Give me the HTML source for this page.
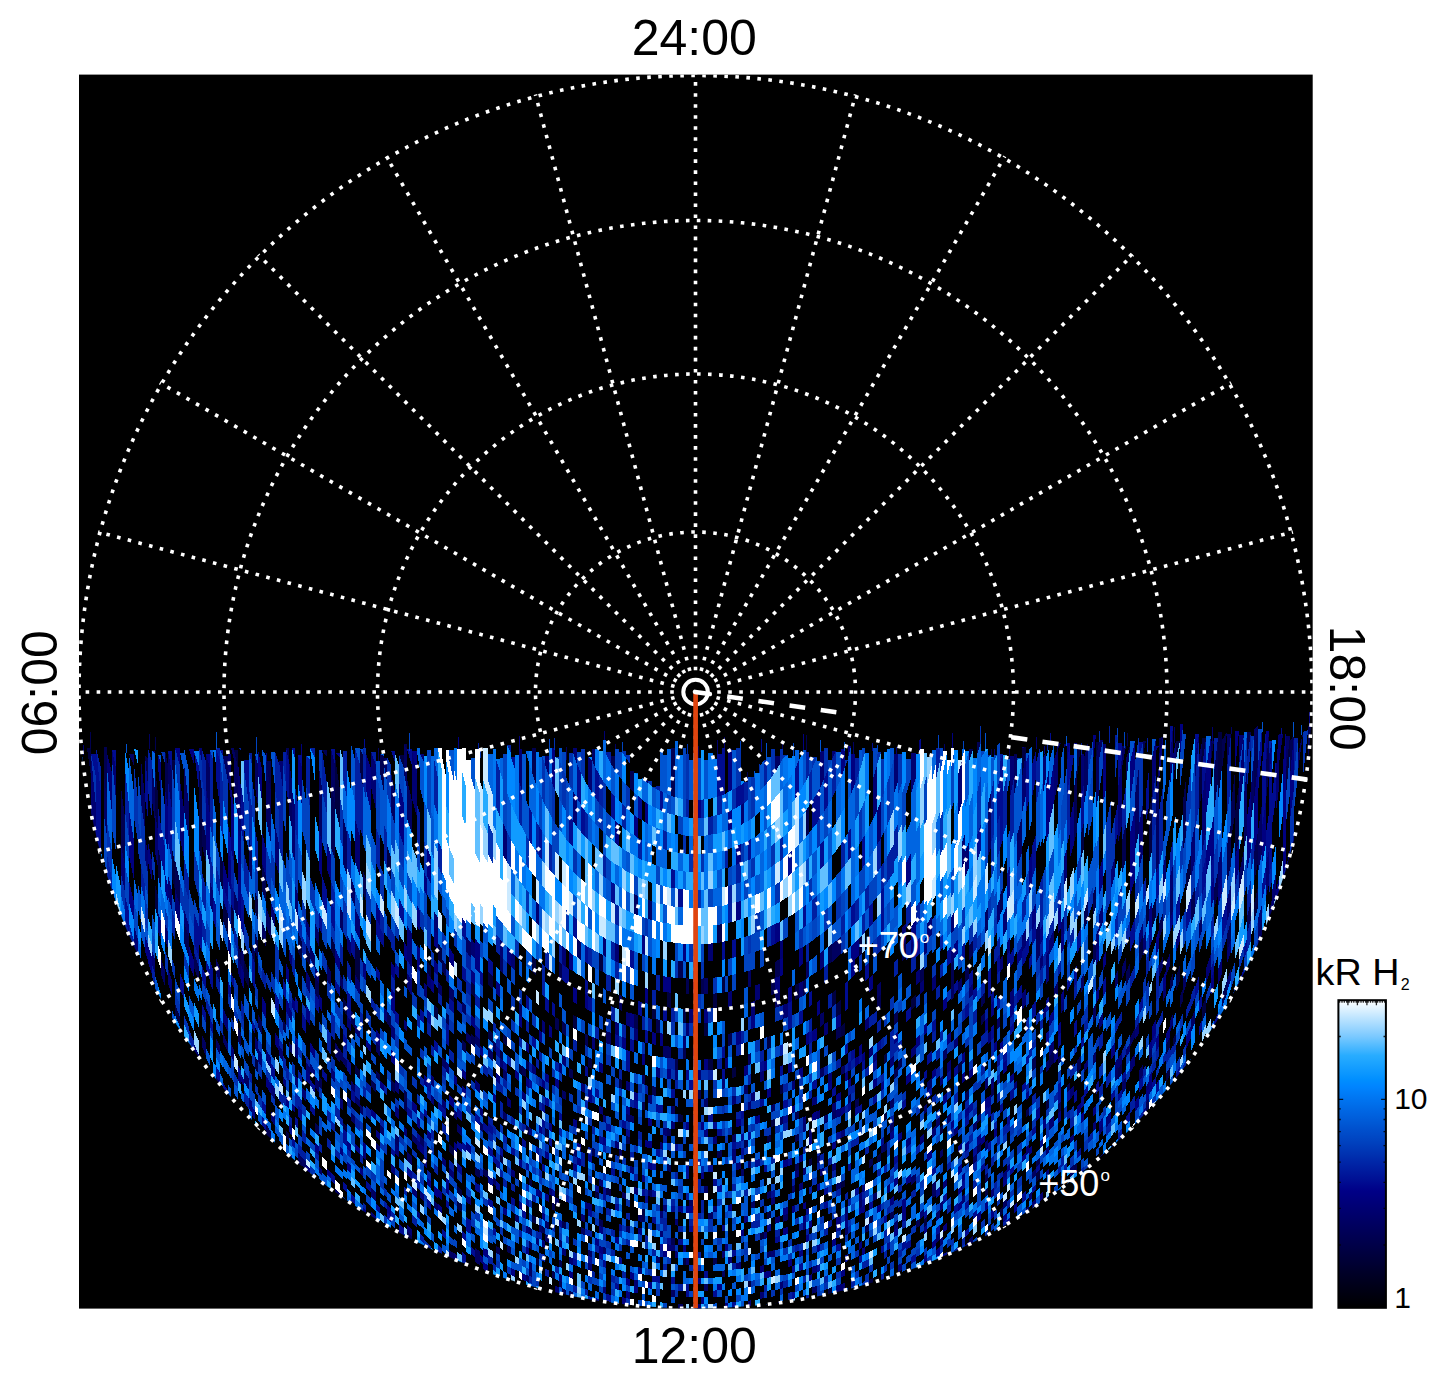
<!DOCTYPE html>
<html lang="en"><head><meta charset="utf-8"><title>Polar projection kR H2</title><style>
html,body{margin:0;padding:0;background:#fff;}
body{width:1447px;height:1384px;overflow:hidden;position:relative;font-family:"Liberation Sans",sans-serif;}
svg{position:absolute;left:0;top:0;display:block;}
text{font-family:"Liberation Sans",sans-serif;}
</style></head><body>
<svg width="1447" height="1384" viewBox="0 0 1447 1384">
<defs>
<linearGradient id="cb" x1="0" y1="0" x2="0" y2="1"><stop offset="0.0000" stop-color="#ffffff"/><stop offset="0.0200" stop-color="#e8f6ff"/><stop offset="0.0400" stop-color="#d2edff"/><stop offset="0.0600" stop-color="#bbe3ff"/><stop offset="0.0800" stop-color="#a5daff"/><stop offset="0.1000" stop-color="#8fd1ff"/><stop offset="0.1200" stop-color="#78c8ff"/><stop offset="0.1400" stop-color="#5dbfff"/><stop offset="0.1600" stop-color="#43b5ff"/><stop offset="0.1800" stop-color="#28acff"/><stop offset="0.2000" stop-color="#1ea5ff"/><stop offset="0.2200" stop-color="#149dff"/><stop offset="0.2400" stop-color="#0a96ff"/><stop offset="0.2600" stop-color="#008eff"/><stop offset="0.2800" stop-color="#0085ff"/><stop offset="0.3000" stop-color="#007df8"/><stop offset="0.3200" stop-color="#0075f1"/><stop offset="0.3400" stop-color="#006eea"/><stop offset="0.3600" stop-color="#0066e3"/><stop offset="0.3800" stop-color="#005fdc"/><stop offset="0.4000" stop-color="#0058d4"/><stop offset="0.4200" stop-color="#0050cd"/><stop offset="0.4400" stop-color="#0049c6"/><stop offset="0.4600" stop-color="#0042bf"/><stop offset="0.4800" stop-color="#003ab8"/><stop offset="0.5000" stop-color="#0032b1"/><stop offset="0.5200" stop-color="#0029aa"/><stop offset="0.5400" stop-color="#0021a3"/><stop offset="0.5600" stop-color="#00199c"/><stop offset="0.5800" stop-color="#001195"/><stop offset="0.6000" stop-color="#00088e"/><stop offset="0.6200" stop-color="#000087"/><stop offset="0.6400" stop-color="#000080"/><stop offset="0.6600" stop-color="#000078"/><stop offset="0.6800" stop-color="#000071"/><stop offset="0.7000" stop-color="#00006a"/><stop offset="0.7200" stop-color="#000063"/><stop offset="0.7400" stop-color="#00005c"/><stop offset="0.7600" stop-color="#000055"/><stop offset="0.7800" stop-color="#00004e"/><stop offset="0.8000" stop-color="#000047"/><stop offset="0.8200" stop-color="#000040"/><stop offset="0.8400" stop-color="#000039"/><stop offset="0.8600" stop-color="#000032"/><stop offset="0.8800" stop-color="#00002a"/><stop offset="0.9000" stop-color="#000023"/><stop offset="0.9200" stop-color="#00001c"/><stop offset="0.9400" stop-color="#000015"/><stop offset="0.9600" stop-color="#00000e"/><stop offset="0.9800" stop-color="#000007"/><stop offset="1.0000" stop-color="#000000"/></linearGradient>
<clipPath id="sq"><rect x="79.0" y="74.6" width="1233.7" height="1234.0"/></clipPath>
<clipPath id="disc"><circle cx="695.5" cy="692.0" r="616.5"/></clipPath>
</defs>
<rect x="0" y="0" width="1447" height="1384" fill="#fff"/>
<rect x="79.0" y="74.6" width="1233.7" height="1234.0" fill="#000"/>
<g clip-path="url(#sq)">
<g clip-path="url(#disc)" shape-rendering="crispEdges">
<path fill="#000040" d="M87 748l4 0v28l-4-28zM155 767l3 28v36l-3-18zM155 884l3 12v22l-3-11zM158 847l3 15v27l-3-13zM172 760l3 3v29l-3-27zM172 849l3 14v27l-3-12zM175 1004l5 13v10l-5-12zM184 1036l5 11v10l-5-11zM199 767l3 25v45l-3-16zM199 821l3 16v26l-3-14zM199 1060l3 6v11l-3-6zM220 850l3 13v28l-3-11zM223 899l5 16v20l-5-15zM231 903l3 10v22l-3-9zM234 750l4 0v18l-4-18zM244 960l5 13v16l-5-12zM255 891l3 10v19l-3-9zM255 1056l3 5v12l-3-5zM286 1130l3 4v7l-3-4zM298 932l4 10v19l-4-9zM306 945l4 9v13l-4-8zM331 936l4 9v14l-4-9zM335 757l5 33v39l-5-22zM343 997l4 7v12l-4-6zM343 1123l4 4v6l-4-4zM355 941l5 10v19l-5-9zM355 961l5 9v13l-5-9zM355 1064l5 7v9l-5-7zM360 749l3 6v32l-3-17zM387 845l4 12v23l-4-10zM399 755l5 0v13l-5-13zM427 961l4 6v11l-4-6zM434 1004l4 5v12l-4-5zM438 943l4 6v15l-4-5zM449 1144l5 4v8l-5-4zM457 1186l5 4v7l-5-4zM457 1201l5 3v8l-5-3zM471 982l4 4v12l-4-4zM488 972l5 5v13l-5-5zM488 1029l5 5v9l-5-4zM500 1050l3 2v9l-3-3zM500 1155l3 2v7l-3-2zM503 1034l4 3v9l-4-3zM519 1064l3 2v9l-3-2zM526 1125l3 2v8l-3-2zM529 1178l3 2v7l-3-2zM532 956l4 3v16l-4-3zM532 1215l4 2v7l-4-2zM536 1258l3 1v7l-3-1zM545 1128l4 2v8l-4-2zM573 1015l4 2v13l-4-2zM588 1057l4 2v10l-4-2zM595 1191l4 2v6l-4-1zM599 953l4 2v17l-4-2zM619 1079l3 1v9l-3-1zM642 1209l3 0v7l-3-1zM652 1005l4 0v14l-4 0zM667 992l4 1v15l-4-1zM678 1114l5 1v7l-5 0zM683 1009l3 0v14l-3 0zM683 1258l3 0v7l-3 0zM704 1023l4 0v13l-4 0zM708 1059l5 0v11l-5 0zM713 994l4-1v15l-4 0zM722 977l3-1v16l-3 1zM732 1068l4-1v10l-4 1zM748 1281l3 0v6l-3 0zM760 1233l4-1v7l-4 1zM767 1037l4-1v12l-4 1zM767 1136l4-1v7l-4 1zM767 1212l4-1v7l-4 1zM771 1120l4-1v7l-4 1zM780 1085l3-1v9l-3 1zM795 985l4-2v15l-4 2zM809 1159l3-1v7l-3 1zM828 1289l4-2v7l-4 2zM832 993l4-3v14l-4 3zM836 1004l5-4v14l-5 3zM841 1026l4-3v12l-4 2zM841 1182l4-2v7l-4 1zM859 938l3-3v18l-3 3zM869 1217l4-2v7l-4 2zM869 1280l4-2v7l-4 2zM877 1156l4-3v8l-4 2zM884 1055l3-2v9l-3 2zM884 1114l3-3v8l-3 2zM911 999l5-5v11l-5 5zM924 1219l3-2v8l-3 2zM940 1127l3-2v8l-3 2zM958 1065l4-5v9l-4 4zM985 1190l3-3v7l-3 3zM1000 1209l3-3v7l-3 3zM1022 748l4-1v4l-4 27zM1036 1173l4-4v9l-4 4zM1046 1102l3-4v9l-3 4zM1061 1177l3-4v9l-3 3zM1077 750l4-5v0l-4 33zM1081 834l3-12v26l-3 11zM1096 742l3 0v0l-3 17zM1139 946l4-11v19l-4 10zM1146 907l3-10v23l-3 9zM1149 812l3-18v57l-3 12zM1152 910l4-13v20l-4 12zM1166 1045l4-8v10l-4 8zM1166 1074l4-7v8l-4 8zM1173 1039l3-6v8l-3 6zM1176 741l4 0v0l-4 18zM1176 976l4-11v16l-4 10zM1186 875l5-21v19l-5 19zM1199 782l3-31v40l-3 21zM1202 738l4 0v0l-4 29zM1202 1007l4-10v15l-4 10zM1218 732l4 0v0l-4 39zM1218 771l4-39v35l-4 34zM1235 814l4-30v55l-4 20zM1254 904l4-17v20l-4 15zM1286 770l4-34v16l-4 43z"/>
<path fill="#000050" d="M83 767l4 38v47l-4-25zM90 732h1v17h-1zM104 747l3 0v10l-3-10zM104 747l3 10v45l-3-28zM121 787l4 31v48l-4-21zM145 756l3 2v28l-3-30zM155 737h1v13h-1zM165 750l3 15v45l-3-22zM172 760l3 0v3l-3-3zM175 860l5 22v25l-5-19zM184 922l5 16v19l-5-15zM194 953l5 14v14l-5-13zM202 816l4 22v25l-4-18zM238 945l3 8v12l-3-8zM238 1027l3 6v14l-3-6zM252 944l3 8v11l-3-8zM255 932l3 9v19l-3-8zM258 1014l4 8v13l-4-8zM262 863l4 14v25l-4-12zM266 761l5 0v31l-5-31zM266 1124l5 8v9l-5-7zM283 1019l3 6v9l-3-5zM286 748l3 0v13l-3-13zM298 1158l4 5v7l-4-5zM315 976l4 8v16l-4-7zM315 1122l4 5v10l-4-5zM319 1075l3 5v10l-3-4zM322 750l5 0v7l-5-7zM331 784l4 21v55l-4-13zM351 1010l4 6v13l-4-6zM363 871l3 8v22l-3-8zM371 1079l5 6v8l-5-7zM376 1070l4 5v7l-4-5zM380 754l4 2v37l-4-21zM387 1011l4 6v12l-4-6zM391 1080l4 4v10l-4-4zM404 744l3 0v5l-3-5zM404 1089l3 4v10l-3-3zM404 1100l3 3v10l-3-3zM407 1232l5 4v7l-5-4zM442 959l4 6v12l-4-6zM446 1012l3 4v10l-3-3zM462 1040l4 4v10l-4-4zM471 1034l4 4v9l-4-3zM475 1167l5 3v8l-5-3zM483 1168l5 3v7l-5-3zM496 1246l4 2v7l-4-2zM507 1245l4 2v7l-4-2zM522 1066l4 3v8l-4-2zM526 1060l3 2v9l-3-2zM532 748l4 0v36l-4-11zM542 1226l3 2v6l-3-1zM552 1203l3 1v7l-3-1zM552 1271l3 1v7l-3-1zM555 1017l4 2v12l-4-2zM559 962l3 2v16l-3-2zM559 1260l3 1v7l-3-1zM559 1281l3 1v6l-3-1zM562 1021l4 3v12l-4-3zM562 1221l4 1v7l-4-1zM562 1288l4 2v6l-4-1zM569 1068l4 2v9l-4-2zM569 1291l4 1v7l-4-2zM585 1034l3 1v12l-3-2zM592 1148l3 1v8l-3-1zM599 1219l4 1v7l-4-1zM606 1188l5 1v7l-5-1zM611 756l4 0v14l-4-6zM626 1136l4 1v7l-4 0zM630 771l4 0v22l-4-4zM634 1014l4 1v14l-4-1zM642 1102l3 0v8l-3 0zM642 1215l3 1v6l-3 0zM652 1086l4 1v9l-4-1zM656 1019l4 1v13l-4 0zM660 1309l3 0v7l-3-1zM667 1164l4 1v7l-4-1zM671 748l4 0v49l-4-1zM671 1238l4 0v7l-4 0zM675 1059l3 0v11l-3 0zM678 961l5 0v17l-5 0zM683 1048l3 0v11l-3 0zM686 978l3 1v15l-3 0zM693 1009l4 0v14l-4 0zM698 746h1v13h-1zM697 1090l4 0v9l-4 0zM701 979l3-1v16l-3 0zM713 1258l4 0v6l-4 1zM717 925l5-1v18l-5 1zM717 1151l5-1v7l-5 1zM728 1034l4-1v12l-4 1zM747 772h1v11h-1zM744 1140l4 0v7l-4 1zM771 980l4-2v16l-4 1zM775 962l5-3v17l-5 2zM795 1112l4-1v8l-4 1zM795 1135l4-1v7l-4 1zM795 1164l4-1v7l-4 1zM803 981l3-2v15l-3 2zM806 735h1v18h-1zM806 811l3-5v27l-3 4zM828 947l4-3v18l-4 2zM836 1029l5-3v11l-5 3zM855 1100l4-2v8l-4 2zM865 1226l4-2v7l-4 2zM869 1160l4-2v7l-4 3zM877 998l4-3v12l-4 4zM884 1144l3-2v8l-3 2zM890 1213l4-2v7l-4 2zM894 1014l4-4v11l-4 4zM894 1070l4-3v9l-4 3zM898 1061l4-3v8l-4 4zM902 946l4-5v16l-4 5zM916 1221l4-2v7l-4 2zM920 970l4-4v13l-4 4zM951 965l3-5v12l-3 4zM951 976l3-4v12l-3 4zM965 970l4-6v14l-4 5zM965 1093l4-4v9l-4 4zM969 749l4 0v0l-4 13zM969 946l4-6v15l-4 6zM977 742l4 0v0l-4 13zM977 1146l4-4v9l-4 3zM981 998l4-6v10l-4 6zM981 1017l4-5v8l-4 6zM985 1175l3-3v8l-3 3zM991 749h1v10h-1zM991 1090l3-3v7l-3 4zM1000 895l3-7v21l-3 6zM1009 747h1v13h-1zM1014 754l3 0v0l-3 6zM1026 1111l3-4v7l-3 3zM1032 1060l4-5v12l-4 5zM1036 1161l4-4v6l-4 5zM1049 1057l5-8v13l-5 7zM1058 1058l3-4v7l-3 5zM1058 1105l3-4v9l-3 4zM1067 1086l3-4v7l-3 4zM1074 788l3-20v63l-3 12zM1074 1166l3-4v8l-3 4zM1077 1061l4-6v13l-4 6zM1081 1176l3-3v7l-3 3zM1084 912l4-11v19l-4 10zM1093 895l3-9v21l-3 9zM1093 946l3-7v20l-3 6zM1118 1069l4-6v10l-4 7zM1122 841l4-18v36l-4 15zM1127 733h1v13h-1zM1126 972l4-9v14l-4 9zM1143 741l3 0v0l-3 14zM1146 1103l3-5v10l-3 5zM1159 738l4-1v0l-4 18zM1159 925l4-12v15l-4 12zM1170 981l3-8v12l-3 7zM1180 996l3-7v12l-3 7zM1183 801l3-23v58l-3 15zM1191 901l4-15v26l-4 13zM1206 1043l5-11v9l-5 11zM1211 741l3 0v0l-3 20zM1214 773l4-35v43l-4 30zM1214 889l4-17v23l-4 14zM1222 740l5-8v0l-5 38zM1222 995l5-14v13l-5 13zM1227 846l4-23v42l-4 17zM1227 935l4-14v18l-4 13zM1231 805l4-34v44l-4 24zM1247 732l4 0v0l-4 28zM1247 917l4-16v18l-4 14zM1254 760l4-35v38l-4 38zM1254 854l4-23v32l-4 19zM1266 765l3-34v43l-3 27zM1290 741l4-6v0l-4 41zM1308 726l4 0v0l-4 36z"/>
<path fill="#000061" d="M104 774l3 28v34l-3-20zM112 887l4 17v20l-4-15zM129 754l5 0v12l-5-12zM141 759l4 39v31l-4-26zM149 734h1v15h-1zM152 764l3 28v29l-3-20zM161 959l4 11v16l-4-11zM168 751l4 22v38l-4-31zM184 764l5 41v34l-5-29zM202 1035l4 8v13l-4-9zM206 754l4 15v46l-4-27zM216 958l4 10v15l-4-10zM216 1038l4 8v9l-4-8zM216 1076l4 7v8l-4-7zM223 756l5 0v4l-5-4zM223 756l5 4v22l-5-26zM223 1033l5 11v8l-5-10zM231 748l3 0v12l-3-12zM234 750l4 18v50l-4-24zM234 890l4 13v17l-4-12zM241 947l3 8v18l-3-8zM244 1070l5 9v11l-5-8zM249 838l3 13v30l-3-11zM255 754l3 11v41l-3-19zM262 921l4 11v15l-4-10zM266 761l5 31v51l-5-23zM266 907l5 14v18l-5-13zM289 761l3 20v47l-3-14zM289 1041l3 5v8l-3-5zM298 1152l4 6v5l-4-5zM302 1157l4 5v8l-4-5zM310 945l5 11v12l-5-10zM315 923l4 10v14l-4-10zM315 1076l4 6v11l-4-6zM319 768l3 20v53l-3-11zM319 1167l3 3v6l-3-4zM327 964l4 8v15l-4-7zM331 749l4 16v40l-4-21zM335 1042l5 8v13l-5-7zM335 1188l5 6v6l-5-6zM340 906l3 7v20l-3-6zM340 974l3 6v11l-3-6zM340 1049l3 5v9l-3-4zM343 817l4 16v42l-4-12zM343 1056l4 5v8l-4-6zM351 878l4 11v18l-4-10zM351 1080l4 6v7l-4-5zM351 1112l4 5v8l-4-5zM355 1095l5 6v7l-5-6zM360 1104l3 4v8l-3-4zM371 1188l5 5v8l-5-4zM378 748h1v14h-1zM376 1042l4 5v10l-4-6zM376 1142l4 5v6l-4-4zM380 1125l4 4v8l-4-5zM384 758l3 0v24l-3-17zM391 772l4 20v33l-4-14zM395 1134l4 4v10l-4-4zM404 744l3 5v39l-3-14zM407 779l5 22v33l-5-16zM407 1152l5 5v8l-5-4zM412 1134l5 4v7l-5-4zM420 1136l4 4v8l-4-4zM434 1201l4 3v7l-4-3zM438 981l4 6v10l-4-5zM442 1057l4 4v9l-4-4zM449 985l5 6v12l-5-6zM449 1250l5 3v8l-5-3zM457 1124l5 5v7l-5-4zM462 1001l4 5v10l-4-4zM466 936l5 7v15l-5-7zM466 1032l5 5v9l-5-5zM475 1035l5 5v9l-5-5zM475 1248l5 3v7l-5-3zM475 1255l5 3v7l-5-3zM475 1269l5 3v7l-5-3zM480 1122l3 3v7l-3-2zM488 1048l5 4v9l-5-4zM493 1041l3 2v9l-3-2zM493 1177l3 2v7l-3-2zM500 956l3 3v15l-3-3zM503 1069l4 4v8l-4-3zM503 1111l4 3v7l-4-2zM515 1214l4 2v7l-4-2zM519 1003l3 2v12l-3-2zM526 1275l3 1v7l-3-2zM529 1227l3 2v7l-3-2zM529 1241l3 2v7l-3-2zM529 1262l3 1v7l-3-1zM529 1269l3 1v7l-3-1zM539 1225l3 1v7l-3-1zM545 1221l4 1v7l-4-1zM545 1234l4 2v7l-4-2zM555 1197l4 2v7l-4-2zM559 1240l3 1v7l-3-1zM562 1090l4 2v8l-4-2zM566 747h1v13h-1zM573 1149l4 1v7l-4-1zM577 939l4 3v18l-4-3zM581 1227l4 2v6l-4-1zM588 1250l4 1v6l-4-1zM592 749l3 0v18l-3-7zM603 1247l3 1v6l-3 0zM606 1031l5 2v12l-5-2zM615 744h1v7h-1zM619 995l3 1v15l-3-2zM619 1149l3 1v7l-3-1zM622 1192l4 1v6l-4-1zM626 1114l4 1v7l-4-1zM626 1226l4 0v7l-4-1zM630 1115l4 1v7l-4-1zM634 894l4 2v19l-4-1zM638 1215l4 0v7l-4-1zM642 1075l3 0v10l-3-1zM648 900l4 1v19l-4-1zM648 1190l4 0v7l-4-1zM656 1256l4 1v6l-4 0zM663 1046l4 0v12l-4-1zM667 1046l4 1v11l-4 0zM667 1128l4 1v7l-4 0zM671 1106l4 0v8l-4 0zM671 1290l4 0v7l-4 0zM671 1310l4 0v6l-4 0zM678 1304l5 0v6l-5 0zM689 1200l4 0v6l-4 0zM693 1144l4 0v7l-4 0zM704 978l4 0v16l-4 0zM704 1099l4-1v9l-4 0zM704 1186l4 0v7l-4 0zM704 1284l4 0v7l-4 0zM708 1213l5-1v7l-5 0zM722 1271l3-1v7l-3 0zM732 1135l4-1v8l-4 0zM741 1169l3 0v7l-3 0zM744 1085l4 0v9l-4 0zM748 971l3-1v17l-3 0zM748 1054l3-1v11l-3 1zM748 1161l3 0v7l-3 0zM751 1202l4-1v7l-4 0zM767 1192l4-1v7l-4 1zM767 1252l4-1v6l-4 1zM771 1105l4-1v7l-4 1zM775 756l5 0v8l-5 8zM775 994l5-2v14l-5 2zM782 743h1v7h-1zM780 1117l3-1v8l-3 1zM783 1215l5-1v6l-5 2zM792 1186l3-1v7l-3 1zM806 962l3-1v16l-3 2zM812 1287l5-1v6l-5 2zM817 1156l3-1v7l-3 1zM820 1014l4-2v12l-4 3zM820 1069l4-2v9l-4 2zM824 1116l4-2v8l-4 2zM832 944l4-3v17l-4 4zM832 1112l4-2v8l-4 2zM836 941l5-5v18l-5 4zM836 1184l5-2v6l-5 3zM841 1067l4-2v8l-4 2zM845 1207l3-1v7l-3 1zM845 1228l3-1v7l-3 1zM848 1096l3-2v8l-3 2zM853 742h1v14h-1zM859 1201l3-1v7l-3 1zM873 1194l4-2v7l-4 2zM877 985l4-4v14l-4 3zM881 1146l3-2v8l-3 1zM890 1101l4-3v9l-4 2zM890 1125l4-3v8l-4 3zM894 1223l4-3v7l-4 3zM911 1177l5-3v7l-5 4zM924 1106l3-3v9l-3 2zM927 1082l5-5v10l-5 4zM932 1184l4-3v7l-4 3zM932 1191l4-3v8l-4 2zM936 1120l4-3v8l-4 3zM936 1213l4-3v8l-4 3zM936 1235l4-2v7l-4 3zM940 1151l3-3v7l-3 3zM944 744h1v8h-1zM943 1052l4-5v10l-4 4zM947 1116l4-4v8l-4 4zM951 988l3-4v13l-3 4zM958 983l4-6v12l-4 6zM969 1239l4-3v8l-4 3zM973 1124l4-4v8l-4 4zM973 1157l4-4v8l-4 3zM977 1116l4-4v7l-4 4zM985 913l3-6v22l-3 5zM985 1142l3-3v9l-3 3zM988 804l3-12v56l-3 8zM997 1020l3-4v10l-3 4zM1003 1202l4-4v7l-4 4zM1014 760l3-6v27l-3 15zM1017 835l5-18v36l-5 14zM1026 1208l3-3v5l-3 3zM1032 1172l4-4v7l-4 4zM1036 930l4-9v19l-4 8zM1036 948l4-8v15l-4 8zM1046 1063l3-4v10l-3 4zM1054 989l4-8v12l-4 7zM1058 743l3 0v0l-3 6zM1070 1169l4-5v9l-4 5zM1081 979l3-6v14l-3 6zM1084 758l4-16v40l-4 23zM1093 1009l3-6v14l-3 6zM1093 1056l3-5v10l-3 5zM1096 759l3-17v51l-3 17zM1099 740l4 0v0l-4 19zM1115 976l3-6v13l-3 6zM1115 1071l3-5v12l-3 4zM1122 746l4 0v0l-4 22zM1122 967l4-10v13l-4 9zM1122 1083l4-6v11l-4 7zM1126 759l4-14v4l-4 35zM1130 1038l5-10v9l-5 10zM1135 796l4-30v66l-4 18zM1139 1071l4-7v11l-4 7zM1149 1053l3-5v8l-3 5zM1156 790l3-25v66l-3 14zM1156 845l3-14v31l-3 12zM1159 966l4-10v11l-4 10zM1170 897l3-11v24l-3 10zM1174 727h1v16h-1zM1183 979l3-8v15l-3 8zM1191 1019l4-9v13l-4 9zM1199 756l3-14v9l-3 31zM1199 925l3-10v15l-3 10zM1227 734l4 0v0l-4 34zM1231 727h1v7h-1zM1239 874l5-24v19l-5 21zM1244 796l3-27v64l-3 16zM1251 787l3-31v44l-3 21zM1254 730l4-5v0l-4 35zM1258 831l4-27v49l-4 20zM1258 933l4-15v20l-4 13zM1269 911l3-12v20l-3 12zM1286 736l4 0v0l-4 34zM1298 754l5-21v0l-5 39zM1308 762l4-36v25l-4 45z"/>
<path fill="#000071" d="M83 745h1v10h-1zM91 756l5 51v46l-5-31zM107 753l5 20v40l-5-44zM112 750l4 18v32l-4-40zM121 845l4 21v26l-4-18zM134 926l4 14v19l-4-13zM145 837l3 16v20l-3-14zM152 751l3 0v3l-3-3zM152 950l3 10v13l-3-9zM155 813l3 18v36l-3-14zM158 912l3 10v19l-3-10zM165 923l3 10v16l-3-10zM168 875l4 16v20l-4-15zM168 969l4 11v15l-4-11zM175 888l5 19v19l-5-17zM180 780l4 30v48l-4-19zM184 909l5 17v12l-5-16zM194 1044l5 11v7l-5-10zM194 1052l5 10v12l-5-10zM199 748l3 0v14l-3-14zM210 881l3 11v22l-3-10zM223 1008l5 11v13l-5-10zM228 751l3 4v45l-3-21zM228 936l3 8v14l-3-8zM231 1044l3 6v12l-3-6zM238 763l3 25v55l-3-14zM238 957l3 8v15l-3-7zM238 1073l3 5v7l-3-5zM249 1097l3 5v11l-3-5zM255 1036l3 6v12l-3-6zM258 1048l4 7v13l-4-7zM266 1049l5 9v11l-5-9zM271 902l4 12v13l-4-11zM271 1082l4 7v11l-4-6zM271 1111l4 6v9l-4-6zM275 826l4 18v31l-4-14zM279 761l4 0v29l-4-29zM279 1045l4 7v10l-4-7zM283 1076l3 5v7l-3-5zM289 949l3 7v11l-3-7zM289 1007l3 6v10l-3-6zM292 790l3 17v55l-3-11zM295 885l3 10v21l-3-8zM295 1042l3 6v12l-3-5zM295 1074l3 5v10l-3-5zM295 1161l3 4v6l-3-4zM302 1087l4 5v10l-4-6zM306 918l4 10v13l-4-10zM306 970l4 8v16l-4-8zM306 1062l4 6v7l-4-6zM310 1063l5 8v7l-5-7zM315 966l4 8v10l-4-8zM331 1067l4 6v10l-4-6zM340 1097l3 4v10l-3-3zM347 935l4 8v14l-4-8zM347 1015l4 7v10l-4-6zM355 819l5 18v39l-5-14zM355 908l5 12v20l-5-10zM355 974l5 9v12l-5-8zM355 1024l5 8v7l-5-7zM363 1148l3 4v9l-3-4zM371 752l5 13v45l-5-23zM371 1212l5 5v7l-5-4zM384 1007l3 4v12l-3-4zM391 1024l4 5v12l-4-5zM391 1164l4 3v9l-4-4zM395 1079l4 5v11l-4-5zM395 1106l4 4v10l-4-4zM395 1144l4 4v10l-4-4zM404 1019l3 4v9l-3-4zM404 1127l3 3v8l-3-3zM407 925l5 9v17l-5-8zM407 943l5 8v17l-5-8zM407 973l5 8v15l-5-8zM407 1225l5 4v7l-5-4zM412 751l5 24v42l-5-18zM412 1187l5 4v7l-5-4zM417 1140l3 3v9l-3-3zM417 1211l3 2v6l-3-2zM420 754l4 0v8l-4-8zM420 1191l4 3v7l-4-3zM424 982l3 4v13l-3-4zM424 1157l3 3v8l-3-2zM427 972l4 6v12l-4-5zM431 1075l3 3v10l-3-3zM431 1095l3 3v8l-3-3zM434 911l4 7v18l-4-7zM442 1099l4 4v8l-4-4zM442 1157l4 3v8l-4-4zM446 1062l3 3v10l-3-3zM449 1168l5 4v7l-5-4zM454 1110l3 3v8l-3-3zM454 1253l3 2v8l-3-2zM466 1195l5 3v7l-5-3zM471 938l4 6v15l-4-5zM475 1080l5 4v9l-5-4zM480 1107l3 2v8l-3-2zM500 939l3 4v16l-3-3zM500 1058l3 3v8l-3-2zM503 823l4 9v30l-4-7zM507 1097l4 3v8l-4-2zM511 951l4 5v15l-4-4zM511 1169l4 2v7l-4-2zM519 749l3 0v41l-3-8zM522 1091l4 3v8l-4-3zM526 1226l3 1v7l-3-1zM529 1127l3 2v7l-3-1zM532 1064l4 3v8l-4-2zM536 902l3 3v21l-3-3zM536 1238l3 1v7l-3-2zM539 1190l3 2v7l-3-2zM542 1020l3 2v12l-3-2zM542 1240l3 1v7l-3-1zM545 756l4 0v20l-4-12zM549 1188l3 1v7l-3-1zM555 1286l4 1v7l-4-1zM559 1063l3 1v10l-3-2zM559 1274l3 1v7l-3-1zM562 946l4 3v18l-4-3zM562 1055l4 2v10l-4-3zM562 1248l4 1v7l-4-1zM569 1257l4 1v7l-4-1zM573 748l4 0v16l-4-11zM573 791l4 7v29l-4-6zM581 1083l4 1v9l-4-2zM581 1214l4 1v7l-4-1zM585 1202l3 1v6l-3 0zM588 757l4 3v33l-4-7zM588 1203l4 1v7l-4-2zM588 1263l4 1v7l-4-1zM592 1037l3 1v12l-3-1zM599 1106l4 1v8l-4-2zM599 1179l4 1v7l-4-1zM604 731h1v10h-1zM603 937l3 2v18l-3-2zM603 1115l3 1v7l-3-1zM603 1287l3 0v7l-3-1zM615 943l4 2v18l-4-2zM615 1022l4 1v13l-4-2zM615 1141l4 1v7l-4-1zM626 1012l4 1v14l-4-2zM626 1081l4 1v9l-4-1zM630 1166l4 1v7l-4-1zM634 1028l4 1v12l-4-1zM634 1187l4 1v7l-4-1zM634 1280l4 0v7l-4-1zM638 1267l4 1v6l-4 0zM645 780l3 0v3l-3-2zM648 1095l4 0v9l-4-1zM656 1067l4 1v10l-4-1zM660 1142l3 1v7l-3-1zM660 1211l3 0v7l-3 0zM660 1231l3 0v6l-3 0zM663 1128l4 0v8l-4-1zM663 1205l4 0v7l-4-1zM667 1244l4 1v6l-4 0zM671 1121l4 1v7l-4 0zM671 1245l4 0v6l-4 0zM675 1070l3 0v10l-3 0zM675 1219l3 0v7l-3-1zM675 1251l3 1v6l-3 0zM683 1036l3 0v12l-3 0zM686 1023l3 0v13l-3 0zM686 1258l3 0v7l-3 0zM689 1009l4 0v14l-4 0zM693 979l4 0v15l-4 0zM697 1070l4 0v10l-4 0zM697 1304l4 0v6l-4 0zM708 944l5-1v18l-5 0zM713 1137l4-1v8l-4 0zM713 1206l4 0v6l-4 0zM717 740h1v15h-1zM724 737h1v12h-1zM722 1079l3 0v9l-3 1zM722 1251l3 0v6l-3 1zM725 1058l3-1v11l-3 1zM728 992l4-1v15l-4 1zM728 1257l4 0v6l-4 1zM732 1096l4 0v8l-4 1zM732 1149l4 0v7l-4 0zM732 1156l4 0v7l-4 1zM736 1163l5-1v7l-5 1zM736 1263l5-1v7l-5 0zM741 805l3-2v20l-3 2zM748 1102l3-1v8l-3 1zM748 1301l3-1v7l-3 0zM751 1002l4-1v14l-4 1zM751 1093l4-1v9l-4 0zM755 985l5-1v15l-5 2zM760 1072l4-1v10l-4 1zM760 1266l4-1v7l-4 1zM760 1292l4 0v6l-4 1zM764 1232l3 0v6l-3 1zM771 1198l4-1v7l-4 1zM771 1251l4-1v7l-4 0zM775 1217l5-1v6l-5 2zM780 941l3-1v18l-3 1zM780 1282l3-1v7l-3 1zM783 1005l5-2v14l-5 2zM792 1081l3-1v9l-3 1zM795 1171l4-1v7l-4 1zM799 983l4-2v15l-4 2zM799 1184l4-2v7l-4 2zM803 1117l3-1v8l-3 1zM803 1125l3-1v7l-3 1zM803 1168l3-1v7l-3 1zM803 1223l3-1v7l-3 1zM809 1130l3-1v7l-3 1zM812 1098l5-2v8l-5 2zM812 1267l5-2v7l-5 2zM817 1111l3-1v8l-3 1zM820 751l4 0v28l-4 9zM820 953l4-3v17l-4 3zM820 1169l4-1v7l-4 1zM824 1024l4-2v12l-4 2zM828 1074l4-2v8l-4 3zM832 751l4 0v0l-4 8zM832 1104l4-2v8l-4 2zM832 1164l4-1v7l-4 1zM836 1110l5-2v8l-5 2zM836 1286l5-2v7l-5 2zM841 1131l4-2v7l-4 2zM841 1284l4-1v7l-4 1zM845 1214l3-1v7l-3 1zM859 1194l3-2v8l-3 1zM862 1185l3-1v7l-3 1zM865 1020l4-3v11l-4 3zM869 1049l4-3v9l-4 3zM873 779l4-14v46l-4 8zM873 1055l4-3v8l-4 3zM877 811l4-10v37l-4 7zM887 1186l3-2v8l-3 1zM890 1059l4-3v9l-4 3zM896 747h1v9h-1zM894 754l4 0v27l-4 13zM898 1265l4-2v7l-4 2zM902 928l4-5v18l-4 5zM906 1140l5-3v7l-5 4zM911 753l5 0v24l-5 17zM911 944l5-6v16l-5 6zM911 1049l5-5v9l-5 5zM916 973l4-5v13l-4 5zM920 983l4-4v11l-4 5zM920 1137l4-3v8l-4 3zM920 1212l4-3v7l-4 3zM924 941l3-5v16l-3 4zM927 924l5-8v18l-5 7zM932 979l4-5v13l-4 5zM932 1129l4-3v8l-4 4zM940 1078l3-3v8l-3 3zM940 1203l3-2v8l-3 2zM940 1239l3-2v7l-3 2zM943 1182l4-3v7l-4 3zM947 1063l4-4v10l-4 4zM951 918l3-6v18l-3 4zM951 951l3-4v13l-3 5zM954 1040l4-4v9l-4 5zM954 1129l4-4v7l-4 4zM958 775l4-15v42l-4 14zM962 842l3-8v27l-3 7zM962 1196l3-2v8l-3 2zM965 852l4-10v26l-4 9zM969 989l4-6v11l-4 5zM985 1079l3-3v11l-3 3zM988 1034l3-4v11l-3 4zM991 1080l3-4v11l-3 3zM991 1190l3-2v7l-3 3zM994 749h1v7h-1zM997 906l3-7v20l-3 6zM1000 960l3-5v13l-3 5zM1003 915l4-9v23l-4 8zM1003 1173l4-4v6l-4 4zM1007 943l3-6v13l-3 6zM1010 756l4 0v22l-4 20zM1010 993l4-6v15l-4 6zM1014 1084l3-4v7l-3 4zM1022 778l4-27v44l-4 18zM1022 936l4-8v17l-4 7zM1022 994l4-6v16l-4 6zM1026 1148l3-4v8l-3 3zM1029 1194l3-3v7l-3 3zM1029 1212l3-3v7l-3 3zM1032 1202l4-4v6l-4 4zM1036 737h1v12h-1zM1040 959l3-6v12l-3 6zM1040 1194l3-3v7l-3 3zM1043 758l3-5v24l-3 17zM1043 1011l3-5v10l-3 5zM1046 956l3-6v17l-3 6zM1046 973l3-6v13l-3 5zM1046 1149l3-4v7l-3 4zM1046 1171l3-3v5l-3 4zM1049 941l5-11v15l-5 10zM1049 1047l5-7v9l-5 8zM1049 1121l5-6v10l-5 6zM1057 742h1v8h-1zM1054 760l4-12v34l-4 21zM1061 923l3-7v15l-3 6zM1061 1005l3-6v10l-3 5zM1064 744l3 0v0l-3 4zM1064 858l3-10v29l-3 8zM1070 1090l4-5v9l-4 6zM1070 1138l4-5v6l-4 5zM1081 754l3 0v29l-3 17zM1084 1065l4-6v7l-4 7zM1093 1124l3-4v8l-3 4zM1096 935l3-7v18l-3 7zM1099 915l4-11v18l-4 10zM1099 1020l4-8v11l-4 7zM1099 1129l4-6v7l-4 6zM1103 744l3 0v0l-3 21zM1103 1155l3-4v6l-3 4zM1106 1118l5-7v10l-5 7zM1111 871l4-14v18l-4 14zM1115 1063l3-5v8l-3 5zM1118 789l4-32v68l-4 18zM1118 1059l4-7v11l-4 6zM1126 1050l4-7v8l-4 7zM1130 1062l5-9v12l-5 8zM1135 1030l4-8v11l-4 7zM1139 825l4-22v50l-4 16zM1139 935l4-12v12l-4 11zM1143 939l3-8v17l-3 8zM1146 1087l3-6v7l-3 5zM1152 759l4-20v33l-4 29zM1163 867l3-13v23l-3 11zM1163 992l3-7v10l-3 7zM1166 963l4-10v13l-4 10zM1170 758l3-32v34l-3 26zM1170 877l3-12v21l-3 11zM1170 1021l3-7v11l-3 7zM1173 756l3-15v15l-3 28zM1176 941l4-12v12l-4 12zM1191 845l4-20v35l-4 17zM1195 756l4-22v4l-4 44zM1202 802l4-33v64l-4 20zM1206 968l5-14v15l-5 14zM1212 727h1v16h-1zM1218 864l4-19v28l-4 17zM1218 969l4-11v16l-4 11zM1227 900l4-16v24l-4 14zM1227 952l4-13v12l-4 13zM1227 980l4-11v11l-4 11zM1239 735l5 0v0l-5 30zM1239 786l5-51v37l-5 41zM1258 919l4-15v14l-4 15zM1266 865l3-15v34l-3 13zM1269 756l3-15v5l-3 36zM1272 891l4-18v22l-4 16zM1276 770l3-42v60l-3 24zM1279 734l4 0v0l-4 30zM1286 869l4-21v32l-4 18z"/>
<path fill="#000081" d="M129 810l5 31v39l-5-24zM129 881l5 21v19l-5-19zM145 935l3 10v15l-3-9zM148 841l4 21v19l-4-19zM148 945l4 12v17l-4-12zM158 755l3 8v32l-3-28zM165 788l3 22v41l-3-15zM165 874l3 12v16l-3-12zM175 748l5 0v18l-5-18zM189 749l5 0v15l-5-15zM189 946l5 14v17l-5-13zM206 754l4 0v15l-4-15zM206 788l4 27v51l-4-18zM223 860l5 20v21l-5-17zM228 849l3 13v29l-3-11zM231 787l3 20v55l-3-13zM238 829l3 14v39l-3-12zM238 870l3 12v24l-3-10zM238 896l3 10v16l-3-9zM241 965l3 8v16l-3-7zM241 1074l3 6v6l-3-5zM252 1106l3 5v9l-3-5zM258 750l4 19v32l-4-28zM262 832l4 17v28l-4-14zM262 996l4 8v15l-4-8zM266 753h1v9h-1zM266 1076l5 8v10l-5-8zM275 1032l4 7v12l-4-7zM286 963l3 7v15l-3-7zM286 998l3 6v13l-3-6zM286 1096l3 4v9l-3-4zM292 997l3 5v11l-3-6zM292 1103l3 4v6l-3-4zM301 744h1v12h-1zM298 755l4 12v39l-4-24zM306 1004l4 8v14l-4-7zM306 1069l4 6v10l-4-5zM306 1165l4 4v8l-4-5zM306 1172l4 5v5l-4-4zM310 1042l5 8v9l-5-8zM315 1142l4 5v9l-4-5zM319 830l3 11v37l-3-9zM319 994l3 5v13l-3-6zM322 1181l5 6v8l-5-5zM327 842l4 14v25l-4-12zM327 1168l4 5v6l-4-5zM335 753l5 0v4l-5-4zM335 948l5 11v13l-5-10zM340 1146l3 4v7l-3-3zM347 1140l4 5v8l-4-5zM347 1161l4 5v8l-4-4zM355 1143l5 6v6l-5-6zM360 1167l3 3v7l-3-3zM360 1210l3 3v6l-3-3zM363 960l3 5v16l-3-5zM363 1142l3 3v7l-3-4zM363 1208l3 3v6l-3-3zM366 754l5 14v44l-5-22zM366 1039l5 7v7l-5-7zM371 1108l5 6v7l-5-6zM376 902l4 9v15l-4-8zM376 1029l4 6v12l-4-5zM376 1130l4 4v7l-4-4zM380 1080l4 5v7l-4-4zM387 1205l4 4v8l-4-4zM391 961l4 7v13l-4-7zM391 988l4 6v13l-4-6zM391 1001l4 6v8l-4-6zM391 1049l4 5v12l-4-5zM399 782l5 22v42l-5-15zM404 941l3 6v15l-3-5zM412 751l5 0v24l-5-24zM412 1101l5 5v9l-5-5zM417 905l3 6v20l-3-5zM417 944l3 5v13l-3-5zM417 957l3 5v10l-3-4zM417 1117l3 3v9l-3-2zM420 1144l4 4v8l-4-4zM424 872l3 7v17l-3-6zM424 1075l3 3v10l-3-4zM427 848l4 9v27l-4-8zM427 1130l4 4v8l-4-4zM427 1178l4 3v7l-4-3zM431 978l3 4v12l-3-4zM434 929l4 7v15l-4-6zM434 959l4 6v11l-4-5zM434 1186l4 3v9l-4-3zM438 1189l4 3v8l-4-3zM438 1204l4 3v6l-4-3zM446 1178l3 3v7l-3-2zM446 1186l3 2v7l-3-2zM446 1257l3 2v7l-3-2zM449 947l5 8v13l-5-7zM449 1095l5 5v8l-5-4zM454 1075l3 3v9l-3-3zM454 1142l3 3v7l-3-2zM458 737h1v13h-1zM462 1069l4 3v9l-4-4zM462 1086l4 3v9l-4-3zM466 1142l5 4v8l-5-4zM471 969l4 5v12l-4-4zM471 1015l4 4v10l-4-4zM475 938l5 7v15l-5-6zM475 954l5 6v14l-5-6zM480 1046l3 3v9l-3-3zM480 1255l3 2v7l-3-2zM483 1248l5 2v8l-5-3zM483 1262l5 3v7l-5-3zM493 1093l3 2v8l-3-2zM496 981l4 4v13l-4-4zM496 1073l4 3v8l-4-3zM503 1207l4 2v7l-4-2zM507 947l4 4v16l-4-4zM511 1268l4 2v7l-4-2zM515 1070l4 3v8l-4-3zM519 736h1v15h-1zM519 1015l3 2v11l-3-2zM519 1159l3 1v8l-3-2zM519 1201l3 2v7l-3-1zM522 1273l4 2v6l-4-1zM526 1042l3 2v10l-3-3zM526 1077l3 2v9l-3-2zM526 1247l3 1v7l-3-1zM536 1189l3 1v7l-3-1zM539 1030l3 2v11l-3-2zM539 1125l3 2v7l-3-1zM542 1079l3 2v8l-3-2zM542 1213l3 1v7l-3-2zM545 1073l4 2v8l-4-2zM545 1151l4 2v7l-4-2zM545 1193l4 2v7l-4-2zM549 1025l3 2v11l-3-1zM549 1123l3 1v8l-3-2zM552 748l3 0v42l-3-7zM552 1292l3 1v7l-3-2zM555 1078l4 2v9l-4-3zM569 952l4 3v16l-4-2zM569 1271l4 1v7l-4-2zM573 987l4 2v15l-4-2zM573 1119l4 1v8l-4-2zM573 1163l4 2v7l-4-2zM577 1143l4 1v8l-4-2zM577 1157l4 2v7l-4-1zM585 994l3 2v14l-3-2zM588 1086l4 1v8l-4-1zM588 1094l4 1v8l-4-1zM595 1238l4 1v7l-4-1zM599 1062l4 2v9l-4-1zM599 1226l4 1v7l-4-1zM599 1246l4 1v7l-4-1zM603 1137l3 1v8l-3-1zM615 821l4 3v22l-4-3zM615 1237l4 0v7l-4-1zM622 1037l4 1v12l-4-2zM622 1297l4 1v7l-4-1zM626 1106l4 1v8l-4-1zM626 1278l4 1v7l-4-1zM626 1291l4 1v7l-4-1zM630 1013l4 1v14l-4-1zM630 1272l4 1v7l-4-1zM630 1305l4 1v6l-4 0zM634 815l4 3v20l-4-3zM634 1092l4 1v8l-4-1zM634 1286l4 1v6l-4 0zM638 1228l4 0v7l-4-1zM642 935l3 1v19l-3-1zM642 1054l3 0v11l-3 0zM642 1175l3 1v6l-3 0zM645 802l3 2v20l-3-2zM645 988l3 1v15l-3-1zM645 1140l3 1v7l-3-1zM648 1118l4 1v7l-4 0zM648 1141l4 0v7l-4 0zM648 1162l4 1v7l-4-1zM648 1282l4 0v7l-4-1zM652 1032l4 1v12l-4-1zM660 1033l3 1v12l-3 0zM663 976l4 1v15l-4 0zM663 1251l4 0v6l-4 0zM667 977l4 0v16l-4-1zM667 1069l4 0v10l-4 0zM678 1206l5 0v7l-5-1zM683 944l3 0v18l-3-1zM683 1245l3 0v7l-3 0zM683 1310l3 0v7l-3 0zM686 1122l3 0v8l-3 0zM686 1206l3 0v7l-3 0zM689 1206l4 0v7l-4 0zM697 800l4 0v18l-4 0zM697 1278l4 0v6l-4 0zM701 1122l3 0v8l-3 0zM701 1173l3-1v7l-3 0zM701 1297l3 0v7l-3 0zM704 1009l4 0v14l-4 0zM704 1059l4 0v11l-4 0zM704 1130l4-1v8l-4 0zM717 1284l5 0v6l-5 0zM725 1244l3 0v7l-3 0zM725 1303l3 0v6l-3 0zM728 749l4 0v41l-4 2zM728 812l4-2v19l-4 1zM728 1205l4-1v7l-4 0zM736 846l5-2v19l-5 2zM736 902l5-1v18l-5 2zM736 1032l5-1v13l-5 1zM736 1119l5 0v7l-5 1zM741 1230l3-1v7l-3 0zM741 1308l3 0v6l-3 0zM744 1066l4-1v10l-4 1zM744 1216l4 0v6l-4 1zM751 1016l4-1v13l-4 1zM755 1116l5-1v8l-5 1zM760 1305l4 0v6l-4 1zM764 1061l3-1v10l-3 1zM764 1272l3-1v7l-3 0zM767 1089l4-1v9l-4 1zM767 1271l4 0v6l-4 1zM775 924l5-2v19l-5 3zM775 978l5-2v16l-5 2zM775 1303l5-1v6l-5 1zM780 959l3-1v17l-3 1zM783 1160l5-1v7l-5 2zM783 1208l5-1v7l-5 1zM783 1228l5-1v7l-5 1zM788 988l4-2v15l-4 2zM788 1064l4-2v10l-4 1zM788 1260l4-1v7l-4 1zM792 1106l3-1v7l-3 1zM792 1206l3-1v7l-3 1zM799 949l4-2v17l-4 3zM799 1069l4-2v10l-4 1zM799 1156l4-2v7l-4 2zM799 1251l4-1v6l-4 1zM803 734h1v18h-1zM803 1203l3-1v7l-3 0zM803 1216l3-1v7l-3 1zM806 1034l3-2v12l-3 1zM806 1235l3-1v7l-3 1zM809 1137l3-1v8l-3 1zM809 1221l3-1v7l-3 1zM809 1275l3-1v6l-3 1zM812 1031l5-3v12l-5 2zM812 1114l5-3v8l-5 2zM817 1002l3-2v14l-3 2zM817 1184l3-1v7l-3 1zM817 1245l3-1v7l-3 1zM828 1083l4-3v9l-4 2zM832 1143l4-2v7l-4 2zM832 1240l4-2v7l-4 2zM836 1017l5-3v12l-5 3zM836 1095l5-3v8l-5 2zM836 1218l5-2v7l-5 2zM841 749l4 0v18l-4 11zM841 1108l4-2v7l-4 3zM841 1271l4-2v7l-4 1zM845 1073l3-2v9l-3 1zM845 1221l3-1v7l-3 1zM848 746l3 0v0l-3 12zM848 1080l3-2v8l-3 2zM851 754l4 0v30l-4 10zM851 946l4-4v17l-4 4zM851 963l4-4v16l-4 3zM855 942l4-4v18l-4 3zM855 1058l4-2v8l-4 3zM859 1046l3-2v10l-3 2zM859 1208l3-1v6l-3 2zM859 1243l3-2v7l-3 2zM862 1054l3-3v9l-3 2zM862 1207l3-2v7l-3 1zM862 1248l3-1v7l-3 1zM869 978l4-4v14l-4 4zM873 1080l4-2v8l-4 3zM877 1206l4-2v7l-4 2zM881 1083l3-2v8l-3 2zM890 1133l4-3v8l-4 2zM890 1199l4-3v8l-4 2zM894 1035l4-4v9l-4 4zM894 1179l4-2v7l-4 3zM894 1230l4-3v8l-4 2zM898 1134l4-2v7l-4 3zM902 1200l4-2v7l-4 2zM902 1207l4-2v7l-4 3zM902 1215l4-3v8l-4 2zM906 863l5-10v26l-5 9zM906 1076l5-4v9l-5 4zM906 1178l5-4v8l-5 3zM911 927l5-7v18l-5 6zM919 740h1v15h-1zM916 1038l4-3v9l-4 4zM924 1025l3-3v10l-3 3zM924 1227l3-2v7l-3 2zM924 1256l3-2v7l-3 2zM927 1154l5-4v8l-5 4zM932 1071l4-4v9l-4 3zM932 1242l4-3v7l-4 3zM936 1250l4-3v8l-4 2zM943 1001l4-5v11l-4 4zM943 1096l4-4v9l-4 4zM943 1226l4-3v7l-4 2zM947 1035l4-4v10l-4 4zM952 733h1v16h-1zM951 1122l3-3v8l-3 2zM954 945l4-6v14l-4 6zM958 1146l4-4v7l-4 3zM958 1167l4-3v8l-4 3zM958 1189l4-3v6l-4 3zM958 1204l4-3v7l-4 3zM962 1054l3-3v10l-3 3zM962 1074l3-3v9l-3 3zM962 1175l3-3v8l-3 2zM965 1110l4-4v8l-4 4zM965 1144l4-4v9l-4 3zM965 1245l4-3v6l-4 3zM969 1072l4-5v8l-4 4zM977 1137l4-4v9l-4 4zM977 1214l4-3v8l-4 3zM981 1138l4-4v7l-4 4zM985 1021l3-4v12l-3 4zM985 1100l3-4v10l-3 4zM985 1203l3-2v8l-3 2zM988 1097l3-3v11l-3 3zM991 1005l3-5v14l-3 4zM991 1211l3-3v8l-3 3zM994 1044l3-4v9l-3 4zM994 1130l3-3v8l-3 3zM1000 1044l3-4v10l-3 4zM1003 1064l4-5v11l-4 5zM1003 1179l4-4v9l-4 3zM1003 1216l4-4v7l-4 3zM1007 1166l3-2v5l-3 3zM1007 1220l3-2v5l-3 2zM1010 1008l4-6v11l-4 6zM1010 1077l4-5v7l-4 4zM1014 1205l3-2v8l-3 2zM1014 1220l3-2v5l-3 2zM1017 955l5-9v11l-5 9zM1022 747l4 0v0l-4 1zM1022 1156l4-4v6l-4 4zM1022 1216l4-4v6l-4 4zM1026 1094l3-4v7l-3 4zM1029 862l3-9v33l-3 8zM1029 1148l3-3v7l-3 3zM1032 912l4-9v18l-4 9zM1036 1111l4-5v11l-4 5zM1040 930l3-6v15l-3 6zM1044 746h1v8h-1zM1043 1121l3-4v10l-3 3zM1046 786l3-18v64l-3 11zM1049 793l5-31v40l-5 22zM1049 1018l5-9v10l-5 8zM1049 1201l5-5v5l-5 5zM1054 1054l4-6v10l-4 6zM1058 912l3-8v24l-3 6zM1058 1026l3-5v11l-3 5zM1058 1114l3-4v10l-3 4zM1061 937l3-6v17l-3 6zM1061 995l3-6v10l-3 6zM1067 743l3 0v0l-3 19zM1070 819l4-19v44l-4 14zM1074 743l3 0v0l-3 6zM1077 1107l4-5v9l-4 6zM1081 1115l3-4v9l-3 4zM1093 735l3 0v0l-3 26zM1093 1109l3-4v8l-3 4zM1096 953l3-7v13l-3 7zM1096 992l3-6v12l-3 6zM1099 871l4-14v26l-4 13zM1099 1123l4-6v6l-4 6zM1099 1158l4-5v9l-4 5zM1103 765l3-21v44l-3 18zM1103 958l3-7v13l-3 7zM1111 1049l4-7v12l-4 6zM1130 763l5-22v25l-5 36zM1130 834l5-25v43l-5 20zM1130 872l5-20v27l-5 17zM1135 1102l4-7v11l-4 6zM1143 1112l3-5v6l-3 5zM1146 1093l3-5v10l-3 5zM1149 911l3-9v24l-3 9zM1149 1045l3-6v9l-3 5zM1149 1077l3-6v7l-3 6zM1149 1084l3-6v12l-3 5zM1152 1027l4-8v14l-4 8zM1156 746l3 0v0l-3 5zM1156 939l3-9v18l-3 8zM1156 1039l3-6v13l-3 6zM1159 755l4-18v4l-4 40zM1163 978l3-7v14l-3 7zM1166 1034l4-8v11l-4 8zM1170 920l3-10v14l-3 9zM1180 724l3 0v0l-3 34zM1186 1037l5-11v12l-5 11zM1206 771l5-35v44l-5 36zM1206 853l5-26v27l-5 22zM1211 831l3-17v40l-3 13zM1211 889l3-13v22l-3 11zM1211 979l3-8v16l-3 8zM1218 890l4-17v19l-4 15zM1235 731l4 0v0l-4 40zM1235 859l4-20v29l-4 18zM1247 818l4-30v63l-4 20zM1254 801l4-38v68l-4 23zM1262 828l4-28v43l-4 21zM1266 731l3 0v0l-3 34zM1276 891l3-13v18l-3 13zM1279 897l4-18v21l-4 16zM1283 765l3-37v43l-3 28zM1283 799l3-28v58l-3 18zM1283 847l3-18v35l-3 15zM1290 776l4-41v53l-4 32zM1309 712h1v15h-1z"/>
<path fill="#000c91" d="M79 757l4 16v37l-4-36zM91 754l5 0v23l-5-23zM96 748l5 47v47l-5-33zM96 809l5 33v26l-5-28zM112 750l4 0v18l-4-18zM125 896l4 16v21l-4-15zM145 756l3 30v33l-3-21zM158 806l3 20v36l-3-15zM161 827l4 21v29l-4-18zM168 751l4 0v22l-4-22zM168 780l4 31v50l-4-20zM172 1020l3 7v10l-3-6zM175 1027l5 11v13l-5-11zM180 973l4 10v16l-4-10zM194 751l5 15v25l-5-40zM194 912l5 16v18l-5-15zM194 931l5 15v11l-5-15zM199 906l3 10v16l-3-9zM199 923l3 9v20l-3-8zM202 966l4 10v14l-4-10zM202 1004l4 9v10l-4-9zM206 960l4 10v10l-4-11zM210 961l3 8v12l-3-7zM210 974l3 7v9l-3-7zM210 1018l3 7v9l-3-7zM213 896l3 10v22l-3-9zM216 748l4 13v45l-4-28zM216 1066l4 7v10l-4-7zM220 750l3 0v6l-3-6zM223 884l5 17v14l-5-16zM223 1082l5 9v11l-5-9zM228 824l3 15v23l-3-13zM228 981l3 7v12l-3-7zM231 882l3 11v20l-3-10zM231 972l3 7v9l-3-7zM238 1065l3 6v7l-3-5zM241 785l3 20v38l-3-14zM241 892l3 10v16l-3-9zM241 909l3 9v18l-3-8zM244 760l5 0v13l-5-13zM244 760l5 13v31l-5-35zM252 955l3 8v11l-3-7zM252 967l3 7v15l-3-7zM252 1020l3 6v8l-3-6zM262 1100l4 6v9l-4-6zM262 1116l4 6v9l-4-6zM271 1063l4 6v12l-4-6zM275 992l4 8v15l-4-8zM283 978l3 7v15l-3-6zM286 748l3 13v44l-3-17zM289 1123l3 4v9l-3-5zM292 748l3 0v11l-3-11zM292 1136l3 5v8l-3-4zM295 996l3 6v12l-3-5zM295 1035l3 5v8l-3-6zM295 1116l3 4v9l-3-5zM298 755l4 0v12l-4-12zM298 1105l4 6v11l-4-6zM302 1012l4 8v14l-4-7zM310 1079l5 7v7l-5-8zM310 1103l5 7v7l-5-7zM315 993l4 7v14l-4-7zM319 912l3 7v15l-3-7zM322 875l5 15v24l-5-13zM322 1068l5 7v8l-5-7zM331 749l4 0v16l-4-16zM331 901l4 10v21l-4-10zM331 1172l4 5v8l-4-4zM335 979l5 9v9l-5-9zM343 1033l4 6v12l-4-6zM343 1129l4 4v7l-4-5zM343 1135l4 5v7l-4-5zM343 1182l4 4v7l-4-4zM347 990l4 7v14l-4-7zM347 1004l4 7v11l-4-7zM347 1058l4 6v12l-4-6zM351 932l4 9v19l-4-8zM351 1088l4 5v11l-4-5zM351 1194l4 4v7l-4-4zM364 739h1v11h-1zM366 1181l5 5v7l-5-5zM376 918l4 8v16l-4-8zM376 966l4 7v9l-4-6zM376 1204l4 4v5l-4-3zM380 928l4 8v12l-4-7zM387 1213l4 4v5l-4-3zM391 751l4 0v11l-4-11zM391 1148l4 4v6l-4-4zM395 962l4 6v11l-4-6zM395 1010l4 5v11l-4-5zM399 898l5 11v16l-5-10zM399 1224l5 5v8l-5-4zM407 749l5 0v17l-5-17zM407 1106l5 6v8l-5-5zM407 1167l5 4v8l-5-4zM417 1133l3 3v7l-3-3zM420 1008l4 5v11l-4-5zM424 1109l3 3v7l-3-3zM427 1009l4 5v12l-4-5zM427 1081l4 4v9l-4-4zM427 1199l4 3v8l-4-3zM434 1039l4 5v10l-4-4zM438 1102l4 3v8l-4-4zM442 1107l4 4v9l-4-4zM442 1229l4 3v7l-4-3zM446 1023l3 3v10l-3-3zM446 1033l3 3v11l-3-4zM446 1200l3 2v7l-3-2zM449 997l5 6v11l-5-5zM457 1108l5 5v8l-5-4zM457 1141l5 3v8l-5-4zM457 1163l5 4v8l-5-4zM462 917l4 7v17l-4-6zM462 965l4 5v13l-4-5zM462 1142l4 3v8l-4-4zM462 1231l4 3v7l-4-3zM462 1252l4 3v7l-4-2zM466 1217l5 3v7l-5-3zM466 1224l5 3v7l-5-3zM471 1247l4 3v7l-4-3zM475 1025l5 5v10l-5-5zM475 1113l5 4v8l-5-4zM475 1182l5 3v8l-5-3zM480 971l3 3v13l-3-3zM483 1122l5 4v8l-5-4zM488 957l5 6v14l-5-5zM488 1123l5 4v8l-5-4zM488 1146l5 4v7l-5-3zM488 1176l5 3v7l-5-3zM488 1198l5 3v7l-5-3zM493 1155l3 2v7l-3-2zM493 1228l3 1v7l-3-1zM496 1046l4 4v8l-4-3zM496 1159l4 3v7l-4-2zM496 1181l4 3v7l-4-2zM500 1147l3 2v8l-3-2zM503 1061l4 3v9l-4-4zM511 757l4 0v12l-4-12zM511 1147l4 2v7l-4-2zM511 1197l4 2v7l-4-2zM522 1138l4 3v7l-4-2zM522 1210l4 2v7l-4-2zM526 995l3 3v13l-3-3zM526 1163l3 1v7l-3-1zM526 1198l3 2v7l-3-2zM529 807l3 6v32l-3-5zM529 1079l3 2v8l-3-1zM532 1036l4 3v10l-4-3zM536 1146l3 2v7l-3-2zM539 826l3 5v29l-3-4zM542 1103l3 2v8l-3-2zM542 1119l3 2v7l-3-1zM542 1164l3 1v7l-3-1zM545 997l4 3v13l-4-3zM545 1097l4 2v8l-4-2zM549 1138l3 1v8l-3-2zM552 1002l3 2v13l-3-2zM552 1189l3 2v6l-3-1zM559 1112l3 2v7l-3-1zM559 1220l3 1v7l-3-2zM562 964l4 3v16l-4-3zM566 967l3 2v16l-3-2zM569 815l4 6v26l-4-4zM569 1297l4 2v6l-4-1zM573 916l4 4v19l-4-3zM573 1258l4 2v6l-4-1zM577 764l4 9v32l-4-7zM581 805l4 6v26l-4-5zM585 945l3 2v17l-3-2zM585 979l3 2v15l-3-2zM585 1066l3 1v10l-3-1zM588 996l4 2v14l-4-2zM588 1154l4 2v7l-4-2zM588 1209l4 2v6l-4-1zM588 1256l4 1v7l-4-1zM595 767l4 7v29l-4-6zM595 1088l4 2v8l-4-1zM595 1185l4 1v7l-4-2zM595 1298l4 1v7l-4-1zM599 1136l4 1v8l-4-2zM599 1253l4 1v6l-4-1zM603 1187l3 1v7l-3-1zM603 1194l3 1v6l-3-1zM603 1260l3 1v7l-3-1zM606 1123l5 2v7l-5-1zM606 1294l5 1v7l-5-1zM611 792l4 5v24l-4-4zM611 882l4 2v20l-4-2zM611 1168l4 1v7l-4-1zM615 1034l4 2v11l-4-1zM615 1204l4 0v7l-4-1zM615 1283l4 1v6l-4-1zM619 1224l3 1v6l-3 0zM619 1257l3 1v6l-3 0zM622 1120l4 1v8l-4-1zM626 1050l4 1v11l-4-1zM626 1061l4 1v10l-4-1zM626 1129l4 1v7l-4-1zM630 950l4 1v18l-4-2zM630 1039l4 1v12l-4-1zM634 1100l4 1v8l-4-1zM638 796l4 4v20l-4-2zM638 1001l4 1v14l-4-1zM642 1189l3 0v7l-3 0zM645 1030l3 1v12l-3 0zM645 1196l3 0v7l-3 0zM652 1163l4 0v7l-4 0zM652 1190l4 1v6l-4 0zM652 1217l4 0v7l-4-1zM652 1276l4 0v6l-4 0zM656 1104l4 1v8l-4-1zM656 1149l4 0v8l-4-1zM656 1276l4 0v7l-4-1zM660 791l3 1v20l-3-2zM660 1105l3 0v8l-3 0zM660 1244l3 0v7l-3-1zM663 1007l4 0v14l-4 0zM667 1238l4 0v7l-4-1zM671 869l4 1v18l-4 0zM671 1089l4 0v9l-4 0zM671 1206l4 0v6l-4 0zM671 1277l4 0v7l-4 0zM675 1144l3 0v7l-3 0zM678 889l5 0v18l-5 0zM678 1239l5 0v6l-5 0zM686 1070l3 0v10l-3 0zM686 1165l3 1v7l-3-1zM686 1172l3 1v6l-3 0zM686 1284l3 0v7l-3 0zM686 1291l3 0v6l-3 0zM689 1080l4 0v10l-4 0zM689 1226l4 0v6l-4 0zM693 1048l4 0v12l-4 0zM704 1271l4 0v7l-4 0zM708 1115l5-1v8l-5 0zM708 1165l5 0v7l-5 0zM713 1122l4 0v7l-4 0zM713 1179l4 0v7l-4 0zM713 1291l4-1v7l-4 0zM717 754l5 0v41l-5 2zM717 1129l5 0v7l-5 0zM717 1186l5-1v7l-5 0zM722 748l3 0v46l-3 1zM722 942l3-1v18l-3 1zM722 1047l3-1v12l-3 0zM722 1069l3 0v10l-3 0zM722 1225l3 0v6l-3 0zM732 940l4-1v18l-4 1zM732 1142l4 0v7l-4 0zM732 1250l4 0v6l-4 1zM732 1302l4 0v6l-4 1zM736 788l5-3v20l-5 3zM741 785l3-3v21l-3 2zM741 1111l3 0v7l-3 1zM741 1134l3-1v7l-3 1zM741 1148l3 0v7l-3 0zM748 841l3-2v20l-3 1zM748 1132l3 0v7l-3 1zM755 1160l5-1v7l-5 1zM761 739h1v13h-1zM760 1062l4-1v10l-4 1zM760 1099l4 0v7l-4 1zM764 1165l3 0v7l-3 0zM767 1225l4-1v7l-4 1zM771 926l4-2v20l-4 2zM771 1191l4-1v7l-4 1zM775 1237l5-1v6l-5 1zM780 1066l3-1v10l-3 1zM783 1101l5-2v8l-5 2zM783 1116l5-1v7l-5 2zM788 854l4-3v22l-4 3zM788 1003l4-2v14l-4 2zM788 1017l4-2v13l-4 2zM788 1159l4-1v7l-4 1zM792 1266l3-1v7l-3 1zM792 1292l3 0v6l-3 1zM795 769l4-9v33l-4 6zM799 1012l4-2v13l-4 2zM799 1264l4-1v7l-4 1zM803 907l3-2v20l-3 3zM806 1209l3-1v6l-3 1zM809 992l3-1v14l-3 2zM809 1032l3-1v11l-3 2zM812 802l5-9v30l-5 6zM812 1082l5-3v9l-5 2zM817 793l3-5v30l-3 5zM817 1265l3-1v7l-3 1zM820 845l4-5v25l-4 4zM824 779l4-9v35l-4 7zM824 1189l4-2v7l-4 1zM824 1202l4-1v7l-4 1zM832 1089l4-3v9l-4 2zM836 1133l5-2v7l-5 3zM836 1225l5-2v7l-5 2zM836 1245l5-2v7l-5 2zM845 983l3-2v14l-3 3zM845 998l3-3v14l-3 2zM845 1045l3-2v10l-3 2zM845 1255l3-1v7l-3 1zM848 833l3-5v29l-3 4zM848 1063l3-2v9l-3 1zM848 1104l3-2v8l-3 2zM848 1164l3-1v7l-3 1zM851 906l4-4v21l-4 4zM851 1051l4-2v9l-4 3zM855 1108l4-2v7l-4 3zM855 1189l4-2v7l-4 2zM859 1056l3-2v8l-3 2zM859 1106l3-2v8l-3 1zM859 1256l3-1v7l-3 1zM862 840l3-5v29l-3 5zM862 1062l3-2v9l-3 2zM862 1200l3-2v7l-3 2zM865 966l4-3v15l-4 3zM872 743h1v8h-1zM869 907l4-5v21l-4 4zM869 1203l4-2v7l-4 2zM873 1063l4-3v9l-4 3zM873 1097l4-3v8l-4 3zM877 1043l4-4v10l-4 3zM881 892l3-5v22l-3 4zM881 913l3-4v20l-3 4zM881 1139l3-2v7l-3 2zM881 1246l3-1v7l-3 1zM884 1216l3-1v7l-3 1zM887 1243l3-1v7l-3 1zM894 1157l4-2v7l-4 3zM902 1102l4-3v8l-4 3zM902 1243l4-2v7l-4 3zM906 1012l5-6v11l-5 5zM906 1243l5-3v7l-5 3zM911 1257l5-3v7l-5 3zM916 943l4-6v16l-4 5zM920 739h1v11h-1zM924 1072l3-3v9l-3 2zM924 1212l3-2v7l-3 2zM927 1055l5-5v10l-5 5zM927 1091l5-4v8l-5 4zM932 1023l4-5v11l-4 4zM932 1169l4-3v7l-4 3zM936 1190l4-3v8l-4 3zM936 1228l4-3v8l-4 2zM943 1196l4-3v8l-4 3zM943 1254l4-2v7l-4 2zM947 952l4-6v16l-4 5zM947 1073l4-4v10l-4 3zM954 985l4-6v10l-4 6zM954 1068l4-4v9l-4 4zM954 1206l4-3v8l-4 3zM962 947l3-5v15l-3 5zM962 1182l3-2v7l-3 3zM965 1007l4-5v13l-4 5zM965 1118l4-4v9l-4 4zM965 1203l4-4v8l-4 3zM965 1231l4-3v6l-4 3zM969 975l4-6v14l-4 6zM969 1105l4-4v8l-4 4zM973 991l4-5v9l-4 6zM973 1149l4-3v7l-4 4zM973 1213l4-4v7l-4 3zM977 836l4-12v26l-4 11zM981 1166l4-4v7l-4 3zM985 1110l3-4v7l-3 3zM988 972l3-5v13l-3 4zM988 984l3-4v15l-3 4zM988 1108l3-3v10l-3 3zM988 1143l3-3v9l-3 3zM991 995l3-5v10l-3 5zM991 1028l3-4v13l-3 4zM997 792l3-15v37l-3 11zM997 959l3-5v16l-3 5zM997 1000l3-5v12l-3 4zM997 1057l3-4v11l-3 3zM1000 763l3-9v48l-3 11zM1000 813l3-11v38l-3 9zM1000 1106l3-4v8l-3 3zM1003 1056l4-5v8l-4 5zM1007 874l3-8v29l-3 7zM1007 956l3-6v12l-3 5zM1007 1118l3-4v9l-3 3zM1010 955l4-8v14l-4 7zM1010 1028l4-6v8l-4 6zM1010 1091l4-4v10l-4 4zM1010 1169l4-4v6l-4 4zM1017 992l5-8v13l-5 7zM1022 952l4-7v15l-4 7zM1022 1086l4-5v7l-4 5zM1022 1194l4-4v9l-4 4zM1026 763l3-10v47l-3 13zM1026 942l3-6v16l-3 6zM1026 1058l3-4v8l-3 4zM1029 959l3-6v11l-3 6zM1032 765l4-15v27l-4 21zM1032 847l4-13v33l-4 11zM1032 930l4-9v17l-4 8zM1032 1006l4-6v15l-4 6zM1032 1130l4-5v7l-4 5zM1032 1188l4-4v5l-4 4zM1036 1168l4-5v6l-4 4zM1040 1142l3-4v7l-3 4zM1046 939l3-6v17l-3 6zM1046 1001l3-5v13l-3 4zM1046 1034l3-4v12l-3 5zM1050 733h1v12h-1zM1058 1037l3-5v12l-3 5zM1058 1085l3-4v10l-3 4zM1058 1095l3-4v10l-3 4zM1067 762l3-19v33l-3 18zM1067 983l3-6v9l-3 6zM1067 1093l3-4v10l-3 4zM1070 755l4 0v0l-4 26zM1074 971l3-6v17l-3 6zM1074 1024l3-5v14l-3 5zM1074 1093l3-4v11l-3 4zM1077 745l4 0v0l-4 5zM1077 937l4-10v18l-4 9zM1077 1153l4-6v7l-4 5zM1081 800l3-17v39l-3 12zM1081 1041l3-5v9l-3 5zM1081 1098l3-4v11l-3 4zM1084 1091l4-6v7l-4 6zM1096 1085l3-5v10l-3 5zM1103 982l3-6v15l-3 6zM1111 1095l4-6v7l-4 6zM1115 818l3-16v31l-3 13zM1118 743l4 0v0l-4 10zM1118 753l4-10v14l-4 32zM1118 1095l4-6v7l-4 6zM1122 1076l4-7v8l-4 6zM1126 1117l4-6v9l-4 6zM1130 932l5-14v21l-5 13zM1139 742l4 0v0l-4 15zM1139 1005l4-9v11l-4 8zM1139 1082l4-7v11l-4 7zM1146 792l3-23v37l-3 16zM1149 935l3-9v15l-3 8zM1152 1041l4-8v8l-4 8zM1152 1083l4-7v7l-4 7zM1156 874l3-12v31l-3 10zM1156 1085l3-6v11l-3 5zM1166 1097l4-7v7l-4 7zM1170 726l3 0v0l-3 32zM1170 1091l3-6v8l-3 6zM1176 906l4-14v22l-4 12zM1176 1074l4-8v8l-4 7zM1186 914l5-17v20l-5 16zM1195 734l4 0v0l-4 22zM1195 987l4-11v13l-4 10zM1199 1001l3-7v12l-3 7zM1199 1027l3-7v9l-3 7zM1202 767l4-29v31l-4 33zM1202 874l4-18v25l-4 15zM1211 867l3-13v22l-3 13zM1211 968l3-8v11l-3 8zM1214 1022l4-9v14l-4 9zM1222 919l5-18v22l-5 17zM1239 982l5-14v16l-5 13zM1244 948l3-10v13l-3 9zM1258 764l4-35v22l-4 42zM1262 765l4-35v15l-4 45zM1262 790l4-45v55l-4 28zM1262 885l4-19v17l-4 17zM1266 833l3-20v37l-3 15zM1269 782l3-36v47l-3 23zM1269 816l3-23v36l-3 18zM1269 847l3-18v33l-3 15zM1272 798l4-40v39l-4 29zM1281 728h1v7h-1zM1290 856l4-23v34l-4 20z"/>
<path fill="#001fa1" d="M96 748l5 20v27l-5-47zM107 854l5 25v25l-5-21zM125 769l4 36v33l-4-26zM125 918l4 15v13l-4-14zM129 923l5 18v14l-5-16zM141 867l4 18v17l-4-17zM148 748l4 14v28l-4-42zM148 748l4 42v29l-4-29zM148 975l4 11v10l-4-11zM152 964l3 9v12l-3-9zM158 995l3 8v10l-3-7zM172 909l3 11v20l-3-9zM184 858l5 21v22l-5-19zM189 1030l5 11v10l-5-11zM194 942l5 15v10l-5-14zM202 749l4 13v45l-4-29zM202 872l4 16v25l-4-13zM202 918l4 12v17l-4-11zM206 998l4 9v10l-4-9zM210 750l3 10v44l-3-22zM210 782l3 22v36l-3-16zM210 855l3 13v24l-3-11zM216 748l4 0v13l-4-13zM216 865l4 16v16l-4-15zM216 973l4 10v12l-4-9zM220 759l3 26v53l-3-15zM228 899l3 10v16l-3-9zM231 849l3 13v31l-3-11zM234 927l4 11v14l-4-11zM238 748l3 0v2l-3-2zM241 1000l3 7v15l-3-7zM244 853l5 19v27l-5-17zM244 1090l5 9v11l-5-9zM249 753l3 0v12l-3-12zM249 789l3 19v43l-3-13zM249 1070l3 5v9l-3-5zM252 1123l3 5v8l-3-5zM255 830l3 13v33l-3-11zM262 967l4 9v14l-4-9zM275 752l4 11v49l-4-23zM279 761l4 29v48l-4-18zM279 820l4 18v24l-4-15zM279 1038l4 7v7l-4-7zM279 1090l4 6v10l-4-6zM283 752l3 0v33l-3-23zM283 1055l3 5v12l-3-5zM283 1092l3 5v10l-3-5zM286 1011l3 6v13l-3-6zM286 1065l3 5v12l-3-5zM289 998l3 6v9l-3-6zM289 1114l3 5v8l-3-4zM289 1152l3 4v6l-3-3zM292 954l3 7v17l-3-7zM295 786l3 18v37l-3-13zM295 1092l3 4v6l-3-4zM295 1098l3 4v8l-3-4zM298 915l4 11v16l-4-10zM298 1069l4 7v7l-4-6zM298 1095l4 6v10l-4-6zM298 1143l4 5v10l-4-6zM302 936l4 9v16l-4-9zM302 1129l4 6v10l-4-5zM302 1149l4 5v8l-4-5zM306 756l4 3v49l-4-23zM306 931l4 10v13l-4-9zM306 1055l4 6v7l-4-6zM310 748l5 0v10l-5-10zM315 1151l4 5v6l-4-5zM319 1142l3 4v8l-3-4zM322 750l5 34v30l-5-25zM327 1028l4 6v12l-4-6zM327 1040l4 6v9l-4-6zM327 1109l4 5v10l-4-5zM327 1137l4 5v9l-4-4zM331 882l4 11v18l-4-10zM331 1011l4 6v13l-4-7zM331 1023l4 7v11l-4-6zM331 1120l4 5v8l-4-5zM335 1104l5 7v11l-5-7zM335 1148l5 6v7l-5-6zM340 942l3 6v19l-3-6zM340 1116l3 4v7l-3-3zM340 1196l3 3v7l-3-3zM343 751l4 0v48l-4-21zM343 1023l4 6v10l-4-6zM343 1045l4 6v10l-4-5zM347 829l4 14v36l-4-11zM347 960l4 8v16l-4-8zM347 1096l4 5v9l-4-5zM347 1148l4 5v6l-4-5zM355 748l5 17v35l-5-26zM355 774l5 26v37l-5-18zM355 1083l5 6v12l-5-6zM355 1116l5 6v10l-5-5zM360 770l3 17v51l-3-10zM360 1011l3 4v13l-3-5zM360 1153l3 4v8l-3-3zM363 748l3 7v44l-3-15zM363 1085l3 4v10l-3-3zM363 1203l3 3v5l-3-3zM366 1081l5 6v8l-5-6zM366 1105l5 6v10l-5-6zM371 752l5 0v13l-5-13zM371 997l5 8v8l-5-7zM376 827l4 13v33l-4-10zM376 1218l4 4v8l-4-4zM380 910l4 8v18l-4-8zM380 1118l4 4v7l-4-4zM384 824l3 10v34l-3-8zM384 1084l3 4v8l-3-3zM384 1201l3 3v6l-3-3zM387 923l4 7v13l-4-7zM391 929l4 8v17l-4-7zM391 974l4 7v13l-4-6zM391 1211l4 3v7l-4-3zM404 1187l3 3v7l-3-3zM407 960l5 8v13l-5-8zM412 1171l5 4v9l-5-5zM412 1215l5 4v8l-5-4zM417 804l3 10v33l-3-9zM417 1013l3 4v12l-3-4zM417 1180l3 2v8l-3-2zM420 1076l4 4v8l-4-4zM420 1111l4 4v7l-4-4zM420 1234l4 3v6l-4-3zM424 1141l3 3v9l-3-3zM424 1150l3 3v7l-3-3zM427 1021l4 5v12l-4-5zM427 1090l4 4v8l-4-4zM427 1170l4 3v8l-4-3zM427 1243l4 3v8l-4-3zM431 1044l3 4v10l-3-3zM431 1129l3 3v9l-3-3zM434 758l4 20v38l-4-13zM434 971l4 5v13l-4-6zM434 1164l4 3v8l-4-3zM438 840l4 10v25l-4-9zM438 992l4 5v10l-4-5zM438 1245l4 3v6l-4-2zM442 1066l4 4v9l-4-4zM442 1123l4 4v9l-4-4zM446 968l3 4v12l-3-4zM449 1049l5 5v10l-5-5zM449 1160l5 4v8l-5-4zM457 999l5 6v10l-5-5zM462 1260l4 2v7l-4-2zM466 951l5 7v14l-5-6zM466 979l5 6v12l-5-6zM478 743h1v8h-1zM475 994l5 5v11l-5-5zM480 1168l3 2v7l-3-1zM483 1064l5 4v9l-5-4zM488 1116l5 3v8l-5-4zM488 1131l5 4v7l-5-3zM488 1255l5 3v7l-5-2zM493 1022l3 2v10l-3-3zM493 1125l3 2v8l-3-2zM493 1263l3 2v7l-3-2zM496 759l4 12v46l-4-10zM496 934l4 5v17l-4-5zM496 1037l4 4v9l-4-4zM496 1081l4 3v8l-4-2zM500 1084l3 2v9l-3-3zM500 1101l3 2v8l-3-2zM500 1109l3 2v8l-3-2zM500 1169l3 2v7l-3-1zM503 1078l4 3v8l-4-3zM503 1134l4 3v7l-4-2zM503 1178l4 3v7l-4-2zM507 745l4 0v8l-4-8zM507 1055l4 3v9l-4-3zM511 1116l4 3v7l-4-2zM511 1183l4 2v7l-4-2zM519 782l3 8v37l-3-5zM519 1037l3 2v10l-3-3zM519 1230l3 1v7l-3-1zM522 1123l4 2v8l-4-2zM526 1020l3 3v11l-3-3zM526 1184l3 1v7l-3-1zM529 1062l3 2v9l-3-2zM529 1276l3 1v7l-3-1zM532 1194l4 2v7l-4-2zM536 821l3 5v30l-3-5zM536 1058l3 2v9l-3-2zM536 1231l3 1v7l-3-1zM539 1051l3 2v9l-3-2zM539 1077l3 2v8l-3-1zM539 1102l3 1v8l-3-1zM539 1155l3 1v8l-3-2zM539 1169l3 2v7l-3-2zM539 1232l3 1v7l-3-1zM542 964l3 3v15l-3-2zM542 980l3 2v15l-3-2zM542 1127l3 1v8l-3-2zM542 1254l3 1v7l-3-1zM545 950l4 4v16l-4-3zM545 1269l4 1v7l-4-1zM549 842l3 4v27l-3-4zM552 1224l3 1v7l-3-2zM555 1061l4 2v9l-4-2zM555 1266l4 1v7l-4-2zM559 944l3 2v18l-3-2zM559 1128l3 1v8l-3-2zM562 1295l4 1v7l-4-1zM566 1195l3 1v7l-3-1zM573 1039l4 2v11l-4-2zM573 1156l4 1v8l-4-2zM573 1252l4 1v7l-4-2zM573 1285l4 1v7l-4-1zM581 1152l4 1v7l-4-1zM581 1159l4 1v7l-4-1zM585 811l3 4v25l-3-3zM585 1101l3 1v7l-3-1zM585 1229l3 1v6l-3-1zM585 1289l3 1v6l-3-1zM588 947l4 2v18l-4-3zM588 1147l4 1v8l-4-2zM588 1230l4 1v6l-4-1zM588 1296l4 1v7l-4-1zM592 1095l3 2v7l-3-1zM592 1126l3 1v8l-3-1zM592 1271l3 1v6l-3-1zM595 1026l4 2v12l-4-2zM595 1245l4 1v7l-4-1zM599 774l4 7v27l-4-5zM603 854l3 3v21l-3-2zM603 1145l3 1v7l-3-1zM603 1234l3 0v7l-3-1zM606 752l5 0v12l-5-10zM606 974l5 2v16l-5-2zM606 1208l5 1v7l-5-1zM611 941l4 2v18l-4-2zM611 1006l4 2v14l-4-2zM611 1229l4 1v7l-4-1zM611 1249l4 1v6l-4 0zM611 1275l4 1v7l-4-1zM615 904l4 2v20l-4-2zM615 961l4 2v17l-4-2zM619 1069l3 1v10l-3-1zM622 804l4 4v22l-4-3zM622 1024l4 1v13l-4-1zM622 1271l4 1v6l-4 0zM626 1213l4 0v7l-4-1zM626 1239l4 1v6l-4-1zM630 1099l4 1v8l-4-1zM630 1152l4 0v8l-4-1zM634 1174l4 0v7l-4 0zM638 838l4 2v20l-4-2zM638 1131l4 1v8l-4-1zM642 1016l3 1v13l-3 0zM645 1085l3 1v9l-3-1zM645 1189l3 1v6l-3 0zM645 1235l3 1v6l-3 0zM648 1018l4 1v13l-4-1zM652 990l4 0v15l-4 0zM652 1249l4 1v6l-4 0zM656 786l4 0v5l-4-2zM656 975l4 0v16l-4-1zM656 1309l4 0v6l-4 0zM660 1218l3 0v6l-3 0zM660 1250l3 1v6l-3 0zM663 830l4 2v18l-4-1zM663 1135l4 1v7l-4 0zM663 1157l4 0v7l-4 0zM663 1218l4 0v7l-4-1zM663 1224l4 1v6l-4 0zM663 1264l4 0v6l-4 0zM667 1058l4 0v11l-4 0zM671 1008l4 0v14l-4 0zM671 1058l4 1v11l-4-1zM671 1199l4 0v7l-4 0zM675 1080l3 0v9l-3 0zM675 1172l3 0v7l-3 0zM678 1226l5 0v6l-5 0zM678 1284l5 0v7l-5 0zM683 1122l3 0v8l-3-1zM686 799l3 1v18l-3-1zM686 1193l3 0v7l-3 0zM689 1219l4 0v7l-4 0zM693 854l4 0v18l-4 0zM693 1137l4 0v7l-4 0zM693 1193l4 0v7l-4 0zM693 1265l4 0v6l-4 0zM697 1159l4 0v7l-4 0zM697 1179l4 0v7l-4 0zM697 1186l4 0v7l-4 0zM697 1213l4 0v6l-4 0zM697 1252l4 0v6l-4 0zM697 1265l4 0v6l-4 0zM701 800l3-1v19l-3 0zM701 1166l3 0v6l-3 1zM701 1200l3 0v6l-3 0zM701 1206l3 0v7l-3 0zM708 817l5-1v18l-5 1zM708 1070l5 0v10l-5 0zM717 797l5-2v19l-5 1zM717 1059l5-1v11l-5 0zM725 850l3-1v19l-3 0zM728 886l4-1v18l-4 1zM728 904l4-1v19l-4 1zM728 1309l4 0v6l-4 1zM732 1184l4 0v7l-4 0zM732 1263l4 0v6l-4 1zM736 865l5-2v19l-5 2zM736 1045l5-1v11l-5 1zM736 1112l5-1v8l-5 0zM736 1142l5-1v7l-5 1zM741 1031l3 0v12l-3 1zM741 1119l3-1v8l-3 0zM741 1155l3 0v7l-3 0zM744 782l4 0v18l-4 3zM744 1190l4-1v7l-4 0zM748 1075l3-1v10l-3 1zM751 1222l4-1v7l-4 0zM755 1221l5-1v7l-5 1zM760 1051l4-1v11l-4 1zM764 760l3 0v23l-3 3zM764 1285l3 0v6l-3 1zM771 1157l4-1v7l-4 1zM775 1230l5-1v7l-5 1zM780 839l3-2v21l-3 3zM780 1006l3-1v14l-3 1zM780 1045l3-1v11l-3 1zM783 1084l5-1v8l-5 2zM783 1124l5-2v8l-5 1zM783 1281l5-1v7l-5 1zM788 1293l4-1v7l-4 1zM792 1179l3-1v7l-3 1zM795 1245l4-1v7l-4 1zM799 1224l4-1v7l-4 1zM803 1147l3-1v7l-3 1zM803 1276l3-1v7l-3 1zM806 752l3 0v23l-3 6zM806 945l3-2v18l-3 1zM806 1229l3-1v6l-3 1zM806 1295l3 0v6l-3 1zM809 775l3-6v33l-3 4zM809 1020l3-2v13l-3 1zM809 1044l3-2v11l-3 2zM809 1091l3-1v8l-3 1zM809 1187l3-1v7l-3 1zM812 900l5-5v22l-5 4zM817 1149l3-1v7l-3 1zM817 1163l3-1v7l-3 1zM820 1155l4-2v8l-4 1zM824 967l4-3v16l-4 3zM824 1067l4-2v9l-4 2zM824 1229l4-1v7l-4 1zM824 1277l4-2v7l-4 1zM828 995l4-2v14l-4 2zM828 1159l4-2v7l-4 2zM828 1221l4-1v6l-4 2zM832 759l4-8v39l-4 8zM832 1171l4-1v7l-4 1zM836 1061l5-3v9l-5 3zM836 1191l5-3v7l-5 2zM841 844l4-6v27l-4 5zM841 917l4-4v20l-4 3zM845 1065l3-2v8l-3 2zM845 1106l3-2v8l-3 1zM845 1194l3-2v7l-3 1zM848 1053l3-2v10l-3 2zM848 1088l3-2v8l-3 2zM848 1199l3-1v7l-3 1zM848 1227l3-2v7l-3 2zM851 1061l4-3v9l-4 3zM851 1086l4-2v8l-4 2zM851 1141l4-2v7l-4 2zM851 1280l4-1v7l-4 1zM855 758l4 0v15l-4 11zM855 902l4-5v22l-4 4zM855 1139l4-3v8l-4 2zM862 915l3-3v20l-3 3zM862 1192l3-1v7l-3 2zM862 1262l3-1v7l-3 1zM865 890l4-6v23l-4 5zM865 1069l4-3v9l-4 2zM865 1148l4-2v7l-4 2zM865 1261l4-2v7l-4 2zM869 1017l4-3v11l-4 3zM873 1014l4-3v11l-4 3zM877 845l4-7v29l-4 6zM877 937l4-4v17l-4 5zM877 1022l4-3v10l-4 4zM877 1170l4-2v7l-4 2zM881 867l3-5v25l-3 5zM881 1039l3-2v9l-3 3zM881 1075l3-2v8l-3 2zM881 1274l3-1v7l-3 1zM884 1166l3-2v8l-3 1zM884 1231l3-2v7l-3 2zM884 1252l3-2v7l-3 2zM884 1280l3-2v7l-3 2zM887 857l3-6v27l-3 5zM887 1208l3-2v7l-3 2zM890 851l4-7v28l-4 6zM890 1032l4-4v10l-4 3zM890 1041l4-3v9l-4 3zM890 1050l4-3v9l-4 3zM890 1117l4-2v7l-4 3zM894 832l4-8v31l-4 7zM894 962l4-4v15l-4 4zM894 1044l4-4v9l-4 4zM894 1165l4-3v7l-4 3zM898 1043l4-4v10l-4 3zM898 1186l4-2v7l-4 2zM898 1251l4-2v7l-4 2zM902 1222l4-2v7l-4 2zM906 909l5-8v20l-5 7zM906 945l5-6v16l-5 6zM906 1148l5-4v8l-5 3zM911 960l5-6v14l-5 6zM911 1192l5-3v7l-5 3zM916 907l4-6v19l-4 6zM916 1147l4-3v8l-4 3zM932 1033l4-4v10l-4 4zM932 1097l4-3v8l-4 3zM936 748l4 0v13l-4 18zM936 989l4-5v12l-4 5zM936 1051l4-4v10l-4 4zM936 1069l4-4v10l-4 4zM940 938l3-4v13l-3 5zM940 966l3-4v13l-3 4zM940 1032l3-3v10l-3 3zM947 1164l4-4v8l-4 3zM947 1206l4-2v7l-4 3zM951 1129l3-2v9l-3 2zM954 1095l4-4v10l-4 4zM954 1250l4-3v7l-4 3zM962 1011l3-4v12l-3 4zM962 1239l3-2v7l-3 2zM965 1102l4-4v8l-4 4zM965 1152l4-3v7l-4 3zM969 1136l4-4v8l-4 4zM973 938l4-7v16l-4 7zM973 1013l4-5v13l-4 5zM973 1110l4-4v7l-4 4zM973 1164l4-3v8l-4 4zM973 1181l4-4v9l-4 3zM981 985l4-6v13l-4 6zM981 1037l4-5v12l-4 5zM981 1067l4-5v10l-4 4zM985 1011l3-4v10l-3 4zM985 1033l3-4v12l-3 4zM985 1166l3-3v9l-3 3zM988 755l3 0v0l-3 2zM991 793l3-14v55l-3 9zM991 1041l3-4v11l-3 3zM991 1051l3-3v7l-3 4zM991 1114l3-3v8l-3 4zM991 1158l3-3v9l-3 3zM994 950l3-5v15l-3 5zM994 1123l3-3v7l-3 3zM994 1183l3-3v7l-3 3zM997 825l3-11v36l-3 8zM997 942l3-6v18l-3 5zM997 975l3-5v11l-3 4zM997 1077l3-4v9l-3 3zM997 1094l3-3v9l-3 4zM997 1137l3-3v9l-3 3zM1000 754l3 0v0l-3 9zM1000 1173l3-3v7l-3 2zM1003 794l4-20v49l-4 13zM1003 1127l4-4v9l-4 4zM1003 1222l4-3v7l-4 3zM1007 1126l3-3v7l-3 3zM1007 1201l3-3v8l-3 3zM1010 798l4-20v53l-4 13zM1010 1019l4-6v9l-4 6zM1014 997l3-5v12l-3 5zM1022 903l4-9v20l-4 9zM1026 1021l3-5v13l-3 4zM1026 1086l3-4v8l-3 4zM1029 918l3-7v17l-3 6zM1029 1051l3-4v8l-3 4zM1032 1044l4-6v8l-4 5zM1032 1097l4-5v9l-4 5zM1036 763l4-16v38l-4 20zM1036 1016l4-7v11l-4 6zM1040 883l3-8v25l-3 8zM1040 908l3-8v24l-3 6zM1040 945l3-6v14l-3 6zM1040 971l3-6v17l-3 5zM1040 1022l3-4v9l-3 4zM1043 957l3-6v13l-3 5zM1047 741h1v10h-1zM1049 929l5-12v13l-5 11zM1054 1097l4-6v8l-4 5zM1058 890l3-8v22l-3 8zM1058 966l3-6v11l-3 6zM1058 1167l3-3v7l-3 4zM1061 1158l3-4v10l-3 3zM1064 1166l3-4v9l-3 3zM1067 794l3-18v57l-3 12zM1067 1113l3-4v8l-3 4zM1070 936l4-9v13l-4 9zM1070 1069l4-6v11l-4 6zM1070 1120l4-5v10l-4 5zM1074 988l3-6v13l-3 6zM1081 743h1v12h-1zM1081 1170l3-4v7l-3 3zM1084 1024l4-7v11l-4 7zM1088 1138l5-7v7l-5 6zM1099 1038l4-7v14l-4 7zM1099 1088l4-6v11l-4 6zM1109 726h1v17h-1zM1106 1078l5-8v11l-5 8zM1106 1128l5-7v9l-5 7zM1115 735l3 0v0l-3 15zM1115 921l3-9v21l-3 7zM1115 1024l3-6v10l-3 6zM1118 1019l4-8v9l-4 7zM1118 1134l4-6v10l-4 6zM1122 809l4-24v38l-4 18zM1122 1051l4-8v11l-4 7zM1126 933l4-12v15l-4 10zM1130 977l5-12v13l-5 11zM1130 1103l5-8v12l-5 7zM1135 1021l4-8v9l-4 8zM1139 1117l4-6v9l-4 6zM1143 886l3-10v18l-3 10zM1143 1070l3-5v9l-3 5zM1147 738h1v14h-1zM1146 961l3-8v17l-3 8zM1152 801l4-29v51l-4 20zM1152 1066l4-7v8l-4 7zM1156 972l3-8v15l-3 8zM1156 987l3-8v17l-3 6zM1156 1052l3-6v10l-3 6zM1159 812l4-26v63l-4 17zM1159 1019l4-9v10l-4 8zM1163 1057l3-6v9l-3 5zM1166 1055l4-8v10l-4 8zM1170 854l3-14v25l-3 12zM1170 1051l3-6v8l-3 5zM1173 1047l3-6v8l-3 6zM1183 1066l3-6v10l-3 5zM1186 1010l5-12v10l-5 11zM1191 995l4-10v13l-4 9zM1195 782l4-44v68l-4 24zM1195 893l4-16v18l-4 14zM1202 853l4-20v23l-4 18zM1202 896l4-15v15l-4 14zM1211 923l3-11v19l-3 10zM1214 738l4 0v0l-4 35zM1227 768l4-34v52l-4 29zM1227 922l4-14v13l-4 14zM1247 760l4-28v14l-4 44zM1247 896l4-17v22l-4 16zM1247 933l4-14v21l-4 13zM1251 852l3-17v22l-3 15zM1269 741l3 0v0l-3 15zM1269 877l3-15v19l-3 13zM1283 879l3-15v29l-3 13zM1294 738l4 0v0l-4 37zM1312 725l3 0v0l-3 44z"/>
<path fill="#0032b1" d="M91 754l5 23v30l-5-51zM107 822l5 30v27l-5-25zM121 874l4 18v19l-4-16zM134 764l4 37v41l-4-24zM138 821l3 18v27l-3-15zM141 803l4 26v26l-4-22zM141 833l4 22v30l-4-18zM145 859l3 14v23l-3-12zM145 898l3 12v23l-3-10zM152 849l3 15v18l-3-14zM152 986l3 8v12l-3-8zM161 752l4 0v11l-4-11zM165 907l3 11v15l-3-10zM165 950l3 9v17l-3-8zM172 959l3 8v12l-3-9zM175 748l5 18v38l-5-43zM175 992l5 13v12l-5-13zM180 882l4 16v17l-4-14zM184 882l5 19v25l-5-17zM184 953l5 14v12l-5-14zM184 1015l5 12v8l-5-11zM194 850l5 22v26l-5-19zM199 748l3 14v30l-3-25zM202 778l4 29v31l-4-22zM220 1017l3 7v12l-3-6zM223 756l5 26v45l-5-29zM228 993l3 7v10l-3-7zM231 1017l3 6v9l-3-6zM234 977l4 9v16l-4-9zM234 1007l4 8v9l-4-9zM234 1072l4 8v9l-4-7zM241 1015l3 7v10l-3-6zM244 923l5 14v18l-5-13zM252 779l3 20v31l-3-16zM252 1052l3 5v11l-3-5zM255 865l3 11v25l-3-10zM255 983l3 7v12l-3-7zM255 1018l3 6v9l-3-6zM255 1083l3 5v8l-3-5zM255 1127l3 5v6l-3-4zM258 962l4 10v9l-4-9zM258 1038l4 7v10l-4-7zM258 1061l4 7v12l-4-7zM258 1092l4 7v10l-4-6zM266 846l5 19v31l-5-17zM266 972l5 11v10l-5-11zM266 1067l5 9v8l-5-8zM271 849l4 15v26l-4-14zM271 971l4 9v15l-4-9zM271 1094l4 6v7l-4-6zM275 789l4 23v32l-4-18zM275 941l4 10v18l-4-9zM275 960l4 9v16l-4-9zM279 1015l4 8v14l-4-8zM289 987l3 7v10l-3-6zM292 1061l3 5v12l-3-5zM295 828l3 13v35l-3-10zM295 866l3 10v19l-3-10zM298 1046l4 6v9l-4-7zM302 898l4 12v18l-4-10zM302 1002l4 7v11l-4-8zM302 1103l4 5v10l-4-5zM306 986l4 8v9l-4-8zM310 876l5 15v21l-5-13zM310 1165l5 6v7l-5-6zM315 905l4 10v18l-4-10zM319 750l3 0v38l-3-20zM319 1086l3 4v10l-3-4zM322 950l5 11v14l-5-10zM327 980l4 7v15l-4-7zM331 922l4 10v13l-4-9zM331 1055l4 6v12l-4-6zM335 1001l5 8v11l-5-8zM340 798l3 14v36l-3-10zM340 1011l3 5v14l-3-5zM343 897l4 10v21l-4-9zM343 919l4 9v12l-4-8zM343 974l4 8v13l-4-7zM347 1203l4 4v5l-4-4zM351 1106l4 5v6l-4-5zM360 957l3 6v15l-3-5zM360 1121l3 3v8l-3-4zM363 748l3 0v7l-3-7zM363 1106l3 3v11l-3-4zM366 888l5 12v25l-5-11zM366 1009l5 8v12l-5-8zM371 1026l5 7v13l-5-7zM371 1171l5 5v8l-5-5zM376 1003l4 6v12l-4-6zM380 865l4 10v27l-4-9zM380 1141l4 5v6l-4-4zM380 1180l4 4v7l-4-4zM384 1143l3 3v10l-3-3zM384 1188l3 3v7l-3-3zM384 1215l3 2v8l-3-2zM387 757l4 8v44l-4-16zM395 922l4 8v12l-4-7zM395 1033l4 5v12l-4-5zM395 1097l4 5v8l-4-4zM395 1168l4 3v7l-4-3zM399 831l5 15v25l-5-13zM399 1063l5 6v9l-5-6zM399 1082l5 6v6l-5-5zM399 1135l5 5v7l-5-5zM407 1097l5 6v9l-5-6zM412 991l5 7v12l-5-6zM412 1076l5 5v9l-5-5zM412 1127l5 5v6l-5-4zM412 1149l5 5v6l-5-5zM417 968l3 4v12l-3-4zM417 980l3 4v14l-3-4zM417 1094l3 3v9l-3-3zM420 909l4 7v17l-4-7zM420 1048l4 4v9l-4-4zM420 1175l4 3v8l-4-3zM424 841l3 8v30l-3-7zM424 1194l3 2v6l-3-2zM424 1240l3 2v7l-3-3zM427 913l4 7v19l-4-6zM427 933l4 6v13l-4-7zM431 949l3 5v14l-3-4zM431 1146l3 3v7l-3-3zM442 931l4 6v14l-4-5zM442 1075l4 4v8l-4-4zM442 1186l4 3v7l-4-3zM446 1133l3 2v8l-3-3zM449 1019l5 5v11l-5-5zM454 928l3 5v16l-3-4zM454 1196l3 2v8l-3-2zM457 976l5 6v12l-5-6zM457 1171l5 4v8l-5-4zM466 991l5 6v11l-5-6zM466 1013l5 5v9l-5-5zM466 1103l5 4v8l-5-4zM466 1187l5 4v7l-5-3zM471 1080l4 3v8l-4-3zM471 1218l4 3v7l-4-2zM471 1269l4 2v7l-4-2zM475 1044l5 5v9l-5-4zM475 1211l5 3v8l-5-3zM480 748h1v10h-1zM483 1197l5 3v7l-5-3zM488 823l5 11v30l-5-10zM488 1066l5 4v8l-5-4zM493 1277l3 2v7l-3-2zM496 1055l4 3v9l-4-3zM496 1152l4 3v7l-4-3zM496 1260l4 2v7l-4-2zM500 1124l3 2v8l-3-2zM500 1227l3 1v8l-3-2zM503 959l4 4v15l-4-4zM503 1142l4 2v8l-4-3zM507 832l4 8v28l-4-6zM507 1166l4 3v7l-4-3zM507 1266l4 2v7l-4-2zM511 995l4 4v12l-4-3zM511 1019l4 4v10l-4-3zM511 1204l4 2v8l-4-3zM515 938l4 5v17l-4-4zM515 1087l4 2v8l-4-2zM519 989l3 3v13l-3-2zM519 1106l3 1v8l-3-2zM519 1121l3 2v8l-3-2zM522 1224l4 2v7l-4-2zM522 1245l4 2v7l-4-2zM526 835l3 5v29l-3-5zM526 890l3 3v22l-3-3zM526 1240l3 1v7l-3-1zM529 1200l3 1v7l-3-1zM532 1013l4 3v12l-4-3zM532 1166l4 2v7l-4-2zM536 1075l3 2v9l-3-2zM536 1131l3 2v7l-3-1zM536 1279l3 1v7l-3-1zM539 1148l3 1v7l-3-1zM539 1176l3 2v7l-3-2zM539 1253l3 1v7l-3-2zM542 756l3 8v41l-3-7zM542 1095l3 2v8l-3-2zM542 1206l3 1v7l-3-1zM545 1081l4 2v8l-4-2zM545 1121l4 2v7l-4-2zM545 1143l4 2v8l-4-2zM554 738h1v12h-1zM552 783l3 7v33l-3-5zM552 1068l3 2v8l-3-1zM552 1085l3 1v9l-3-2zM555 757l4 0v2l-4-2zM559 1072l3 2v8l-3-2zM559 1097l3 1v8l-3-2zM559 1233l3 1v7l-3-1zM562 767l4 10v34l-4-7zM566 910l3 3v20l-3-2zM566 1236l3 1v7l-3-1zM569 753l4 0v38l-4-7zM569 1093l4 2v8l-4-2zM573 847l4 5v24l-4-4zM573 1126l4 2v7l-4-1zM573 1238l4 2v6l-4-1zM573 1299l4 1v7l-4-2zM577 1105l4 2v7l-4-1zM581 749l4 0v32l-4-8zM585 1045l3 2v10l-3-1zM585 1093l3 1v8l-3-1zM588 1117l4 2v7l-4-1zM588 1175l4 2v7l-4-2zM588 1276l4 1v7l-4-1zM592 1211l3 1v6l-3-1zM595 1149l4 2v7l-4-1zM595 1218l4 1v7l-4-1zM599 803l4 5v24l-4-4zM603 781l3 4v26l-3-3zM603 1173l3 1v7l-3-1zM603 1227l3 1v6l-3 0zM606 1018l5 2v13l-5-2zM606 1054l5 2v10l-5-1zM606 1241l5 1v7l-5-1zM611 1289l4 0v7l-4-1zM615 1077l4 2v9l-4-1zM615 1155l4 1v7l-4-1zM615 1197l4 1v6l-4 0zM615 1276l4 1v7l-4-1zM619 1036l3 1v11l-3-1zM619 1088l3 1v8l-3-1zM619 1120l3 0v8l-3-1zM619 1184l3 1v7l-3-1zM619 1231l3 0v7l-3-1zM619 1244l3 1v6l-3 0zM622 751l4 0v7l-4-6zM622 1157l4 1v7l-4-1zM622 1225l4 1v6l-4-1zM622 1304l4 1v6l-4-1zM626 755l4 0v9l-4-6zM626 785l4 4v23l-4-4zM626 1121l4 1v8l-4-1zM626 1199l4 1v7l-4-1zM626 1298l4 1v6l-4 0zM626 1305l4 0v7l-4-1zM634 1145l4 1v7l-4-1zM638 1084l4 0v9l-4 0zM638 1139l4 1v7l-4-1zM638 1234l4 1v7l-4-1zM642 1042l3 1v11l-3 0zM645 918l3 1v18l-3-1zM645 1242l3 0v7l-3 0zM648 781l4 0v5l-4-3zM648 1269l4 0v7l-4-1zM652 787l4 0v2l-4-2zM656 1204l4 1v6l-4 0zM656 1224l4 0v7l-4-1zM656 1289l4 0v7l-4 0zM660 1149l3 1v7l-3 0zM663 1121l4 0v7l-4 0zM663 1198l4 1v6l-4 0zM663 1211l4 1v6l-4 0zM663 1237l4 1v6l-4 0zM667 1143l4 0v8l-4-1zM667 1257l4 1v6l-4 0zM671 1022l4 0v13l-4 0zM671 1069l4 1v10l-4-1zM675 961l3 0v17l-3 0zM675 1098l3 0v9l-3-1zM675 1245l3 0v7l-3-1zM675 1290l3 1v6l-3 0zM678 1048l5 0v11l-5 0zM678 1144l5 0v7l-5 0zM678 1186l5 0v7l-5 0zM683 835l3 1v18l-3-1zM687 744h1v11h-1zM686 754l3 0v46l-3-1zM689 854l4 0v18l-4 0zM689 944l4 0v18l-4 0zM689 1023l4 0v13l-4 0zM689 1265l4 0v6l-4 0zM693 1080l4 0v10l-4 0zM693 1099l4 0v8l-4 0zM693 1115l4 0v7l-4 0zM697 890l4 0v18l-4 0zM697 994l4 0v15l-4 0zM697 1122l4 0v8l-4 0zM697 1137l4 0v7l-4 0zM701 854l3 0v18l-3 0zM701 962l3 0v16l-3 1zM701 1070l3 0v10l-3 0zM701 1099l3 0v8l-3 0zM701 1186l3 0v7l-3 0zM701 1213l3 0v6l-3 0zM704 1070l4 0v10l-4 0zM708 1009l5-1v14l-5 1zM708 1219l5 0v7l-5 0zM708 1226l5 0v6l-5 0zM713 978l4-1v16l-4 1zM713 1080l4 0v9l-4 0zM717 1199l5 0v6l-5 1zM717 1238l5 0v6l-5 1zM722 1106l3-1v8l-3 1zM722 1129l3-1v8l-3 0zM725 1136l3-1v8l-3 0zM725 1157l3 0v7l-3 0zM725 1192l3-1v7l-3 0zM728 1128l4-1v8l-4 0zM732 790l4-2v20l-4 2zM732 1087l4 0v9l-4 0zM736 748l5 0v37l-5 3zM736 1096l5-1v8l-5 1zM741 844l3-1v19l-3 1zM741 1141l3-1v8l-3 0zM744 1103l4-1v8l-4 1zM744 1148l4-1v7l-4 1zM744 1249l4-1v7l-4 0zM748 936l3-1v18l-3 1zM748 1017l3-1v13l-3 1zM748 1094l3-1v8l-3 1zM751 777l4 0v18l-4 3zM751 798l4-3v21l-4 3zM751 859l4-2v19l-4 2zM751 1101l4 0v8l-4 0zM751 1124l4 0v7l-4 1zM751 1281l4-1v6l-4 1zM759 764h1v10h-1zM755 914l5-2v19l-5 2zM755 1041l5-2v12l-5 1zM755 1101l5-2v8l-5 2zM755 1214l5-1v7l-5 1zM755 1234l5-1v7l-5 1zM760 1159l4-1v7l-4 1zM760 1200l4-1v7l-4 1zM764 1129l3-1v8l-3 0zM764 1206l3 0v6l-3 1zM764 1292l3-1v7l-3 0zM764 1305l3-1v7l-3 0zM767 928l4-2v20l-4 1zM767 1128l4-1v8l-4 1zM771 749l4 0v23l-4 6zM771 846l4-3v21l-4 3zM771 1290l4 0v6l-4 1zM775 885l5-3v20l-5 3zM775 1008l5-2v14l-5 2zM775 1126l5-1v7l-5 2zM780 749l3 0v9l-3 6zM780 1289l3-1v6l-3 1zM783 755l5 0v0l-5 3zM783 1248l5-1v7l-5 1zM788 1099l4-1v8l-4 1zM788 1194l4-1v6l-4 1zM788 1240l4-1v7l-4 1zM788 1254l4-1v6l-4 1zM792 1246l3-1v7l-3 1zM795 1205l4-1v7l-4 1zM795 1219l4-2v7l-4 1zM799 930l4-2v19l-4 2zM799 1078l4-1v9l-4 1zM799 1095l4-1v8l-4 1zM799 1119l4-2v8l-4 1zM799 1126l4-1v7l-4 2zM799 1244l4-1v7l-4 1zM806 1215l3-1v7l-3 1zM809 880l3-3v23l-3 2zM809 1074l3-1v9l-3 1zM809 1234l3-1v7l-3 1zM809 1261l3-1v7l-3 1zM812 757l5 0v0l-5 12zM812 1179l5-2v7l-5 2zM812 1247l5-2v7l-5 2zM817 823l3-5v27l-3 4zM817 1286l3-1v6l-3 1zM817 1292l3-1v7l-3 1zM820 1204l4-2v7l-4 1zM820 1217l4-1v7l-4 1zM820 1244l4-1v7l-4 1zM824 748l4 0v22l-4 9zM824 911l4-3v20l-4 4zM824 1168l4-2v7l-4 2zM824 1283l4-1v7l-4 1zM828 1187l4-2v7l-4 2zM828 1208l4-2v7l-4 1zM832 1007l4-3v13l-4 2zM832 1213l4-2v7l-4 2zM836 900l5-5v22l-5 4zM836 1232l5-2v7l-5 1zM836 1259l5-2v7l-5 2zM836 1272l5-1v6l-5 2zM841 936l4-3v18l-4 3zM841 1216l4-2v7l-4 2zM845 760l3 0v0l-3 7zM845 1235l3-1v7l-3 1zM848 1220l3-1v6l-3 2zM851 1094l4-2v8l-4 2zM855 1251l4-1v6l-4 2zM855 1272l4-2v7l-4 2zM859 813l3-6v33l-3 5zM859 956l3-3v16l-3 3zM862 1283l3-2v7l-3 2zM865 1191l4-2v7l-4 2zM865 1275l4-2v7l-4 1zM865 1281l4-1v7l-4 1zM869 1266l4-2v7l-4 2zM873 942l4-5v18l-4 4zM877 752l4 0v0l-4 13zM877 1078l4-3v8l-4 3zM881 759l3 0v34l-3 8zM881 1091l3-2v8l-3 3zM881 1204l3-2v7l-3 2zM881 1218l3-2v7l-3 2zM884 1016l3-3v11l-3 3zM884 1037l3-3v10l-3 2zM884 1238l3-2v7l-3 2zM884 1266l3-2v7l-3 2zM887 784l3-10v45l-3 7zM887 1142l3-2v8l-3 2zM887 1150l3-2v7l-3 2zM887 1236l3-2v8l-3 1zM890 999l4-4v12l-4 4zM890 1177l4-2v7l-4 2zM890 1206l4-2v7l-4 2zM890 1263l4-2v7l-4 2zM890 1277l4-2v7l-4 2zM894 1201l4-2v7l-4 2zM898 754l4 0v28l-4 13zM898 1201l4-3v8l-4 2zM902 1094l4-3v8l-4 3zM911 1228l5-3v7l-5 3zM916 998l4-5v11l-4 4zM916 1108l4-3v8l-4 3zM916 1177l4-3v8l-4 2zM916 1250l4-2v7l-4 2zM920 1182l4-3v8l-4 2zM920 1226l4-3v8l-4 2zM920 1269l4-2v7l-4 2zM924 1249l3-2v7l-3 2zM927 1258l5-3v7l-5 3zM932 967l4-5v12l-4 5zM936 1112l4-3v8l-4 3zM940 820l3-9v38l-3 7zM940 1246l3-2v8l-3 2zM947 993l4-5v10l-4 5zM947 1045l4-4v9l-4 4zM947 1091l4-4v9l-4 4zM947 1240l4-2v7l-4 3zM951 1043l3-4v9l-3 3zM951 1240l3-2v7l-3 2zM958 1114l4-4v8l-4 4zM962 911l3-5v19l-3 5zM962 1153l3-3v8l-3 2zM962 1246l3-2v6l-3 2zM965 995l4-5v12l-4 5zM965 1041l4-5v8l-4 5zM969 929l4-7v18l-4 6zM969 999l4-5v10l-4 5zM969 1063l4-5v9l-4 5zM973 1085l4-5v9l-4 5zM973 1103l4-4v7l-4 4zM980 726h1v18h-1zM977 793l4-18v49l-4 12zM977 939l4-7v14l-4 7zM977 1083l4-4v7l-4 5zM977 1186l4-3v7l-4 3zM981 1222l4-3v7l-4 3zM985 1232l3-2v7l-3 3zM988 902l3-6v19l-3 6zM991 843l3-9v36l-3 8zM991 1225l3-3v7l-3 2zM994 921l3-6v17l-3 6zM994 1190l3-3v9l-3 3zM994 1212l3-3v8l-3 3zM997 1175l3-3v6l-3 3zM997 1188l3-3v6l-3 3zM997 1201l3-3v6l-3 2zM1000 1230l3-3v7l-3 3zM1003 1136l4-4v8l-4 4zM1003 1160l4-4v7l-4 4zM1007 1158l3-3v9l-3 2zM1010 1128l4-5v9l-4 4zM1010 1192l4-3v5l-4 4zM1017 944l5-10v12l-5 9zM1017 1131l5-5v6l-5 6zM1017 1146l5-5v9l-5 5zM1017 1180l5-5v9l-5 5zM1026 878l3-8v23l-3 7zM1026 996l3-5v12l-3 5zM1029 1108l3-4v9l-3 4zM1029 1133l3-4v9l-3 3zM1032 1122l4-5v8l-4 5zM1036 963l4-8v17l-4 8zM1036 1100l4-5v11l-4 5zM1040 1068l3-4v7l-3 4zM1043 1153l3-4v6l-3 3zM1046 1111l3-4v7l-3 3zM1046 1124l3-3v7l-3 3zM1046 1131l3-3v8l-3 4zM1046 1198l3-3v7l-3 3zM1058 1073l3-4v12l-3 4zM1064 912l3-8v24l-3 7zM1064 1109l3-4v11l-3 4zM1067 932l3-8v17l-3 7zM1070 1111l4-6v10l-4 5zM1070 1159l4-5v10l-4 5zM1074 1049l3-5v7l-3 5zM1074 1067l3-5v8l-3 5zM1074 1143l3-4v10l-3 4zM1077 866l4-13v21l-4 12zM1081 1019l3-5v9l-3 5zM1084 1012l4-8v13l-4 7zM1084 1143l4-5v10l-4 5zM1084 1168l4-5v7l-4 5zM1088 748l5 0v0l-5 23zM1088 902l5-15v16l-5 14zM1096 1041l3-6v10l-3 5zM1099 731h1v11h-1zM1099 1068l4-6v12l-4 6zM1103 1109l3-4v9l-3 5zM1106 825l5-26v43l-5 20zM1106 862l5-20v33l-5 16zM1106 891l5-16v25l-5 14zM1111 835l4-19v41l-4 14zM1111 1147l4-6v10l-4 5zM1115 750l3-15v21l-3 25zM1115 1097l3-5v9l-3 4zM1118 897l4-13v19l-4 12zM1126 1075l4-7v8l-4 7zM1135 763l4-29v32l-4 30zM1135 885l4-15v22l-4 12zM1135 920l4-12v14l-4 12zM1139 757l4-15v17l-4 32zM1139 791l4-32v44l-4 22zM1143 983l3-7v14l-3 7zM1143 1105l3-5v7l-3 5zM1146 987l3-7v16l-3 7zM1149 1069l3-6v8l-3 6zM1152 843l4-20v44l-4 15zM1152 1056l4-7v10l-4 7zM1152 1100l4-7v7l-4 6zM1156 1002l3-6v14l-3 6zM1156 1025l3-6v14l-3 6zM1156 1071l3-6v7l-3 6zM1159 987l4-10v13l-4 9zM1163 904l3-10v20l-3 9zM1163 1095l3-5v10l-3 5zM1176 1064l4-8v10l-4 8zM1180 853l3-14v24l-3 12zM1180 1020l3-7v12l-3 7zM1183 917l3-10v19l-3 9zM1183 1050l3-6v9l-3 6zM1186 805l5-40v41l-5 28zM1191 877l4-17v26l-4 15zM1199 866l3-13v23l-3 12zM1199 888l3-12v15l-3 11zM1206 995l5-13v10l-5 12zM1211 955l3-9v14l-3 8zM1214 857l4-20v35l-4 17zM1222 940l5-17v14l-5 16zM1231 999l4-11v9l-4 10zM1235 886l4-18v22l-4 16zM1239 961l5-16v11l-5 15zM1244 768l3-36v37l-3 27zM1251 736l3 0v0l-3 25zM1254 951l4-13v14l-4 12zM1290 820l4-32v45l-4 23zM1303 732l5-2v0l-5 47z"/>
<path fill="#0044c1" d="M104 816l3 20v38l-3-15zM112 760l4 40v52l-4-23zM125 812l4 26v26l-4-21zM125 866l4 18v28l-4-16zM134 903l4 15v22l-4-14zM138 773l3 26v40l-3-18zM152 931l3 10v19l-3-10zM161 776l4 32v40l-4-21zM172 765l3 27v50l-3-17zM172 893l3 11v16l-3-11zM175 978l5 13v14l-5-13zM189 888l5 19v21l-5-17zM194 898l5 17v13l-5-16zM202 980l4 10v13l-4-10zM202 1014l4 9v11l-4-8zM206 919l4 13v20l-4-12zM210 1003l3 7v15l-3-7zM210 1027l3 7v7l-3-6zM216 841l4 18v22l-4-16zM228 880l3 11v18l-3-10zM231 1056l3 6v11l-3-6zM231 1067l3 6v10l-3-6zM234 871l4 15v17l-4-13zM234 941l4 11v17l-4-10zM238 1005l3 7v12l-3-6zM241 829l3 14v30l-3-11zM244 769l5 35v48l-5-23zM244 1058l5 9v12l-5-9zM249 1079l3 5v11l-3-5zM249 1090l3 5v7l-3-5zM252 1090l3 5v10l-3-5zM252 1100l3 5v6l-3-5zM256 737h1v18h-1zM258 1127l4 6v8l-4-6zM266 1039l5 9v10l-5-9zM279 992l4 8v11l-4-8zM283 762l3 23v48l-3-14zM283 1067l3 5v9l-3-5zM286 851l3 11v28l-3-10zM286 1077l3 5v11l-3-4zM286 1157l3 3v8l-3-3zM289 872l3 9v26l-3-9zM289 1071l3 4v9l-3-5zM289 1137l3 4v7l-3-4zM292 1007l3 6v8l-3-6zM295 1147l3 3v9l-3-4zM298 1133l4 5v10l-4-5zM302 777l4 24v45l-4-16zM302 975l4 9v15l-4-7zM306 785l4 23v54l-4-14zM306 1150l4 5v8l-4-5zM310 958l5 10v11l-5-10zM310 1009l5 9v9l-5-8zM310 1140l5 6v7l-5-6zM315 1049l4 6v10l-4-6zM319 1021l3 5v8l-3-5zM319 1115l3 4v7l-3-4zM319 1122l3 4v11l-3-4zM322 789l5 25v44l-5-17zM322 918l5 12v20l-5-11zM322 1012l5 9v10l-5-8zM327 1057l4 6v11l-4-6zM331 847l4 13v33l-4-11zM331 1077l4 6v7l-4-5zM335 962l5 10v16l-5-9zM335 1077l5 7v8l-5-7zM340 872l3 9v18l-3-8zM340 998l3 5v13l-3-5zM340 1078l3 4v8l-3-4zM340 1130l3 4v6l-3-3zM340 1137l3 3v10l-3-4zM343 1071l4 6v7l-4-5zM343 1151l4 5v9l-4-4zM343 1197l4 4v8l-4-4zM347 1080l4 6v6l-4-5zM351 1130l4 5v6l-4-5zM351 1136l4 5v7l-4-4zM351 1158l4 4v5l-4-4zM355 891l5 13v16l-5-12zM355 987l5 8v14l-5-8zM355 1110l5 6v6l-5-6zM360 749l3 0v6l-3-6zM360 1001l3 4v10l-3-4zM360 1203l3 3v7l-3-3zM363 976l3 5v14l-3-5zM363 1172l3 4v5l-3-3zM366 1166l5 5v9l-5-5zM366 1194l5 5v8l-5-5zM371 1052l5 6v8l-5-7zM371 1068l5 7v10l-5-6zM376 769l4 22v49l-4-13zM380 1027l4 6v9l-4-5zM380 1157l4 5v5l-4-4zM380 1163l4 4v10l-4-4zM380 1173l4 4v7l-4-4zM380 1198l4 4v6l-4-4zM387 1069l4 5v9l-4-4zM391 811l4 14v30l-4-11zM391 868l4 10v21l-4-9zM391 1009l4 6v14l-4-5zM391 1218l4 3v7l-4-3zM399 755l5 13v36l-5-22zM399 858l5 13v19l-5-11zM404 1068l3 4v10l-3-3zM404 1142l3 3v8l-3-3zM404 1234l3 2v6l-3-2zM409 733h1v18h-1zM407 872l5 12v20l-5-11zM407 1137l5 5v8l-5-5zM417 838l3 9v26l-3-7zM417 1243l3 3v8l-3-3zM420 984l4 6v11l-4-5zM420 1161l4 4v6l-4-3zM424 890l3 6v17l-3-6zM424 907l3 6v18l-3-5zM424 995l3 4v10l-3-4zM424 1133l3 3v8l-3-3zM424 1200l3 2v7l-3-3zM427 750l4 0v26l-4-23zM427 753l4 23v44l-4-13zM427 876l4 8v18l-4-8zM427 1063l4 4v10l-4-4zM427 1115l4 4v8l-4-4zM427 1215l4 3v7l-4-3zM431 1138l3 3v8l-3-3zM434 1089l4 4v10l-4-4zM438 959l4 5v12l-4-5zM442 946l4 5v14l-4-6zM442 1016l4 4v11l-4-4zM442 1083l4 4v8l-4-4zM446 906l3 5v17l-3-5zM446 1002l3 3v11l-3-4zM449 1009l5 5v10l-5-5zM449 1175l5 4v8l-5-4zM449 1190l5 4v8l-5-4zM449 1236l5 4v6l-5-3zM454 1181l3 2v7l-3-2zM454 1239l3 2v7l-3-2zM457 1039l5 5v9l-5-5zM457 1048l5 5v10l-5-5zM457 1084l5 4v8l-5-4zM457 1100l5 5v8l-5-5zM462 1012l4 4v10l-4-4zM466 966l5 6v13l-5-6zM466 1086l5 5v8l-5-4zM471 1053l4 3v10l-4-4zM471 1113l4 3v8l-4-3zM471 1144l4 3v8l-4-3zM471 1211l4 3v7l-4-3zM475 1015l5 5v10l-5-5zM480 940l3 4v16l-3-4zM480 984l3 3v12l-3-3zM480 1130l3 2v8l-3-2zM483 1090l5 4v8l-5-4zM488 998l5 4v12l-5-5zM488 1227l5 3v7l-5-3zM493 1133l3 2v7l-3-2zM496 1129l4 3v8l-4-3zM496 1217l4 3v7l-4-2zM496 1253l4 2v7l-4-2zM500 1213l3 1v7l-3-1zM503 754l4 0v39l-4-12zM503 781l4 12v39l-4-9zM503 1236l4 2v7l-4-2zM507 1027l4 3v10l-4-3zM507 1114l4 2v8l-4-3zM511 967l4 4v15l-4-4zM511 1040l4 3v9l-4-3zM515 1149l4 2v8l-4-3zM515 1178l4 2v7l-4-2zM519 1194l3 2v7l-3-2zM522 1160l4 3v7l-4-2zM522 1259l4 2v7l-4-2zM522 1287l4 1v7l-4-1zM526 1086l3 2v8l-3-2zM526 1268l3 1v7l-3-1zM529 1034l3 2v10l-3-2zM529 1157l3 2v7l-3-2zM532 1270l4 2v7l-4-2zM532 1277l4 2v7l-4-2zM532 1284l4 2v6l-4-1zM539 792l3 6v33l-3-5zM539 1218l3 1v7l-3-1zM542 1149l3 2v7l-3-2zM549 739h1v10h-1zM549 776l3 7v35l-3-6zM549 1047l3 2v10l-3-2zM549 1181l3 1v7l-3-1zM549 1250l3 1v7l-3-1zM552 818l3 5v28l-3-5zM552 846l3 5v25l-3-3zM552 1217l3 1v7l-3-1zM555 823l4 6v27l-4-5zM555 1102l4 2v8l-4-2zM555 1148l4 2v7l-4-2zM559 759l3 8v37l-3-6zM559 1104l3 2v8l-3-2zM559 1171l3 2v7l-3-2zM559 1226l3 2v6l-3-1zM562 752l4 0v25l-4-10zM566 777l3 7v31l-3-4zM566 811l3 4v28l-3-4zM566 1131l3 1v8l-3-2zM566 1174l3 2v6l-3-1zM566 1188l3 1v7l-3-1zM566 1222l3 1v7l-3-1zM569 1048l4 2v11l-4-3zM569 1125l4 1v8l-4-2zM569 1196l4 2v6l-4-1zM573 1170l4 2v7l-4-2zM577 752l4 0v21l-4-9zM577 1089l4 2v8l-4-2zM577 1097l4 2v8l-4-2zM581 1019l4 2v13l-4-2zM581 1281l4 1v7l-4-1zM585 1084l3 2v8l-3-1zM585 1131l3 1v8l-3-1zM585 1188l3 1v7l-3-1zM585 1222l3 1v7l-3-1zM585 1262l3 1v7l-3-1zM592 760l3 7v30l-3-4zM592 949l3 2v17l-3-1zM592 1141l3 1v7l-3-1zM592 1163l3 1v7l-3-1zM592 1251l3 1v6l-3-1zM592 1257l3 1v7l-3-1zM592 1277l3 1v7l-3-1zM595 797l4 6v25l-4-5zM595 951l4 2v17l-4-2zM595 1142l4 1v8l-4-2zM595 1212l4 1v6l-4-1zM595 1278l4 1v7l-4-1zM599 1015l4 2v13l-4-2zM599 1121l4 1v8l-4-1zM599 1129l4 1v7l-4-1zM599 1193l4 1v6l-4-1zM599 1206l4 1v7l-4-1zM599 1239l4 1v7l-4-1zM599 1259l4 1v7l-4-1zM599 1273l4 1v6l-4-1zM599 1286l4 1v6l-4-1zM603 1122l3 1v8l-3-1zM603 1240l3 1v7l-3-1zM603 1293l3 1v7l-3-1zM606 811l5 6v22l-5-4zM606 857l5 4v21l-5-4zM606 1043l5 2v11l-5-2zM606 1116l5 1v8l-5-2zM606 1146l5 1v7l-5-1zM606 1195l5 1v7l-5-2zM606 1228l5 1v7l-5-2zM606 1248l5 1v7l-5-2zM611 1066l4 2v9l-4-1zM611 1140l4 1v7l-4-1zM611 1161l4 1v7l-4-1zM611 1282l4 1v6l-4 0zM615 749l4 0v27l-4-6zM615 1176l4 1v7l-4-1zM619 752l3 0v28l-3-4zM619 1170l3 1v7l-3-1zM622 742h1v11h-1zM622 1143l4 1v7l-4-1zM622 1238l4 1v6l-4 0zM626 966l4 1v17l-4-2zM626 1165l4 1v7l-4-1zM626 1285l4 1v6l-4-1zM630 1027l4 1v12l-4-1zM634 875l4 2v19l-4-2zM634 1073l4 1v10l-4-1zM634 1160l4 0v7l-4 0zM638 1117l4 0v8l-4-1zM638 1300l4 0v7l-4-1zM642 917l3 1v18l-3-1zM642 954l3 1v17l-3-1zM642 1093l3 1v8l-3 0zM642 1202l3 1v6l-3 0zM642 1281l3 0v7l-3-1zM645 1268l3 1v6l-3 0zM648 1223l4 0v7l-4-1zM656 865l4 2v18l-4-1zM656 1120l4 0v8l-4-1zM656 1282l4 1v6l-4 0zM660 1068l3 0v10l-3 0zM663 1231l4 0v7l-4-1zM663 1303l4 0v6l-4 0zM667 794l4 2v18l-4-1zM667 1079l4 0v10l-4-1zM667 1225l4 0v7l-4-1zM667 1231l4 1v6l-4 0zM671 1172l4 0v7l-4 0zM675 943l3 0v18l-3 0zM675 1008l3 0v14l-3 0zM675 1114l3 0v8l-3 0zM675 1206l3 0v6l-3 0zM675 1212l3 0v7l-3 0zM675 1284l3 0v7l-3-1zM678 816l5 1v18l-5-1zM678 1179l5 0v7l-5 0zM678 1193l5 0v7l-5-1zM683 748l3 0v51l-3 0zM683 799l3 0v18l-3 0zM683 1023l3 0v13l-3 0zM683 1137l3 0v7l-3 0zM683 1151l3 0v7l-3 0zM689 1291l4 0v6l-4 0zM693 1070l4 0v10l-4 0zM693 1166l4 0v7l-4 0zM693 1310l4 0v7l-4 0zM697 758l4 0v42l-4 0zM697 1009l4 0v14l-4 0zM701 944l3 0v18l-3 0zM701 994l3 0v15l-3 0zM701 1115l3 0v7l-3 0zM701 1239l3 0v6l-3 0zM704 1090l4 0v8l-4 1zM708 889l5 0v18l-5 0zM708 1137l5 0v7l-5 0zM713 816l4-1v19l-4 0zM713 1089l4 0v9l-4 0zM713 1212l4 0v7l-4 0zM717 1106l5 0v8l-5 0zM717 1245l5-1v7l-5 0zM722 1034l3 0v12l-3 1zM722 1089l3-1v9l-3 0zM722 1121l3 0v7l-3 1zM722 1310l3-1v7l-3 0zM725 976l3 0v16l-3 0zM725 1105l3 0v8l-3 0zM725 1212l3-1v7l-3 0zM725 1296l3 0v7l-3 0zM728 868l4-2v19l-4 1zM728 959l4-1v17l-4 1zM728 1191l4 0v7l-4 0zM728 1244l4 0v6l-4 1zM732 975l4-1v16l-4 1zM732 1033l4-1v13l-4 0zM732 1171l4-1v7l-4 0zM732 1218l4-1v7l-4 0zM740 741h1v9h-1zM736 884l5-2v19l-5 1zM736 1295l5 0v6l-5 1zM741 1126l3 0v7l-3 1zM741 1176l3 0v7l-3 0zM741 1236l3 0v6l-3 1zM741 1249l3 0v6l-3 1zM744 881l4-2v19l-4 2zM744 937l4-1v18l-4 1zM744 955l4-1v17l-4 1zM744 1094l4 0v8l-4 1zM744 1242l4 0v6l-4 1zM744 1255l4 0v6l-4 1zM744 1275l4-1v7l-4 0zM748 779l3-2v21l-3 2zM748 800l3-2v21l-3 2zM748 954l3-1v17l-3 1zM748 1125l3-1v8l-3 0zM748 1307l3 0v6l-3 1zM751 935l4-2v19l-4 1zM751 953l4-1v17l-4 1zM751 1139l4-1v8l-4 0zM751 1161l4-1v7l-4 1zM755 933l5-2v19l-5 2zM755 1188l5-1v7l-5 1zM755 1254l5-1v6l-5 1zM760 950l4-1v17l-4 2zM760 1246l4 0v6l-4 1zM764 1038l3-1v12l-3 1zM764 1259l3-1v7l-3 0zM771 1112l4-1v8l-4 1zM771 1184l4 0v6l-4 1zM775 1047l5-2v11l-5 2zM775 1111l5-1v7l-5 2zM775 1250l5-1v7l-5 1zM780 1132l3-1v8l-3 1zM783 920l5-3v20l-5 3zM783 1019l5-2v13l-5 2zM783 1275l5-1v6l-5 1zM788 1083l4-2v9l-4 1zM793 743h1v15h-1zM792 1015l3-1v13l-3 1zM795 1071l4-2v9l-4 2zM795 1285l4-1v7l-4 1zM799 1087l4-1v8l-4 1zM799 1134l4-2v8l-4 1zM799 1141l4-1v7l-4 1zM806 860l3-3v23l-3 3zM806 1249l3-1v7l-3 0zM806 1269l3-1v7l-3 0zM809 757l3 0v12l-3 6zM812 921l5-4v20l-5 4zM812 1233l5-1v7l-5 1zM817 1061l3-1v9l-3 2zM817 1071l3-2v9l-3 1zM820 1162l4-1v7l-4 1zM820 1224l4-1v6l-4 2zM820 1258l4-2v7l-4 1zM820 1291l4-1v7l-4 1zM824 812l4-7v30l-4 5zM824 1047l4-2v10l-4 2zM828 760l4 0v0l-4 10zM828 1137l4-2v8l-4 1zM832 1053l4-2v10l-4 2zM832 1192l4-1v6l-4 2zM836 876l5-6v25l-5 5zM836 1118l5-2v7l-5 3zM836 1279l5-2v7l-5 2zM841 895l4-5v23l-4 4zM841 1175l4-2v7l-4 2zM848 1033l3-2v10l-3 2zM848 1127l3-1v7l-3 2zM848 1142l3-1v7l-3 2zM848 1150l3-2v7l-3 2zM851 1070l4-3v8l-4 3zM851 1126l4-3v8l-4 2zM851 1205l4-2v7l-4 2zM851 1287l4-1v6l-4 2zM855 784l4-11v40l-4 8zM859 873l3-4v24l-3 4zM859 1129l3-2v8l-3 1zM862 748l3 0v4l-3 11zM862 869l3-5v26l-3 3zM865 1212l4-2v7l-4 2zM869 884l4-5v23l-4 5zM869 1099l4-2v8l-4 2zM869 1231l4-2v7l-4 2zM873 748l4 0v17l-4 14zM873 879l4-6v24l-4 5zM873 923l4-5v19l-4 5zM873 1121l4-3v8l-4 2zM873 1165l4-2v7l-4 3zM873 1236l4-2v7l-4 2zM877 745h1v9h-1zM877 1220l4-2v7l-4 2zM881 801l3-8v39l-3 6zM881 933l3-4v18l-3 3zM881 1131l3-2v8l-3 2zM884 862l3-5v26l-3 4zM884 1202l3-2v8l-3 1zM887 905l3-4v21l-3 4zM887 1095l3-2v8l-3 2zM887 1127l3-2v8l-3 2zM887 1200l3-1v7l-3 2zM887 1257l3-1v7l-3 1zM890 774l4-16v51l-4 10zM890 1170l4-3v8l-4 2zM890 1242l4-3v7l-4 3zM890 1249l4-3v8l-4 2zM894 1025l4-4v10l-4 4zM894 1053l4-4v9l-4 4zM894 1079l4-3v8l-4 3zM894 1095l4-3v9l-4 3zM894 1215l4-2v7l-4 3zM898 1002l4-4v12l-4 3zM898 1095l4-3v8l-4 3zM898 1244l4-2v7l-4 2zM898 1258l4-2v7l-4 2zM902 794l4-13v43l-4 9zM902 1265l4-2v7l-4 2zM906 759l5 0v19l-5 17zM906 1236l5-3v7l-5 3zM906 1257l5-3v7l-5 3zM911 1250l5-3v7l-5 3zM916 1048l4-4v9l-4 4zM916 1243l4-3v8l-4 2zM920 1036l4-4v9l-4 4zM920 1081l4-4v9l-4 3zM920 1114l4-3v8l-4 3zM920 1189l4-2v7l-4 3zM924 786l3-11v44l-3 8zM924 956l3-4v14l-3 3zM924 995l3-4v11l-3 3zM924 1153l3-2v8l-3 2zM927 941l5-7v15l-5 7zM932 920l4-6v18l-4 6zM932 1013l4-5v10l-4 5zM938 735h1v14h-1zM936 1096l4-4v8l-4 4zM936 1137l4-4v8l-4 3zM936 1205l4-2v7l-4 3zM940 748l3 0v11l-3 15zM940 1069l3-3v9l-3 3zM940 1165l3-2v8l-3 3zM947 1124l4-4v9l-4 3zM947 1157l4-4v7l-4 4zM947 1200l4-3v7l-4 2zM951 769l3-17v49l-3 10zM951 873l3-6v25l-3 6zM951 934l3-4v17l-3 4zM951 1255l3-2v7l-3 2zM954 929l4-6v16l-4 6zM954 1214l4-3v8l-4 2zM958 959l4-6v13l-4 5zM958 1026l4-5v11l-4 5zM958 1056l4-4v8l-4 5zM958 1130l4-4v8l-4 3zM958 1159l4-3v8l-4 3zM963 741h1v9h-1zM965 983l4-5v12l-4 5zM965 1166l4-3v8l-4 3zM965 1196l4-3v6l-4 4zM965 1210l4-3v8l-4 3zM969 1009l4-5v11l-4 5zM969 1020l4-5v11l-4 4zM969 1030l4-4v10l-4 5zM969 1113l4-4v7l-4 4zM969 1127l4-4v9l-4 4zM973 1240l4-3v6l-4 3zM977 1045l4-5v12l-4 5zM977 1193l4-3v8l-4 3zM977 1201l4-3v7l-4 3zM981 751l4 0v0l-4 7zM981 1159l4-4v7l-4 4zM985 830l3-10v42l-3 8zM988 1169l3-3v9l-3 3zM988 1219l3-2v6l-3 3zM991 894l3-6v19l-3 7zM991 1098l3-4v8l-3 3zM994 755l3 0v0l-3 6zM994 897l3-6v24l-3 6zM994 1154l3-3v8l-3 3zM997 745l3-2v34l-3 15zM997 858l3-8v25l-3 8zM997 1067l3-3v9l-3 4zM997 1181l3-3v7l-3 3zM1000 874l3-8v22l-3 7zM1000 1000l3-5v12l-3 4zM1000 1054l3-4v8l-3 4zM1003 1016l4-5v14l-4 5zM1003 1039l4-5v9l-4 5zM1003 1084l4-5v7l-4 5zM1003 1112l4-5v9l-4 4zM1007 1055l3-4v12l-3 4zM1007 1172l3-3v7l-3 3zM1010 1136l4-4v8l-4 4zM1010 1152l4-4v8l-4 4zM1014 905l3-7v15l-3 6zM1017 758l5 0v0l-5 2zM1017 867l5-14v21l-5 13zM1017 966l5-9v17l-5 8zM1017 1123l5-6v9l-5 5zM1017 1165l5-5v8l-5 5zM1017 1189l5-5v6l-5 5zM1022 1210l4-4v6l-4 4zM1029 934l3-6v13l-3 6zM1029 1176l3-3v8l-3 3zM1032 896l4-10v17l-4 9zM1032 1034l4-6v10l-4 6zM1032 1072l4-5v9l-4 5zM1036 980l4-8v15l-4 7zM1036 1206l4-4v6l-4 4zM1040 987l3-5v14l-3 5zM1040 1157l3-4v8l-3 3zM1040 1171l3-3v8l-3 3zM1043 875l3-9v25l-3 8zM1049 863l5-16v25l-5 14zM1049 1027l5-8v12l-5 8zM1054 903l4-11v15l-4 10zM1054 974l4-8v15l-4 8zM1054 1188l4-5v8l-4 4zM1061 808l3-15v46l-3 11zM1061 878l3-9v28l-3 8zM1061 1136l3-4v8l-3 4zM1064 786l3-20v52l-3 12zM1064 1000l3-6v14l-3 5zM1064 1188l3-3v8l-3 4zM1067 966l3-7v18l-3 6zM1067 1070l3-4v9l-3 5zM1077 1006l4-7v9l-4 8zM1081 1072l3-4v11l-3 4zM1081 1161l3-4v9l-3 4zM1084 1137l4-6v7l-4 5zM1092 742h1v7h-1zM1088 800l5-32v47l-5 22zM1088 1169l5-6v6l-5 6zM1093 980l3-6v15l-3 6zM1096 1150l3-4v7l-3 4zM1099 759l4-19v26l-4 28zM1099 978l4-9v14l-4 8zM1099 1117l4-6v6l-4 6zM1117 728h1v9h-1zM1115 1089l3-5v8l-3 5zM1115 1105l3-4v10l-3 4zM1118 915l4-12v17l-4 11zM1118 950l4-10v15l-4 10zM1118 1109l4-6v7l-4 6zM1118 1144l4-6v6l-4 5zM1124 732h1v16h-1zM1122 911l4-12v15l-4 11zM1126 986l4-9v12l-4 9zM1126 998l4-9v10l-4 8zM1126 1042l4-8v9l-4 7zM1126 1058l4-7v9l-4 7zM1135 1112l4-6v10l-4 6zM1139 869l4-16v29l-4 14zM1143 923l3-9v17l-3 8zM1146 942l3-8v19l-3 8zM1146 1003l3-7v14l-3 6zM1146 1039l3-6v11l-3 6zM1149 962l3-8v11l-3 7zM1149 1007l3-7v14l-3 6zM1152 1049l4-8v8l-4 7zM1156 903l3-10v19l-3 9zM1166 1065l4-8v10l-4 7zM1173 867l3-13v28l-3 11zM1173 1086l3-5v11l-3 5zM1176 1036l4-8v10l-4 8zM1180 758l3-34v40l-3 25zM1183 734l3 0v0l-3 30zM1183 851l3-15v22l-3 13zM1183 935l3-9v14l-3 9zM1186 1029l5-11v8l-5 11zM1191 795l4-35v65l-4 20zM1191 961l4-11v18l-4 11zM1191 1064l4-9v8l-4 8zM1195 999l4-10v11l-4 9zM1199 940l3-10v15l-3 9zM1227 882l4-17v19l-4 16zM1231 974l4-12v15l-4 11zM1235 991l4-11v15l-4 10zM1239 765l5-30v0l-5 51zM1244 873l3-15v27l-3 12zM1244 960l3-9v19l-3 9zM1254 935l4-14v17l-4 13zM1258 729l4 0v0l-4 35zM1286 795l4-43v41l-4 30zM1294 775l4-37v37l-4 36zM1298 844l5-34v42l-5 26z"/>
<path fill="#0054d1" d="M79 757l4 0v16l-4-16zM126 744h1v9h-1zM138 884l3 12v25l-3-12zM141 920l4 14v15l-4-13zM145 884l3 12v14l-3-12zM145 923l3 10v12l-3-10zM152 913l3 11v17l-3-10zM155 975l3 9v15l-3-8zM158 755l3 0v8l-3-8zM168 896l4 15v13l-4-14zM172 825l3 17v21l-3-14zM172 1010l3 7v10l-3-7zM180 753l4 0v18l-4-18zM184 748l5 23v34l-5-41zM189 911l5 17v19l-5-16zM189 995l5 12v13l-5-12zM189 1040l5 11v11l-5-10zM199 849l3 14v18l-3-12zM206 987l4 9v11l-4-9zM206 1048l4 8v10l-4-8zM210 750l3 0v10l-3-10zM213 1073l3 6v10l-3-6zM216 732h1v17h-1zM216 918l4 13v20l-4-11zM216 1018l4 9v10l-4-8zM216 1047l4 8v10l-4-8zM220 750l3 6v29l-3-26zM223 920l5 15v16l-5-14zM228 1027l3 7v10l-3-6zM228 1064l3 5v10l-3-6zM228 1084l3 5v11l-3-5zM234 993l4 9v13l-4-8zM234 1082l4 7v11l-4-7zM241 1044l3 6v10l-3-6zM244 993l5 11v9l-5-11zM244 1002l5 11v9l-5-10zM244 1036l5 10v11l-5-9zM249 753l3 12v43l-3-19zM249 1029l3 5v10l-3-5zM252 924l3 9v19l-3-8zM252 1006l3 7v13l-3-6zM255 754l3 0v11l-3-11zM255 911l3 9v21l-3-9zM255 995l3 7v8l-3-6zM255 1068l3 5v8l-3-5zM258 951l4 10v11l-4-10zM258 1111l4 6v9l-4-6zM262 749l4 7v29l-4-33zM262 1011l4 8v14l-4-8zM262 1089l4 7v10l-4-6zM271 752l4 0v35l-4-32zM271 876l4 14v24l-4-12zM271 1054l4 7v8l-4-6zM275 1104l4 6v7l-4-6zM275 1111l4 6v7l-4-6zM275 1125l4 6v7l-4-6zM279 958l4 9v11l-4-9zM279 1131l4 6v9l-4-6zM283 859l3 11v24l-3-10zM283 909l3 8v22l-3-8zM283 931l3 8v19l-3-7zM286 1143l3 4v8l-3-4zM289 848l3 12v21l-3-9zM289 915l3 8v14l-3-8zM292 942l3 7v12l-3-7zM292 1092l3 5v10l-3-4zM292 1158l3 3v9l-3-3zM295 1141l3 4v5l-3-3zM298 842l4 15v34l-4-13zM302 952l4 9v12l-4-8zM302 1039l4 7v13l-4-7zM302 1065l4 6v12l-4-7zM302 1123l4 5v7l-4-6zM310 980l5 10v14l-5-9zM310 1051l5 8v12l-5-8zM315 1059l4 6v10l-4-6zM315 1157l4 5v9l-4-5zM319 1172l3 4v6l-3-3zM322 1172l5 6v9l-5-6zM335 1021l5 8v11l-5-8zM335 1085l5 7v8l-5-7zM335 1130l5 6v8l-5-6zM343 1079l4 5v10l-4-5zM347 1038l4 6v12l-4-6zM347 1105l4 5v8l-4-5zM347 1154l4 5v7l-4-5zM351 744l4 16v43l-4-21zM351 1035l4 6v9l-4-6zM355 748l5 0v17l-5-17zM355 1032l5 7v9l-5-7zM355 1164l5 5v5l-5-5zM360 973l3 5v15l-3-5zM360 1023l3 5v12l-3-4zM360 1078l3 4v8l-3-4zM360 1135l3 3v9l-3-4zM363 1074l3 4v11l-3-4zM363 1165l3 4v7l-3-4zM366 955l5 9v15l-5-9zM366 1122l5 6v6l-5-6zM371 831l5 16v27l-5-13zM371 1179l5 5v9l-5-5zM376 761l4 0v30l-4-22zM380 772l4 21v53l-4-13zM384 765l3 17v52l-3-10zM384 910l3 7v20l-3-5zM384 1176l3 3v7l-3-3zM387 1192l4 4v8l-4-4zM391 914l4 8v15l-4-8zM391 1135l4 5v6l-4-4zM391 1142l4 4v6l-4-4zM395 949l4 7v12l-4-6zM395 1021l4 5v12l-4-5zM399 1098l5 5v7l-5-5zM399 1159l5 5v8l-5-4zM399 1213l5 4v6l-5-4zM404 774l3 14v42l-3-10zM404 985l3 4v10l-3-4zM404 1037l3 4v11l-3-3zM404 1079l3 3v11l-3-4zM407 911l5 9v14l-5-9zM407 1043l5 6v8l-5-6zM407 1089l5 5v9l-5-6zM412 1110l5 5v10l-5-5zM412 1201l5 5v5l-5-4zM417 887l3 7v17l-3-6zM420 754l4 8v42l-4-16zM420 1168l4 3v7l-4-3zM424 800l3 10v39l-3-8zM424 1005l3 4v10l-3-4zM424 1046l3 3v10l-3-3zM427 1073l4 4v8l-4-4zM427 1138l4 4v7l-4-3zM431 811l3 10v38l-3-8zM431 1232l3 3v7l-3-2zM434 1080l4 4v9l-4-4zM438 866l4 9v22l-4-8zM438 1045l4 4v10l-4-4zM438 1092l4 4v9l-4-3zM442 894l4 7v18l-4-7zM442 1038l4 4v9l-4-4zM442 1164l4 4v7l-4-4zM442 1244l4 2v8l-4-3zM449 750l5 0v32l-5-23zM449 1067l5 5v10l-5-5zM454 986l3 3v11l-3-3zM454 1261l3 2v6l-3-1zM457 1058l5 5v9l-5-5zM462 935l4 6v15l-4-5zM462 951l4 5v14l-4-5zM462 990l4 5v11l-4-5zM462 1060l4 4v8l-4-3zM462 1095l4 3v8l-4-3zM466 1002l5 6v10l-5-5zM466 1051l5 4v9l-5-4zM471 758l4 0v33l-4-14zM471 954l4 5v15l-4-5zM471 1174l4 3v8l-4-3zM471 1233l4 2v8l-4-3zM480 1115l3 2v8l-3-3zM480 1161l3 2v7l-3-2zM480 1190l3 2v7l-3-1zM483 922l5 7v17l-5-6zM483 1255l5 3v7l-5-3zM488 1139l5 3v8l-5-4zM488 1234l5 3v7l-5-3zM493 987l3 3v12l-3-3zM493 1213l3 2v7l-3-2zM493 1235l3 1v8l-3-2zM496 915l4 6v18l-4-5zM496 1028l4 3v10l-4-4zM496 1145l4 2v8l-4-3zM500 921l3 3v19l-3-4zM500 1076l3 2v8l-3-2zM500 1205l3 2v7l-3-1zM503 943l4 4v16l-4-4zM503 1023l4 4v10l-4-3zM503 1086l4 3v8l-4-2zM507 793l4 11v36l-4-8zM507 978l4 4v13l-4-3zM507 1081l4 3v8l-4-3zM507 1159l4 2v8l-4-3zM511 915l4 4v19l-4-4zM511 1226l4 2v7l-4-2zM511 1247l4 2v7l-4-2zM511 1261l4 2v7l-4-2zM515 1052l4 3v9l-4-3zM515 1061l4 3v9l-4-3zM515 1228l4 2v7l-4-2zM515 1235l4 2v7l-4-2zM515 1263l4 1v7l-4-1zM519 960l3 3v15l-3-3zM519 1258l3 1v7l-3-2zM519 1264l3 2v7l-3-2zM522 754l4 0v46l-4-10zM522 790l4 10v35l-4-8zM522 1217l4 2v7l-4-2zM526 800l3 7v33l-3-5zM526 950l3 3v16l-3-3zM526 1118l3 1v8l-3-2zM526 1170l3 1v7l-3-1zM529 953l3 3v16l-3-3zM529 998l3 2v13l-3-2zM529 1213l3 2v7l-3-2zM532 1073l4 2v9l-4-3zM532 1159l4 2v7l-4-2zM532 1229l4 2v7l-4-2zM536 942l3 3v17l-3-3zM536 1168l3 1v7l-3-1zM536 1244l3 2v7l-3-2zM539 905l3 3v21l-3-3zM539 1133l3 1v8l-3-2zM542 756l3 0v8l-3-8zM542 1032l3 2v11l-3-2zM542 1071l3 2v8l-3-2zM542 1142l3 1v8l-3-2zM542 1178l3 1v7l-3-1zM545 764l4 12v36l-4-7zM545 1113l4 2v8l-4-2zM545 1228l4 1v7l-4-2zM549 1099l3 2v8l-3-2zM552 1175l3 2v7l-3-2zM552 1230l3 2v6l-3-1zM555 1086l4 3v8l-4-2zM555 1095l4 2v7l-4-2zM559 748l3 0v19l-3-8zM559 798l3 6v29l-3-4zM559 993l3 2v13l-3-1zM559 1164l3 2v7l-3-2zM559 1287l3 1v7l-3-1zM562 1008l4 3v13l-4-3zM562 1173l4 1v7l-4-1zM566 1024l3 1v12l-3-1zM566 1057l3 1v10l-3-1zM566 1283l3 1v7l-3-1zM566 1290l3 1v6l-3-1zM569 1182l4 2v7l-4-2zM569 1284l4 1v7l-4-1zM573 894l4 4v22l-4-4zM573 1103l4 2v8l-4-2zM573 1204l4 2v7l-4-2zM577 798l4 7v27l-4-5zM581 1234l4 1v7l-4-1zM588 815l4 5v24l-4-4zM588 907l4 3v20l-4-2zM588 1023l4 2v12l-4-2zM588 1168l4 2v7l-4-2zM588 1243l4 1v7l-4-1zM592 998l3 1v14l-3-1zM592 1134l3 1v7l-3-1zM595 968l4 2v16l-4-2zM595 1080l4 1v9l-4-2zM595 1205l4 1v7l-4-1zM599 1158l4 1v7l-4-1zM599 1172l4 1v7l-4-1zM603 832l3 3v22l-3-3zM603 955l3 2v17l-3-2zM603 988l3 2v14l-3-1zM603 1200l3 1v7l-3-1zM603 1267l3 1v6l-3 0zM603 1280l3 1v6l-3 0zM606 878l5 4v20l-5-3zM606 1074l5 2v9l-5-1zM606 1215l5 1v6l-5-1zM611 764l4 6v27l-4-5zM611 1102l4 1v8l-4-1zM611 1125l4 1v7l-4-1zM611 1175l4 1v7l-4-1zM615 924l4 2v19l-4-2zM615 1111l4 1v8l-4-2zM615 1133l4 2v7l-4-1zM622 780l4 5v23l-4-4zM622 1060l4 1v10l-4-1zM622 1097l4 1v8l-4-1zM622 1218l4 1v7l-4-1zM626 851l4 2v20l-4-2zM626 891l4 2v19l-4-2zM626 1252l4 1v6l-4 0zM630 984l4 1v15l-4-1zM630 1082l4 1v9l-4-1zM630 1144l4 1v7l-4 0zM630 1226l4 1v7l-4-1zM630 1246l4 1v6l-4 0zM630 1266l4 1v6l-4-1zM634 793l4 3v22l-4-3zM634 951l4 2v17l-4-1zM634 1167l4 0v7l-4 0zM634 1221l4 0v7l-4-1zM634 1273l4 1v6l-4 0zM638 1093l4 0v9l-4-1zM638 1109l4 1v7l-4 0zM642 1084l3 1v9l-3-1zM642 1168l3 1v7l-3-1zM642 1261l3 1v6l-3 0zM642 1294l3 0v7l-3-1zM645 842l3 1v19l-3-1zM645 1017l3 1v13l-3-1zM645 1110l3 1v7l-3 0zM645 1162l3 0v7l-3 0zM645 1176l3 0v7l-3-1zM645 1203l3 0v7l-3-1zM645 1216l3 0v7l-3-1zM645 1301l3 0v7l-3-1zM648 919l4 1v18l-4-1zM648 937l4 1v19l-4-1zM648 1103l4 1v8l-4-1zM652 787l4 2v19l-4-2zM652 1095l4 1v8l-4 0zM652 1104l4 0v8l-4 0zM652 1210l4 1v6l-4 0zM660 749l3 0v43l-3-1zM660 885l3 1v18l-3 0zM660 1057l3 0v11l-3 0zM660 1128l3 0v7l-3 0zM660 1184l3 1v6l-3 0zM660 1224l3 0v7l-3 0zM663 755l4 0v39l-4-2zM663 904l4 1v18l-4 0zM663 1068l4 1v10l-4-1zM663 1185l4 0v7l-4-1zM663 1257l4 0v7l-4 0zM663 1309l4 0v7l-4 0zM671 796l4 1v18l-4-1zM671 888l4 0v19l-4-1zM671 1136l4 0v8l-4-1zM671 1151l4 0v7l-4 0zM671 1284l4 0v6l-4 0zM671 1297l4 0v6l-4 0zM675 1035l3 0v13l-3-1zM675 1199l3 0v7l-3 0zM675 1232l3 0v7l-3-1zM675 1264l3 1v6l-3 0zM678 1080l5 0v10l-5-1zM683 961l3 1v16l-3 0zM686 1099l3 0v8l-3 0zM689 760l4 0v40l-4 0zM689 1099l4 0v8l-4 0zM689 1144l4 0v7l-4 0zM689 1159l4 0v7l-4 0zM689 1213l4 0v6l-4 0zM693 818l4 0v18l-4 0zM693 962l4 0v17l-4 0zM697 818l4 0v18l-4 0zM697 1130l4 0v7l-4 0zM701 818l3 0v18l-3 0zM701 1130l3 0v7l-3 0zM704 760l4 0v39l-4 0zM704 1166l4-1v7l-4 0zM704 1304l4 0v6l-4 0zM708 835l5-1v19l-5 0zM708 1252l5 0v6l-5 0zM713 1226l4-1v7l-4 0zM713 1239l4-1v7l-4 0zM713 1304l4-1v7l-4 0zM717 870l5-1v18l-5 1zM717 906l5 0v18l-5 1zM717 1047l5 0v11l-5 1zM717 1179l5-1v7l-5 1zM717 1290l5 0v7l-5 0zM717 1310l5 0v6l-5 0zM722 1021l3 0v13l-3 0zM725 794l3-2v20l-3 1zM725 1088l3 0v9l-3 0zM725 1128l3 0v7l-3 1zM725 1231l3 0v6l-3 1zM728 830l4-1v19l-4 1zM728 1046l4-1v12l-4 0zM728 1097l4-1v9l-4 0zM728 1143l4-1v7l-4 1zM728 1150l4-1v7l-4 1zM728 1211l4 0v7l-4 0zM732 750l4 0v38l-4 2zM732 866l4-1v19l-4 1zM732 1164l4-1v7l-4 1zM732 1177l4 0v7l-4 0zM732 1224l4 0v6l-4 1zM732 1283l4-1v7l-4 0zM736 1191l5-1v7l-5 0zM736 1256l5 0v6l-5 1zM736 1308l5 0v6l-5 1zM741 1203l3 0v7l-3 0zM741 1301l3 0v7l-3 0zM744 843l4-2v19l-4 2zM744 988l4-1v16l-4 1zM744 1031l4-1v12l-4 1zM744 1162l4-1v7l-4 1zM744 1196l4 0v6l-4 1zM744 1203l4-1v7l-4 1zM744 1210l4-1v7l-4 0zM748 777l3 0v0l-3 2zM748 860l3-1v19l-3 1zM748 1274l3 0v7l-3 0zM754 771h1v7h-1zM751 1084l4-1v9l-4 1zM755 876l5-2v19l-5 2zM755 1052l5-1v11l-5 1zM755 1124l5-1v7l-5 1zM755 1131l5-1v7l-5 1zM755 1153l5-1v7l-5 1zM755 1280l5-1v7l-5 0zM760 766l4-6v26l-4 4zM760 912l4-2v20l-4 1zM760 1013l4-1v14l-4 1zM760 1180l4-1v7l-4 1zM760 1240l4-1v7l-4 0zM766 743h1v18h-1zM764 809l3-3v22l-3 3zM764 1081l3-1v9l-3 1zM767 757l4 0v21l-4 5zM767 1049l4-1v11l-4 1zM771 1171l4-1v7l-4 1zM771 1211l4-1v7l-4 1zM771 1257l4 0v6l-4 1zM775 1104l5-2v8l-5 1zM780 1242l3 0v6l-3 1zM780 1275l3 0v6l-3 1zM783 1075l5-2v10l-5 1zM783 1093l5-2v8l-5 2zM783 1202l5-2v7l-5 1zM788 1152l4-1v7l-4 1zM792 1113l3-1v8l-3 1zM792 1273l3-1v6l-3 1zM795 913l4-3v20l-4 3zM795 1014l4-2v13l-4 2zM795 1128l4-2v8l-4 1zM799 998l4-2v14l-4 2zM799 1103l4-1v7l-4 2zM799 1257l4-1v7l-4 1zM803 750l3 0v31l-3 5zM803 928l3-3v20l-3 2zM806 1021l3-1v12l-3 2zM806 1174l3-1v7l-3 1zM809 833l3-4v25l-3 3zM809 923l3-2v20l-3 2zM809 1055l3-2v10l-3 2zM812 769l5-12v36l-5 9zM812 854l5-5v24l-5 4zM812 959l5-4v17l-5 3zM812 1172l5-2v7l-5 2zM812 1207l5-2v7l-5 1zM812 1280l5-1v7l-5 1zM817 761l3 0v27l-3 5zM817 917l3-2v20l-3 2zM817 1051l3-2v11l-3 1zM817 1225l3-1v7l-3 1zM817 1279l3-1v7l-3 1zM820 740h1v12h-1zM820 788l4-9v33l-4 6zM824 1124l4-2v7l-4 2zM824 1182l4-2v7l-4 2zM828 770l4-10v38l-4 7zM828 835l4-6v27l-4 5zM828 908l4-4v21l-4 3zM828 1180l4-2v7l-4 2zM828 1201l4-2v7l-4 2zM828 1255l4-1v6l-4 2zM832 925l4-4v20l-4 3zM832 1063l4-2v9l-4 2zM832 1120l4-2v8l-4 2zM832 1128l4-2v7l-4 2zM832 1206l4-2v7l-4 2zM836 752l5 0v26l-5 12zM836 921l5-4v19l-5 5zM844 742h1v9h-1zM845 890l3-3v22l-3 4zM845 933l3-3v18l-3 3zM845 1113l3-1v8l-3 1zM845 1129l3-2v8l-3 1zM845 1290l3-2v7l-3 1zM848 758l3-12v48l-3 6zM848 909l3-3v21l-3 3zM851 1219l4-2v7l-4 1zM851 1232l4-1v7l-4 1zM851 1267l4-2v7l-4 2zM855 1224l4-2v7l-4 2zM855 1238l4-2v7l-4 1zM859 750l3 0v13l-3 10zM859 1121l3-2v8l-3 2zM859 1277l3-1v7l-3 1zM862 807l3-7v35l-3 5zM865 912l4-5v20l-4 5zM865 950l4-4v17l-4 3zM865 1118l4-3v8l-4 2zM865 1240l4-2v7l-4 2zM869 827l4-8v33l-4 6zM869 927l4-4v19l-4 4zM869 1115l4-2v8l-4 2zM869 1196l4-2v7l-4 2zM873 959l4-4v15l-4 4zM873 1072l4-3v9l-4 2zM873 1113l4-3v8l-4 3zM873 1180l4-3v8l-4 2zM877 1227l4-2v7l-4 2zM881 1123l3-2v8l-3 2zM884 832l3-6v31l-3 5zM884 909l3-4v21l-3 3zM884 1121l3-2v8l-3 2zM884 1209l3-1v7l-3 1zM887 1179l3-2v7l-3 2zM890 748l4 0v10l-4 16zM890 922l4-5v18l-4 5zM890 1093l4-3v8l-4 3zM890 1109l4-2v8l-4 2zM894 909l4-5v20l-4 5zM894 1003l4-4v11l-4 4zM894 1087l4-3v8l-4 3zM898 977l4-5v14l-4 4zM902 1051l4-4v9l-4 4zM902 1060l4-4v9l-4 4zM902 1178l4-2v7l-4 3zM902 1193l4-3v8l-4 2zM902 1251l4-3v7l-4 3zM906 988l5-5v12l-5 5zM911 886l5-8v22l-5 8zM911 1109l5-4v8l-5 4zM911 1170l5-4v8l-5 3zM911 1264l5-3v7l-5 3zM916 926l4-6v17l-4 6zM916 1170l4-3v7l-4 3zM920 905l4-6v19l-4 6zM920 1045l4-4v9l-4 4zM920 1054l4-4v9l-4 4zM920 1204l4-2v7l-4 3zM924 1089l3-3v9l-3 3zM927 1108l5-4v8l-5 4zM927 1124l5-4v7l-5 4zM927 1222l5-4v8l-5 3zM932 938l4-6v16l-4 6zM932 1249l4-3v8l-4 2zM940 882l3-6v23l-3 5zM947 920l4-7v18l-4 7zM951 1114l3-2v7l-3 3zM951 1162l3-2v8l-3 3zM951 1247l3-2v8l-3 2zM954 1030l4-4v10l-4 4zM954 1086l4-4v9l-4 4zM958 929l4-7v17l-4 6zM958 1015l4-5v11l-4 5zM958 1195l4-3v9l-4 3zM958 1211l4-3v8l-4 3zM958 1233l4-2v6l-4 3zM958 1253l4-3v8l-4 2zM962 999l3-4v12l-3 4zM962 1136l3-3v9l-3 2zM962 1168l3-3v7l-3 3zM965 765l4-14v42l-4 15zM965 1135l4-4v9l-4 4zM969 1041l4-5v12l-4 4zM969 1144l4-4v8l-4 4zM969 1212l4-4v7l-4 4zM977 992l4-6v11l-4 6zM977 1154l4-3v7l-4 4zM981 934l4-8v15l-4 7zM981 1076l4-4v8l-4 5zM981 1094l4-5v11l-4 4zM981 1201l4-3v5l-4 4zM981 1207l4-4v8l-4 3zM985 733h1v18h-1zM988 1070l3-3v8l-3 4zM988 1214l3-3v6l-3 2zM991 758l3-1v22l-3 14zM991 1182l3-3v9l-3 2zM994 1138l3-3v7l-3 3zM994 1226l3-3v6l-3 3zM997 1030l3-4v12l-3 3zM997 1112l3-3v6l-3 4zM1000 1099l3-3v6l-3 4zM1000 1194l3-3v6l-3 3zM1003 1003l4-6v14l-4 5zM1003 1091l4-5v10l-4 5zM1007 759l3 0v20l-3 15zM1007 839l3-10v37l-3 8zM1007 1045l3-4v10l-3 4zM1007 1083l3-3v11l-3 3zM1010 1083l4-4v8l-4 4zM1014 796l3-15v59l-3 9zM1014 939l3-6v18l-3 6zM1014 1128l3-3v9l-3 3zM1017 789l5-29v57l-5 18zM1017 1109l5-6v8l-5 6zM1017 1207l5-4v8l-5 5zM1026 753l3 0v0l-3 10zM1026 1138l3-4v10l-3 4zM1026 1172l3-3v9l-3 3zM1026 1194l3-3v6l-3 3zM1029 1089l3-4v8l-3 4zM1029 1169l3-3v7l-3 3zM1032 1179l4-4v9l-4 4zM1036 805l4-20v55l-4 13zM1036 1198l4-4v8l-4 4zM1043 899l3-8v23l-3 7zM1043 969l3-5v14l-3 6zM1046 1013l3-4v10l-3 5zM1049 1095l5-6v8l-5 6zM1049 1103l5-6v9l-5 7zM1049 1131l5-6v10l-5 6zM1054 1144l4-5v6l-4 5zM1054 1172l4-4v6l-4 5zM1058 793l3-18v53l-3 12zM1061 759l3-13v47l-3 15zM1061 954l3-6v14l-3 6zM1061 968l3-6v12l-3 6zM1061 1059l3-5v9l-3 4zM1061 1150l3-4v8l-3 4zM1066 736h1v10h-1zM1074 898l3-8v26l-3 7zM1077 907l4-11v13l-4 11zM1077 982l4-8v13l-4 8zM1081 966l3-6v13l-3 6zM1081 1124l3-4v6l-3 4zM1081 1130l3-4v6l-3 4zM1084 943l4-9v18l-4 9zM1084 1131l4-6v6l-4 6zM1084 1162l4-5v6l-4 5zM1088 771l5-23v20l-5 32zM1088 873l5-17v31l-5 15zM1088 969l5-11v17l-5 11zM1088 1040l5-8v12l-5 8zM1088 1052l5-8v12l-5 8zM1088 1064l5-8v11l-5 8zM1088 1144l5-6v9l-5 6zM1093 853l3-12v23l-3 10zM1093 874l3-10v22l-3 9zM1093 1048l3-6v9l-3 5zM1096 848l3-13v28l-3 10zM1096 917l3-8v19l-3 7zM1096 1017l3-6v11l-3 6zM1096 1105l3-4v9l-3 4zM1096 1134l3-4v10l-3 4zM1099 896l4-13v21l-4 11zM1099 1099l4-6v7l-4 6zM1103 1128l3-4v9l-3 4zM1106 1021l5-10v12l-5 9zM1111 1042l4-8v8l-4 7zM1115 940l3-7v11l-3 7zM1115 1053l3-5v10l-3 5zM1118 996l4-8v14l-4 8zM1118 1040l4-7v11l-4 7zM1118 1102l4-6v7l-4 6zM1118 1126l4-6v8l-4 6zM1122 989l4-9v10l-4 9zM1130 741l5 0v0l-5 22zM1130 802l5-36v43l-5 25zM1135 946l4-10v16l-4 10zM1139 917l4-12v18l-4 12zM1139 1015l4-8v9l-4 8zM1139 1100l4-7v10l-4 7zM1143 997l3-7v15l-3 7zM1143 1079l3-5v7l-3 6zM1143 1098l3-5v7l-3 5zM1152 739l4 0v0l-4 20zM1159 905l4-14v22l-4 12zM1159 1090l4-7v11l-4 6zM1163 843l3-14v25l-3 13zM1166 805l4-29v53l-4 19zM1166 902l4-14v22l-4 13zM1170 1058l3-5v11l-3 6zM1170 1080l3-5v10l-3 6zM1173 893l3-11v20l-3 10zM1173 1019l3-7v12l-3 6zM1173 1055l3-6v9l-3 6zM1180 1068l3-6v8l-3 6zM1183 871l3-13v24l-3 12zM1186 970l5-13v13l-5 13zM1186 1068l5-10v11l-5 9zM1195 830l4-24v43l-4 18zM1195 932l4-13v21l-4 12zM1199 902l3-11v24l-3 10zM1202 926l4-14v17l-4 13zM1211 941l3-10v15l-3 9zM1214 811l4-30v56l-4 20zM1214 956l4-13v13l-4 11zM1218 843l4-23v25l-4 19zM1218 907l4-15v25l-4 13zM1222 865l5-25v33l-5 21zM1227 815l4-29v37l-4 23zM1251 761l3-25v20l-3 31zM1262 722h1v10h-1zM1293 722h1v15h-1zM1301 725h1v10h-1z"/>
<path fill="#0065e1" d="M107 769l5 44v39l-5-30zM129 754l5 39v48l-5-31zM134 878l4 17v23l-4-15zM138 939l3 10v11l-3-10zM152 751l3 3v38l-3-28zM158 896l3 12v14l-3-10zM161 888l4 16v18l-4-14zM168 841l4 20v30l-4-16zM168 910l4 14v14l-4-13zM180 865l4 17v16l-4-16zM199 891l3 11v14l-3-10zM199 958l3 8v12l-3-8zM206 898l4 14v20l-4-13zM210 824l3 16v28l-3-13zM213 796l3 19v33l-3-15zM216 882l4 15v20l-4-13zM216 904l4 13v14l-4-13zM220 1073l3 6v8l-3-5zM223 1055l5 9v11l-5-9zM228 1017l3 6v11l-3-7zM228 1038l3 6v13l-3-5zM238 1041l3 6v12l-3-6zM241 862l3 11v29l-3-10zM241 1026l3 6v9l-3-6zM241 1090l3 5v8l-3-5zM244 882l5 17v20l-5-16zM249 870l3 11v18l-3-9zM249 947l3 7v19l-3-8zM249 1039l3 5v13l-3-6zM249 1108l3 5v9l-3-4zM249 1118l3 4v8l-3-5zM252 863l3 11v28l-3-10zM258 1027l4 8v10l-4-7zM262 1058l4 7v11l-4-7zM266 1027l5 9v12l-5-9zM266 1117l5 7v8l-5-8zM271 812l4 19v33l-4-15zM271 1140l4 5v9l-4-6zM275 1075l4 6v7l-4-6zM279 881l4 13v20l-4-11zM279 1029l4 8v8l-4-7zM283 884l3 10v23l-3-8zM283 1029l3 5v8l-3-5zM286 916l3 8v22l-3-8zM286 1024l3 6v10l-3-5zM286 1043l3 5v11l-3-5zM289 929l3 8v19l-3-7zM292 904l3 9v22l-3-7zM292 1145l3 4v5l-3-4zM298 900l4 11v15l-4-11zM306 1087l4 6v11l-4-6zM306 1136l4 5v7l-4-5zM310 995l5 9v14l-5-9zM319 1037l3 5v12l-3-4zM322 1120l5 6v7l-5-7zM327 897l4 10v23l-4-10zM327 920l4 10v20l-4-8zM327 1009l4 7v8l-4-7zM327 1119l4 5v9l-4-5zM327 1174l4 5v5l-4-5zM331 982l4 7v15l-4-7zM335 920l5 12v12l-5-10zM335 934l5 10v15l-5-11zM335 1138l5 6v10l-5-6zM340 1154l3 3v9l-3-3zM343 778l4 21v34l-4-16zM343 881l4 10v16l-4-10zM347 1123l4 5v8l-4-5zM347 1194l4 5v8l-4-4zM360 1112l3 4v8l-3-3zM363 784l3 15v54l-3-10zM366 790l5 22v37l-5-16zM366 1089l5 6v9l-5-6zM371 890l5 12v19l-5-10zM371 963l5 9v10l-5-8zM376 934l4 8v14l-4-7zM376 1077l4 5v12l-4-5zM376 1114l4 4v6l-4-4zM376 1163l4 4v7l-4-4zM376 1170l4 4v8l-4-4zM380 754l4 0v2l-4-2zM380 979l4 6v14l-4-7zM380 1187l4 4v6l-4-4zM384 1136l3 3v7l-3-3zM387 870l4 10v16l-4-9zM387 1000l4 6v11l-4-6zM387 1138l4 4v6l-4-4zM391 1036l4 5v13l-4-5zM391 1100l4 5v8l-4-4zM391 1118l4 4v8l-4-5zM395 1191l4 3v6l-4-4zM399 1072l5 6v10l-5-6zM399 1142l5 5v8l-5-4zM404 820l3 10v35l-3-8zM404 1135l3 3v7l-3-3zM407 1183l5 4v7l-5-5zM412 938l5 9v14l-5-8zM417 748l3 0v22l-3-18zM417 1057l3 3v9l-3-3zM420 1118l4 4v9l-4-4zM420 1220l4 3v6l-4-3zM424 1206l3 3v7l-3-2zM431 756l3 0v17l-3-16zM431 757l3 16v48l-3-10zM431 1085l3 3v10l-3-3zM431 1161l3 2v7l-3-3zM434 748l4 0v30l-4-20zM434 1123l4 4v7l-4-4zM434 1155l4 3v9l-4-3zM438 927l4 6v16l-4-6zM438 1150l4 4v7l-4-3zM442 1027l4 4v11l-4-4zM446 939l3 5v14l-3-4zM446 1099l3 2v9l-3-2zM446 1193l3 2v7l-3-2zM446 1243l3 2v7l-3-2zM449 1077l5 5v9l-5-5zM449 1206l5 4v7l-5-3zM454 1102l3 3v8l-3-3zM454 1204l3 2v7l-3-2zM454 1225l3 2v7l-3-2zM457 1020l5 5v10l-5-5zM462 1022l4 4v9l-4-4zM462 1203l4 2v7l-4-2zM462 1217l4 3v7l-4-3zM466 918l5 7v18l-5-7zM466 1095l5 4v8l-5-4zM466 1173l5 3v7l-5-3zM466 1238l5 4v6l-5-3zM466 1267l5 3v7l-5-3zM471 1152l4 3v7l-4-3zM475 968l5 6v13l-5-6zM475 1105l5 4v8l-5-4zM475 1160l5 3v7l-5-3zM475 1226l5 3v7l-5-3zM480 1064l3 3v9l-3-3zM480 1153l3 2v8l-3-2zM480 1219l3 2v7l-3-1zM483 940l5 6v16l-5-6zM483 1098l5 4v8l-5-4zM483 1138l5 3v8l-5-4zM488 754l5 0v42l-5-16zM488 1039l5 4v9l-5-4zM493 1206l3 2v7l-3-2zM500 758l3 0v23l-3-10zM500 985l3 3v13l-3-3zM500 1021l3 2v11l-3-3zM500 1041l3 2v9l-3-2zM500 1191l3 2v7l-3-2zM503 1171l4 2v8l-4-3zM503 1221l4 2v8l-4-3zM507 1073l4 2v9l-4-3zM507 1173l4 3v7l-4-2zM507 1202l4 2v7l-4-2zM507 1238l4 2v7l-4-2zM511 868l4 6v24l-4-5zM511 1139l4 3v7l-4-2zM511 1240l4 2v7l-4-2zM519 1089l3 2v8l-3-2zM526 751l3 0v12l-3-11zM526 1102l3 2v8l-3-2zM529 763l3 10v40l-3-6zM529 1054l3 2v8l-3-2zM529 1150l3 1v8l-3-2zM532 773l4 11v37l-4-8zM532 897l4 5v21l-4-4zM532 1243l4 1v7l-4-1zM532 1263l4 2v7l-4-2zM536 851l3 5v26l-3-4zM536 1123l3 2v8l-3-2zM539 757l3 0v41l-3-6zM539 856l3 4v26l-3-4zM539 945l3 2v17l-3-2zM539 1183l3 2v7l-3-2zM539 1259l3 2v7l-3-2zM542 831l3 5v28l-3-4zM545 1179l4 2v7l-4-2zM545 1214l4 2v6l-4-1zM549 748l3 0v35l-3-7zM549 1153l3 1v7l-3-1zM549 1174l3 1v7l-3-1zM549 1257l3 1v7l-3-2zM549 1291l3 1v6l-3-1zM552 956l3 2v17l-3-3zM552 1117l3 1v8l-3-2zM552 1182l3 2v7l-3-2zM552 1251l3 1v7l-3-1zM559 1213l3 1v7l-3-1zM559 1254l3 1v6l-3-1zM562 1144l4 2v7l-4-2zM562 1151l4 2v7l-4-2zM569 784l4 7v30l-4-6zM569 1154l4 2v7l-4-2zM569 1189l4 2v7l-4-2zM573 753l4 11v34l-4-7zM573 1292l4 1v7l-4-1zM577 852l4 4v23l-4-3zM581 942l4 3v17l-4-2zM581 960l4 2v17l-4-3zM581 1207l4 2v6l-4-1zM581 1294l4 1v7l-4-1zM581 1301l4 1v7l-4-1zM588 1047l4 2v10l-4-2zM588 1109l4 2v8l-4-2zM588 1189l4 2v6l-4-1zM588 1216l4 1v7l-4-1zM588 1283l4 1v7l-4-1zM592 1237l3 1v7l-3-1zM595 823l4 5v23l-4-4zM595 869l4 4v21l-4-3zM595 1171l4 1v7l-4-1zM595 1291l4 1v7l-4-1zM599 1051l4 2v11l-4-2zM599 1081l4 2v8l-4-1zM599 1090l4 1v8l-4-1zM599 1266l4 1v7l-4-1zM603 740l3 0v14l-3-7zM603 747l3 7v31l-3-4zM603 808l3 3v24l-3-3zM603 876l3 2v21l-3-2zM606 1174l5 1v7l-5-1zM611 1295l4 1v7l-4-1zM611 1302l4 1v6l-4-1zM615 864l4 2v21l-4-3zM615 1162l4 1v7l-4-1zM619 887l3 1v20l-3-2zM619 963l3 1v17l-3-1zM619 1163l3 1v7l-3-1zM619 1204l3 1v7l-3-1zM622 848l4 3v20l-4-3zM622 1135l4 1v8l-4-1zM626 1232l4 1v7l-4-1zM630 931l4 1v19l-4-1zM634 773l4 0v1l-4-1zM634 1052l4 1v11l-4-1zM638 1202l4 0v7l-4-1zM638 1280l4 1v6l-4 0zM642 778l3 3v21l-3-2zM642 1154l3 0v8l-3-1zM642 1161l3 1v7l-3-1zM642 1222l3 0v7l-3-1zM645 781l3 2v21l-3-2zM645 822l3 2v19l-3-1zM645 955l3 1v17l-3-1zM645 1003l3 1v14l-3-1zM645 1154l3 1v7l-3 0zM645 1182l3 1v7l-3-1zM645 1262l3 0v7l-3-1zM648 1043l4 1v12l-4-1zM648 1133l4 1v7l-4 0zM648 1249l4 0v7l-4-1zM652 901l4 2v18l-4-1zM652 1077l4 0v10l-4-1zM652 1183l4 1v7l-4-1zM652 1204l4 0v7l-4-1zM652 1230l4 0v7l-4-1zM656 789l4 2v19l-4-2zM656 828l4 1v19l-4-1zM656 847l4 1v19l-4-2zM656 1005l4 1v14l-4-1zM656 1112l4 1v7l-4 0zM656 1211l4 0v7l-4-1zM656 1217l4 1v6l-4 0zM660 848l3 1v19l-3-1zM660 1020l3 1v13l-3-1zM660 1157l3 0v7l-3 0zM660 1171l3 0v7l-3 0zM663 792l4 2v19l-4-1zM663 812l4 1v19l-4-2zM663 849l4 1v19l-4-1zM663 1164l4 0v7l-4 0zM667 749l4 0v47l-4-2zM667 1106l4 0v8l-4-1zM675 741l3 0v57l-3-1zM675 1179l3 0v7l-3 0zM675 1192l3 1v6l-3 0zM678 853l5 0v18l-5 0zM678 907l5 0v18l-5 0zM678 1165l5 0v7l-5 0zM683 871l3 1v18l-3-1zM683 1206l3 0v7l-3 0zM683 1226l3 0v6l-3 0zM683 1271l3 0v7l-3 0zM683 1278l3 0v6l-3 0zM686 1080l3 0v10l-3 0zM686 1278l3 0v6l-3 0zM686 1310l3 0v7l-3 0zM689 836l4 0v18l-4 0zM693 1060l4 0v10l-4 0zM697 1060l4 0v10l-4 0zM697 1226l4 0v6l-4 0zM701 1151l3 0v7l-3 1zM704 836l4-1v18l-4 1zM704 1158l4 0v7l-4 1zM704 1226l4 0v6l-4 0zM708 1144l5 0v7l-5 0zM708 1278l5 0v6l-5 0zM713 889l4-1v18l-4 1zM713 1265l4-1v7l-4 0zM717 888l5-1v19l-5 0zM717 1219l5-1v7l-5 0zM717 1264l5 0v7l-5 0zM722 814l3-1v18l-3 1zM722 851l3-1v18l-3 1zM722 1143l3 0v7l-3 0zM722 1264l3 0v6l-3 1zM725 813l3-1v18l-3 1zM725 1121l3 0v7l-3 0zM725 1238l3-1v7l-3 0zM736 1156l5-1v7l-5 1zM736 1250l5-1v7l-5 0zM741 1086l3-1v9l-3 1zM741 1210l3 0v6l-3 0zM744 1004l4-1v14l-4 1zM744 1076l4-1v10l-4 0zM744 1236l4-1v7l-4 0zM748 879l3-1v19l-3 1zM748 1065l3-1v10l-3 1zM748 1268l3-1v7l-3 0zM751 1195l4 0v6l-4 1zM751 1254l4 0v6l-4 1zM751 1287l4-1v7l-4 1zM755 837l5-4v21l-5 3zM755 1015l5-2v14l-5 1zM755 1273l5 0v6l-5 1zM760 854l4-3v20l-4 3zM760 874l4-3v20l-4 2zM760 1213l4 0v6l-4 1zM764 786l3-3v23l-3 3zM764 1252l3 0v6l-3 1zM767 828l4-3v21l-4 3zM767 849l4-3v21l-4 3zM767 1165l4-1v7l-4 1zM771 867l4-3v21l-4 2zM771 1059l4-1v10l-4 1zM771 1264l4-1v7l-4 1zM775 1141l5-1v7l-5 1zM775 1190l5-1v7l-5 1zM775 1270l5-1v6l-5 1zM775 1283l5-1v7l-5 1zM780 764l3-6v30l-3 4zM780 861l3-3v22l-3 2zM780 1076l3-1v9l-3 1zM780 1295l3-1v7l-3 1zM783 788l5-7v27l-5 5zM783 1109l5-2v8l-5 1zM792 970l3-1v16l-3 1zM792 1051l3-1v11l-3 1zM792 1062l3-1v10l-3 1zM792 1143l3-1v8l-3 1zM795 750l4 0v10l-4 9zM795 848l4-4v23l-4 3zM795 933l4-3v19l-4 2zM795 1039l4-2v12l-4 1zM795 1157l4-1v7l-4 1zM799 820l4-5v25l-4 4zM799 1191l4-2v7l-4 1zM803 885l3-2v22l-3 2zM803 996l3-2v14l-3 2zM803 1175l3-1v7l-3 1zM803 1290l3-1v6l-3 1zM806 925l3-2v20l-3 2zM806 1255l3 0v6l-3 1zM806 1262l3-1v7l-3 1zM812 877l5-4v22l-5 5zM812 1260l5-1v6l-5 2zM817 895l3-2v22l-3 2zM817 1127l3-2v8l-3 1zM820 818l4-6v28l-4 5zM820 935l4-3v18l-4 3zM820 1231l4-2v7l-4 2zM820 1285l4-2v7l-4 1zM824 1243l4-2v7l-4 2zM824 1270l4-1v6l-4 2zM824 1297l4-1v6l-4 2zM828 805l4-7v31l-4 6zM828 861l4-5v25l-4 4zM828 1099l4-2v7l-4 2zM832 1247l4-2v7l-4 2zM832 1294l4-1v7l-4 1zM836 790l5-12v36l-5 9zM836 1102l5-2v8l-5 2zM841 1146l4-2v7l-4 2zM841 1202l4-2v7l-4 2zM845 838l3-5v28l-3 4zM848 800l3-6v34l-3 5zM848 948l3-2v17l-3 2zM848 965l3-2v15l-3 3zM848 1247l3-1v7l-3 1zM851 794l4-10v37l-4 7zM851 828l4-7v30l-4 6zM851 857l4-6v27l-4 5zM851 883l4-5v24l-4 4zM851 1031l4-3v11l-4 2zM851 1170l4-2v7l-4 2zM851 1177l4-2v7l-4 2zM851 1198l4-2v7l-4 2zM851 1246l4-2v7l-4 2zM851 1253l4-2v7l-4 2zM855 1161l4-2v7l-4 2zM855 1168l4-2v7l-4 2zM855 1196l4-2v7l-4 2zM862 1071l3-2v8l-3 2zM865 1008l4-3v12l-4 3zM865 1110l4-3v8l-4 3zM869 858l4-6v27l-4 5zM869 1138l4-2v7l-4 3zM869 1224l4-2v7l-4 2zM873 1151l4-2v7l-4 2zM873 1208l4-2v7l-4 2zM873 1215l4-2v7l-4 2zM877 873l4-6v25l-4 5zM881 1281l3-1v7l-3 1zM884 887l3-4v22l-3 4zM884 1181l3-2v7l-3 2zM884 1245l3-2v7l-3 2zM887 883l3-5v23l-3 4zM887 1013l3-2v11l-3 2zM887 1079l3-2v8l-3 2zM887 1164l3-1v7l-3 2zM890 901l4-5v21l-4 5zM890 1140l4-2v7l-4 3zM890 1270l4-2v7l-4 2zM894 929l4-5v18l-4 4zM894 1237l4-2v7l-4 2zM898 795l4-13v42l-4 9zM898 863l4-8v26l-4 7zM898 990l4-4v12l-4 4zM898 1052l4-3v9l-4 3zM898 1070l4-4v9l-4 3zM902 1001l4-4v12l-4 3zM906 833l5-12v32l-5 10zM906 1133l5-4v8l-5 3zM906 1200l5-4v8l-5 3zM911 794l5-17v43l-5 12zM911 832l5-12v32l-5 10zM911 1132l5-4v8l-5 4zM911 1207l5-4v8l-5 3zM911 1214l5-3v7l-5 3zM916 832l4-10v32l-4 8zM916 862l4-8v25l-4 7zM916 1100l4-3v8l-4 3zM916 1271l4-2v7l-4 3zM920 1016l4-4v10l-4 4zM920 1026l4-4v10l-4 4zM920 1089l4-3v8l-4 4zM920 1145l4-3v7l-4 3zM924 923l3-4v17l-3 5zM924 1005l3-3v10l-3 4zM927 1026l5-5v10l-5 5zM927 1200l5-4v8l-5 3zM932 750l4 0v13l-4 18zM932 1161l4-3v8l-4 3zM932 1206l4-3v7l-4 3zM936 824l4-12v36l-4 9zM936 920l4-6v16l-4 6zM936 1128l4-3v8l-4 4zM936 1168l4-3v7l-4 3zM940 923l3-5v16l-3 4zM943 1121l4-3v7l-4 4zM947 1132l4-3v8l-4 4zM951 1021l3-3v11l-3 3zM951 1106l3-3v9l-3 2zM951 1145l3-2v8l-3 3zM951 1213l3-3v7l-3 2zM954 1183l4-3v8l-4 3zM954 1221l4-2v6l-4 3zM958 945l4-6v14l-4 6zM958 995l4-6v11l-4 5zM958 1175l4-3v7l-4 3zM958 1227l4-3v7l-4 2zM962 749l3 0v0l-3 9zM962 962l3-5v13l-3 4zM962 1034l3-3v11l-3 4zM962 1111l3-3v9l-3 3zM962 1128l3-3v8l-3 3zM962 1204l3-2v6l-3 3zM965 1174l4-3v8l-4 3zM965 1182l4-3v8l-4 3zM969 807l4-15v43l-4 12zM973 1140l4-4v10l-4 3zM977 755l4-13v33l-4 18zM977 924l4-7v15l-4 7zM977 1076l4-5v8l-4 4zM977 1130l4-3v6l-4 4zM977 1171l4-4v9l-4 3zM981 1114l4-4v9l-4 4zM985 794l3-13v39l-3 10zM985 1054l3-3v9l-3 3zM988 884l3-7v19l-3 6zM988 1061l3-4v10l-3 3zM991 1141l3-3v8l-3 3zM991 1149l3-3v9l-3 3zM991 1174l3-3v8l-3 3zM994 805l3-13v44l-3 9zM994 1113l3-3v10l-3 3zM997 1146l3-3v7l-3 3zM1000 1083l3-3v9l-3 3zM1000 1130l3-3v8l-3 3zM1000 1138l3-3v7l-3 3zM1003 982l4-6v11l-4 7zM1003 994l4-7v10l-4 6zM1003 1209l4-4v7l-4 4zM1007 923l3-6v20l-3 6zM1007 1033l3-4v12l-3 4zM1007 1214l3-3v7l-3 2zM1010 1044l4-5v8l-4 6zM1010 1185l4-4v8l-4 3zM1014 880l3-8v26l-3 7zM1014 974l3-5v13l-3 5zM1014 987l3-5v10l-3 5zM1014 1064l3-4v10l-3 4zM1014 1091l3-4v8l-3 4zM1014 1165l3-3v5l-3 3zM1017 887l5-13v19l-5 12zM1017 1066l5-6v10l-5 6zM1017 1117l5-6v6l-5 6zM1022 813l4-18v40l-4 13zM1022 1038l4-6v9l-4 5zM1026 854l3-10v26l-3 8zM1026 1033l3-4v12l-3 4zM1026 1155l3-3v8l-3 3zM1029 749l3-2v35l-3 15zM1029 797l3-15v38l-3 12zM1032 878l4-11v19l-4 10zM1032 946l4-8v15l-4 8zM1032 961l4-8v18l-4 7zM1036 895l4-10v19l-4 10zM1036 1153l4-5v9l-4 4zM1040 797l3-16v56l-3 11zM1040 1118l3-3v8l-3 3zM1043 1052l3-5v9l-3 4zM1043 1158l3-3v9l-3 3zM1046 898l3-8v23l-3 7zM1049 763l5-19v18l-5 31zM1049 955l5-10v14l-5 9zM1049 1151l5-6v7l-5 5zM1054 1086l4-6v11l-4 6zM1054 1128l4-5v7l-4 5zM1058 1134l3-4v10l-3 4zM1058 1144l3-4v8l-3 4zM1058 1160l3-3v7l-3 3zM1061 1167l3-3v9l-3 4zM1061 1193l3-3v5l-3 4zM1064 935l3-7v11l-3 7zM1064 1136l3-4v6l-3 4zM1067 948l3-7v18l-3 7zM1067 1131l3-4v10l-3 4zM1067 1184l3-4v8l-3 3zM1074 749l3-6v25l-3 20zM1074 1112l3-4v6l-3 4zM1074 1159l3-3v6l-3 4zM1077 1127l4-6v10l-4 5zM1077 1159l4-5v5l-4 5zM1077 1182l4-5v7l-4 5zM1084 961l4-9v17l-4 8zM1084 997l4-8v15l-4 8zM1088 1024l5-10v10l-5 9zM1093 929l3-7v17l-3 7zM1093 1075l3-4v7l-3 5zM1093 1142l3-4v8l-3 4zM1096 1114l3-4v10l-3 4zM1099 1144l4-6v6l-4 5zM1103 806l3-18v35l-3 13zM1103 913l3-8v19l-3 8zM1103 997l3-6v12l-3 5zM1111 1089l4-7v7l-4 6zM1111 1120l4-6v8l-4 5zM1118 988l4-9v9l-4 8zM1122 1109l4-6v7l-4 6zM1126 920l4-12v13l-4 12zM1135 934l4-12v14l-4 10zM1135 962l4-10v17l-4 10zM1135 1122l4-6v9l-4 6zM1135 1131l4-6v9l-4 6zM1139 1053l4-7v8l-4 7zM1143 904l3-10v20l-3 9zM1146 1078l3-5v8l-3 6zM1149 1095l3-5v8l-3 5zM1152 953l4-11v17l-4 10zM1163 762l3-26v46l-3 21zM1163 941l3-8v13l-3 8zM1166 997l4-9v10l-4 10zM1170 992l3-7v16l-3 7zM1173 912l3-10v22l-3 9zM1173 981l3-8v12l-3 7zM1176 1028l4-8v8l-4 8zM1183 962l3-8v17l-3 8zM1183 1059l3-6v7l-3 6zM1186 834l5-28v48l-5 21zM1186 933l5-16v22l-5 14zM1191 941l4-12v21l-4 11zM1202 1022l4-10v12l-4 9zM1206 736l5 0v0l-5 35zM1206 903l5-19v16l-5 18zM1206 918l5-18v18l-5 16zM1211 909l3-11v14l-3 11zM1211 1027l3-7v10l-3 7zM1218 950l4-12v20l-4 11zM1218 1013l4-10v14l-4 10zM1231 861l4-20v25l-4 18zM1231 941l4-13v15l-4 12zM1231 1007l4-10v9l-4 11zM1244 732l3 0v0l-3 36zM1247 871l4-20v28l-4 17zM1254 922l4-15v14l-4 14zM1258 873l4-20v33l-4 17zM1258 903l4-17v18l-4 15zM1266 934l3-11v13l-3 11z"/>
<path fill="#0076f1" d="M121 895l4 16v22l-4-15zM141 885l4 17v18l-4-15zM155 991l3 8v12l-3-7zM158 876l3 13v19l-3-12zM165 890l3 12v16l-3-11zM168 925l4 13v13l-4-13zM175 761l5 43v43l-5-28zM194 751l5 0v15l-5-15zM194 978l5 12v12l-5-12zM199 984l3 8v9l-3-7zM206 880l4 15v17l-4-14zM206 940l4 12v18l-4-10zM213 750l3 0v14l-3-14zM220 992l3 7v12l-3-7zM220 1004l3 7v13l-3-7zM220 1050l3 6v12l-3-6zM228 968l3 8v12l-3-7zM231 926l3 9v14l-3-8zM252 907l3 9v17l-3-9zM262 890l4 12v15l-4-12zM266 820l5 23v22l-5-19zM271 1129l4 6v10l-4-5zM275 976l4 9v15l-4-8zM275 1118l4 6v7l-4-6zM283 1109l3 4v8l-3-4zM286 902l3 8v14l-3-8zM286 989l3 6v9l-3-6zM286 1151l3 4v5l-3-3zM289 1017l3 6v12l-3-6zM292 851l3 11v24l-3-10zM292 928l3 7v14l-3-7zM292 1027l3 5v13l-3-5zM292 1082l3 4v11l-3-5zM295 925l3 7v15l-3-7zM295 968l3 7v13l-3-7zM295 1084l3 5v7l-3-4zM298 1054l4 7v7l-4-6zM302 918l4 10v17l-4-9zM306 756l4 0v3l-4-3zM310 1127l5 6v7l-5-6zM315 881l4 12v22l-4-10zM315 1069l4 6v7l-4-6zM315 1095l4 6v9l-4-6zM315 1166l4 5v6l-4-5zM319 948l3 6v17l-3-6zM335 897l5 13v22l-5-12zM335 1012l5 8v9l-5-8zM335 1093l5 7v11l-5-7zM335 1164l5 6v7l-5-5zM335 1194l5 6v8l-5-5zM340 891l3 8v14l-3-7zM340 927l3 6v15l-3-6zM340 1169l3 4v7l-3-3zM343 1169l4 4v7l-4-4zM347 912l4 9v22l-4-8zM347 976l4 8v13l-4-7zM347 1170l4 4v8l-4-5zM347 1189l4 4v6l-4-5zM351 854l4 12v23l-4-11zM351 897l4 10v20l-4-9zM351 979l4 7v16l-4-7zM351 1054l4 5v7l-4-5zM351 1163l4 4v6l-4-4zM355 930l5 10v11l-5-10zM355 1199l5 5v8l-5-5zM360 1086l3 4v8l-3-4zM360 1128l3 4v6l-3-3zM363 1187l3 3v6l-3-3zM371 1220l5 4v7l-5-5zM376 1149l4 4v8l-4-4zM376 1178l4 4v5l-4-4zM376 1210l4 3v9l-4-4zM380 1148l4 4v10l-4-5zM384 1030l3 4v13l-3-4zM384 1120l3 3v8l-3-3zM387 793l4 16v48l-4-12zM387 1079l4 4v9l-4-4zM387 1106l4 4v9l-4-5zM391 1188l4 4v5l-4-4zM395 782l4 18v50l-4-12zM395 1045l4 5v12l-4-5zM395 1183l4 4v7l-4-3zM399 1121l5 5v7l-5-5zM399 1205l5 4v8l-5-4zM404 1194l3 3v7l-3-3zM407 1115l5 5v7l-5-4zM407 1203l5 5v5l-5-4zM412 1194l5 4v8l-5-5zM417 1066l3 3v11l-3-4zM417 1165l3 2v6l-3-2zM417 1217l3 2v7l-3-2zM420 886l4 8v22l-4-7zM420 944l4 7v12l-4-6zM420 1183l4 3v8l-4-3zM420 1240l4 3v8l-4-3zM424 958l3 4v12l-3-4zM424 1100l3 3v9l-3-3zM431 916l3 5v17l-3-5zM434 803l4 13v36l-4-10zM434 1116l4 3v8l-4-4zM434 1208l4 3v6l-4-3zM438 1083l4 4v9l-4-4zM442 872l4 9v20l-4-7zM446 888l3 5v18l-3-5zM446 1222l3 2v6l-3-2zM449 974l5 6v11l-5-6zM454 748l3 0v34l-3-13zM457 934l5 7v15l-5-7zM462 1134l4 3v8l-4-3zM466 1135l5 4v7l-5-4zM466 1231l5 3v8l-5-4zM471 1121l4 3v8l-4-3zM480 1183l3 2v7l-3-2zM480 1227l3 1v8l-3-2zM483 1046l5 5v9l-5-5zM488 1057l5 4v9l-5-4zM493 749l3 0v43l-3-9zM493 783l3 9v39l-3-6zM493 1084l3 3v8l-3-2zM493 1170l3 2v7l-3-2zM496 759l4 0v12l-4-12zM500 998l3 3v12l-3-3zM500 1162l3 2v7l-3-2zM503 1271l4 2v7l-4-2zM507 1144l4 3v7l-4-2zM511 1132l4 2v8l-4-3zM511 1282l4 1v7l-4-1zM515 755l4 0v27l-4-13zM515 769l4 13v40l-4-9zM515 847l4 7v26l-4-6zM515 1023l4 3v11l-4-4zM519 1046l3 3v9l-3-3zM519 1097l3 2v8l-3-1zM519 1216l3 1v7l-3-1zM522 858l4 6v26l-4-6zM522 1005l4 3v12l-4-3zM522 1146l4 2v7l-4-2zM522 1153l4 2v8l-4-3zM522 1182l4 2v7l-4-2zM526 966l3 3v15l-3-3zM526 1110l3 2v7l-3-1zM526 1233l3 1v7l-3-1zM526 1261l3 1v7l-3-1zM529 751l3 0v22l-3-10zM529 1071l3 2v8l-3-2zM529 1164l3 2v7l-3-2zM529 1234l3 2v7l-3-2zM529 1255l3 1v7l-3-1zM529 1283l3 1v7l-3-1zM532 1081l4 3v8l-4-3zM532 1098l4 2v8l-4-2zM532 1129l4 2v8l-4-3zM532 1144l4 2v7l-4-2zM532 1187l4 2v7l-4-2zM536 752l3 0v40l-3-8zM536 1196l3 1v7l-3-1zM536 1272l3 1v7l-3-1zM539 882l3 4v22l-3-3zM539 926l3 3v18l-3-2zM542 798l3 7v31l-3-5zM542 886l3 3v23l-3-4zM542 1053l3 2v9l-3-2zM542 1062l3 2v9l-3-2zM542 1192l3 1v7l-3-1zM545 1248l4 2v7l-4-2zM549 1229l3 1v7l-3-1zM552 1093l3 2v7l-3-1zM552 1168l3 2v7l-3-2zM555 1155l4 2v7l-4-1zM555 1211l4 2v7l-4-2zM555 1272l4 2v7l-4-2zM559 1031l3 2v11l-3-1zM559 1135l3 2v7l-3-1zM559 1247l3 1v7l-3-1zM562 1064l4 3v9l-4-2zM566 1276l3 1v7l-3-1zM566 1296l3 1v7l-3-1zM569 1203l4 1v7l-4-1zM569 1264l4 1v7l-4-1zM573 1141l4 2v7l-4-1zM577 1017l4 2v13l-4-2zM577 1150l4 2v7l-4-2zM577 1240l4 1v7l-4-2zM581 1054l4 2v10l-4-2zM581 1254l4 1v7l-4-1zM581 1288l4 1v6l-4-1zM585 1275l3 1v7l-3-1zM588 786l4 7v27l-4-5zM592 820l3 3v24l-3-3zM592 1078l3 2v8l-3-1zM595 749l4 0v25l-4-7zM595 1050l4 1v11l-4-2zM595 1060l4 2v10l-4-2zM595 1232l4 1v6l-4-1zM603 1300l3 1v6l-3 0zM606 754l5 10v28l-5-7zM611 817l4 4v22l-4-4zM611 959l4 2v17l-4-2zM611 1236l4 1v6l-4-1zM611 1269l4 1v6l-4-1zM615 770l4 6v25l-4-4zM615 1095l4 1v8l-4-1zM615 1243l4 1v7l-4-1zM615 1263l4 1v6l-4 0zM619 801l3 3v23l-3-3zM619 1290l3 1v6l-3 0zM622 927l4 2v19l-4-2zM622 981l4 1v16l-4-2zM622 1105l4 1v8l-4-1zM622 1113l4 1v7l-4-1zM622 1178l4 1v7l-4-1zM622 1278l4 0v7l-4-1zM626 808l4 4v21l-4-3zM626 929l4 2v19l-4-2zM630 833l4 2v20l-4-2zM630 1173l4 1v7l-4-1zM630 1233l4 1v6l-4 0zM634 835l4 3v20l-4-3zM634 969l4 1v16l-4-1zM634 1194l4 1v7l-4-1zM634 1267l4 0v7l-4-1zM638 1074l4 1v9l-4 0zM638 1254l4 1v6l-4 0zM642 1307l3 0v7l-3-1zM648 824l4 2v19l-4-2zM648 843l4 2v19l-4-2zM648 1288l4 1v6l-4 0zM648 1301l4 1v6l-4 0zM652 806l4 2v20l-4-2zM652 938l4 1v19l-4-1zM652 957l4 1v17l-4-1zM652 1148l4 1v7l-4 0zM652 1170l4 0v7l-4 0zM656 921l4 1v18l-4-1zM656 1263l4 0v7l-4-1zM660 1191l3 0v7l-3 0zM660 1270l3 0v7l-3-1zM663 923l4 0v19l-4-1zM667 832l4 1v18l-4-1zM667 1088l4 1v9l-4-1zM671 1114l4 0v8l-4-1zM671 1192l4 0v7l-4 0zM675 834l3 0v19l-3-1zM675 870l3 1v18l-3-1zM678 755l5 0v44l-5-1zM678 943l5 1v17l-5 0zM678 1151l5 0v7l-5 0zM683 817l3 0v19l-3-1zM686 817l3 1v18l-3 0zM686 1059l3 1v10l-3 0zM686 1115l3 0v7l-3 0zM686 1239l3 0v6l-3 0zM689 890l4 0v18l-4 0zM689 1278l4 0v6l-4 0zM693 944l4 0v18l-4 0zM693 1213l4 0v6l-4 0zM693 1219l4 0v7l-4 0zM693 1304l4 0v6l-4 0zM701 890l3 0v18l-3 0zM701 1137l3 0v7l-3 0zM701 1159l3-1v8l-3 0zM701 1265l3 0v6l-3 0zM704 854l4-1v18l-4 1zM704 872l4-1v18l-4 1zM704 1122l4 0v7l-4 1zM704 1252l4 0v6l-4 0zM704 1310l4 0v7l-4 0zM708 753l5 0v45l-5 1zM708 1245l5 0v7l-5 0zM713 759l4 0v38l-4 1zM713 853l4-1v18l-4 1zM713 1158l4 0v7l-4 0zM713 1252l4-1v7l-4 0zM713 1284l4 0v6l-4 1zM717 1206l5-1v7l-5 0zM717 1212l5 0v6l-5 1zM722 795l3-1v19l-3 1zM722 1157l3 0v7l-3 1zM722 1238l3 0v6l-3 0zM722 1284l3-1v7l-3 0zM725 1205l3 0v6l-3 1zM725 1218l3 0v6l-3 1zM728 1088l4-1v9l-4 1zM728 1157l4-1v8l-4 0zM728 1303l4-1v7l-4 0zM732 848l4-2v19l-4 1zM732 1270l4-1v7l-4 0zM736 1177l5-1v7l-5 1zM736 1276l5-1v7l-5 0zM741 1295l3 0v6l-3 0zM744 803l4-3v21l-4 2zM744 1288l4-1v7l-4 1zM744 1295l4-1v7l-4 0zM748 821l3-2v20l-3 2zM751 839l4-2v20l-4 2zM751 1117l4-1v8l-4 0zM751 1146l4 0v7l-4 1zM751 1175l4-1v7l-4 1zM751 1208l4 0v6l-4 1zM755 773l5 0v17l-5 5zM755 795l5-5v22l-5 4zM760 790l4-4v23l-4 3zM760 833l4-2v20l-4 3zM764 1099l3-1v8l-3 0zM764 1122l3-1v7l-3 1zM764 1219l3 0v6l-3 1zM764 1239l3-1v7l-3 1zM771 887l4-2v20l-4 2zM771 1069l4-1v10l-4 1zM775 1134l5-2v8l-5 1zM780 1033l3-1v12l-3 1zM780 1125l3-1v7l-3 1zM780 1203l3-1v6l-3 1zM780 1256l3-1v6l-3 1zM783 758l5-3v26l-5 7zM783 837l5-5v22l-5 4zM783 1255l5-1v6l-5 1zM788 781l4-7v29l-4 5zM788 808l4-5v25l-4 4zM788 1280l4-1v7l-4 1zM792 1090l3-1v8l-3 1zM792 1129l3-1v7l-3 1zM792 1172l3-1v7l-3 1zM792 1193l3-1v6l-3 1zM792 1233l3-1v7l-3 0zM795 1258l4-1v7l-4 1zM799 760l4-9v35l-4 7zM799 1197l4-1v7l-4 1zM799 1284l4-1v7l-4 1zM803 1132l3-1v8l-3 1zM806 837l3-4v24l-3 3zM806 905l3-3v21l-3 2zM806 979l3-2v15l-3 2zM806 1076l3-2v9l-3 1zM809 902l3-2v21l-3 2zM809 961l3-2v16l-3 2zM812 1053l5-2v10l-5 2zM817 1088l3-2v8l-3 2zM817 1096l3-2v8l-3 2zM817 1142l3-2v8l-3 1zM817 1218l3-1v7l-3 1zM817 1252l3-1v7l-3 1zM820 1078l4-2v9l-4 1zM820 1183l4-1v7l-4 1zM828 1065l4-2v9l-4 2zM828 1296l4-2v7l-4 1zM832 1135l4-2v8l-4 2zM836 1078l5-3v9l-5 2zM836 1197l5-2v7l-5 2zM836 1252l5-2v7l-5 2zM841 778l4-11v40l-4 7zM841 870l4-5v25l-4 5zM845 1035l3-2v10l-3 2zM845 1242l3-1v6l-3 2zM851 1274l4-2v7l-4 1zM855 851l4-6v28l-4 5zM855 1075l4-2v8l-4 3zM855 1279l4-2v7l-4 2zM859 897l3-4v22l-3 4zM859 1000l3-2v13l-3 2zM859 1144l3-2v8l-3 1zM859 1173l3-2v7l-3 2zM862 1142l3-1v7l-3 2zM862 1178l3-1v7l-3 1zM862 1227l3-1v7l-3 1zM865 753l4 0v37l-4 10zM865 864l4-6v26l-4 6zM865 1125l4-2v8l-4 2zM865 1254l4-2v7l-4 2zM873 819l4-8v34l-4 7zM873 1046l4-3v9l-4 3zM873 1285l4-2v7l-4 2zM877 918l4-5v20l-4 4zM884 793l3-9v42l-3 6zM884 929l3-3v18l-3 3zM884 1064l3-2v8l-3 3zM884 1073l3-3v9l-3 2zM884 1089l3-2v8l-3 2zM887 749l3 0v25l-3 10zM887 1053l3-3v9l-3 3zM890 1068l4-3v8l-4 4zM890 1184l4-2v7l-4 3zM894 794l4-13v43l-4 8zM894 1135l4-3v8l-4 3zM894 1150l4-3v8l-4 2zM898 1034l4-4v9l-4 4zM906 1067l5-4v9l-5 4zM911 1075l5-4v9l-5 4zM911 1101l5-4v8l-5 4zM911 1140l5-4v8l-5 3zM911 1155l5-4v8l-5 4zM916 1029l4-4v10l-4 3zM916 1074l4-3v9l-4 3zM916 1184l4-2v7l-4 3zM920 941l4-6v16l-4 5zM920 1262l4-3v8l-4 2zM927 1251l5-3v7l-5 3zM932 1053l4-4v9l-4 4zM932 1079l4-3v9l-4 3zM932 1138l4-4v8l-4 4zM932 1153l4-3v8l-4 3zM932 1235l4-3v7l-4 3zM936 1221l4-3v7l-4 3zM940 1052l3-4v10l-3 3zM940 1061l3-3v8l-3 3zM943 964l4-6v14l-4 5zM943 1042l4-4v9l-4 5zM943 1240l4-3v7l-4 3zM947 1234l4-3v7l-4 2zM951 1097l3-2v8l-3 3zM954 815l4-14v38l-4 10zM962 1064l3-3v10l-3 3zM962 1120l3-3v8l-3 3zM962 1211l3-3v7l-3 2zM962 1252l3-2v7l-3 3zM965 1029l4-5v12l-4 5zM969 874l4-9v20l-4 8zM969 1089l4-4v8l-4 4zM969 1225l4-3v7l-4 3zM973 758l4 0v0l-4 11zM973 954l4-7v14l-4 7zM973 1026l4-5v12l-4 5zM973 1132l4-4v8l-4 4zM973 1173l4-4v8l-4 4zM973 1205l4-3v7l-4 4zM973 1246l4-3v8l-4 3zM977 888l4-9v23l-4 8zM977 1179l4-3v7l-4 3zM981 758l4-7v30l-4 17zM981 881l4-10v17l-4 9zM981 897l4-9v21l-4 8zM981 917l4-8v17l-4 8zM981 959l4-7v14l-4 6zM981 1057l4-4v9l-4 5zM981 1132l4-4v6l-4 4zM985 752l3-3v32l-3 13zM985 1126l3-3v10l-3 3zM988 1206l3-3v8l-3 3zM988 1238l3-3v6l-3 2zM994 871l3-8v28l-3 6zM994 999l3-5v11l-3 4zM997 925l3-6v17l-3 6zM1000 1062l3-4v11l-3 4zM1000 1151l3-3v6l-3 3zM1007 1225l3-2v5l-3 2zM1010 1227l4-3v7l-4 4zM1014 849l3-9v32l-3 8zM1014 1009l3-5v14l-3 5zM1017 923l5-10v21l-5 10zM1017 1059l5-6v7l-5 6zM1017 1155l5-5v10l-5 5zM1022 923l4-9v14l-4 8zM1022 1093l4-5v10l-4 5zM1022 1128l4-5v6l-4 5zM1026 900l3-7v24l-3 6zM1026 1045l3-4v13l-3 4zM1026 1066l3-4v12l-3 4zM1026 1131l3-4v7l-3 4zM1029 1025l3-4v9l-3 4zM1029 1201l3-3v6l-3 3zM1032 1051l4-5v9l-4 5zM1032 1106l4-5v6l-4 5zM1032 1137l4-5v6l-4 5zM1032 1158l4-4v6l-4 5zM1040 1075l3-4v12l-3 4zM1040 1135l3-4v7l-3 4zM1040 1208l3-3v6l-3 3zM1043 1175l3-4v6l-3 3zM1046 1047l3-5v9l-3 4zM1046 1091l3-4v11l-3 4zM1049 1157l5-5v9l-5 6zM1054 1008l4-6v14l-4 7zM1054 1122l4-5v6l-4 5zM1054 1158l4-5v8l-4 5zM1058 840l3-12v30l-3 10zM1061 1128l3-3v7l-3 4zM1064 830l3-12v30l-3 10zM1064 1148l3-4v9l-3 3zM1070 976l4-8v10l-4 8zM1070 1053l4-6v8l-4 7zM1074 1153l3-4v7l-3 3zM1077 825l4-19v47l-4 13zM1081 1057l3-5v8l-3 4zM1084 805l4-23v40l-4 17zM1084 930l4-10v14l-4 9zM1084 1082l4-7v10l-4 6zM1084 1105l4-6v10l-4 6zM1084 1121l4-5v9l-4 6zM1093 1066l3-5v10l-3 4zM1093 1132l3-4v10l-3 4zM1096 873l3-10v29l-3 9zM1099 947l4-10v16l-4 9zM1103 860l3-11v19l-3 10zM1103 1021l3-5v11l-3 5zM1103 1119l3-5v10l-3 4zM1103 1146l3-5v10l-3 4zM1106 1137l5-7v7l-5 7zM1111 889l4-14v18l-4 12zM1111 1033l4-8v9l-4 8zM1111 1071l4-7v12l-4 6zM1115 1125l3-4v8l-3 5zM1115 1143l3-5v8l-3 4zM1118 1080l4-7v8l-4 6zM1122 1095l4-7v8l-4 6zM1135 1049l4-8v10l-4 7zM1139 896l4-14v23l-4 12zM1139 1110l4-7v8l-4 6zM1149 887l3-11v26l-3 9zM1156 956l3-8v16l-3 8zM1156 1095l3-5v8l-3 6zM1159 1060l4-8v11l-4 7zM1163 1086l3-6v10l-3 5zM1166 923l4-13v23l-4 12zM1173 949l3-8v18l-3 8zM1173 1064l3-6v12l-3 6zM1180 875l3-12v31l-3 11zM1180 924l3-9v13l-3 9zM1195 867l4-18v28l-4 16zM1199 843l3-16v26l-3 13zM1202 988l4-11v11l-4 10zM1206 934l5-16v18l-5 15zM1214 942l4-13v14l-4 13zM1218 801l4-34v53l-4 23zM1222 1007l5-13v11l-5 12zM1231 922l4-15v21l-4 13zM1235 906l4-16v17l-4 15zM1247 969l4-12v12l-4 11zM1251 953l3-10v19l-3 9zM1262 900l4-17v16l-4 16zM1276 909l3-13v14l-3 12z"/>
<path fill="#0088ff" d="M101 851l3 16v18l-3-14zM112 856l4 20v28l-4-17zM125 751l4 19v35l-4-36zM125 843l4 21v20l-4-18zM129 902l5 19v20l-5-18zM138 924l3 10v15l-3-10zM158 986l3 8v9l-3-8zM161 931l4 13v11l-4-12zM165 836l3 15v35l-3-12zM175 1015l5 12v11l-5-11zM180 921l4 13v19l-4-12zM180 1031l4 9v13l-4-8zM184 810l5 29v40l-5-21zM184 942l5 15v10l-5-14zM184 965l5 14v13l-5-13zM189 1008l5 12v11l-5-11zM194 785l5 34v53l-5-22zM210 1035l3 6v13l-3-7zM213 1061l3 5v13l-3-6zM216 1057l4 8v8l-4-7zM220 823l3 15v25l-3-13zM223 798l5 29v28l-5-23zM244 1082l5 8v9l-5-9zM249 1019l3 6v9l-3-5zM252 814l3 16v44l-3-11zM262 1109l4 6v7l-4-6zM275 886l4 12v26l-4-12zM275 1007l4 8v14l-4-7zM279 981l4 9v10l-4-8zM279 1055l4 7v7l-4-7zM279 1108l4 6v9l-4-6zM286 1105l3 4v9l-3-4zM289 1061l3 5v9l-3-4zM292 1150l3 4v7l-3-3zM298 782l4 24v51l-4-15zM298 986l4 8v9l-4-8zM298 1032l4 7v13l-4-6zM310 748l5 10v26l-5-36zM310 1093l5 7v10l-5-7zM327 1102l4 6v6l-4-5zM331 997l4 7v13l-4-6zM331 1111l4 5v9l-4-5zM331 1154l4 4v6l-4-4zM335 880l5 13v17l-5-13zM335 1065l5 7v12l-5-7zM340 838l3 10v33l-3-9zM340 1069l3 4v9l-3-4zM343 863l4 12v16l-4-10zM343 1142l4 5v9l-4-5zM347 768l4 23v52l-4-14zM351 782l4 21v40l-4-14zM355 1127l5 5v7l-5-5zM360 1049l3 4v7l-3-4zM360 1068l3 4v10l-3-4zM360 1185l3 3v6l-3-3zM363 916l3 6v19l-3-6zM363 1214l3 3v5l-3-3zM366 1030l5 8v8l-5-7zM366 1145l5 5v8l-5-5zM371 1197l5 4v5l-5-4zM371 1202l5 4v6l-5-5zM376 887l4 9v15l-4-9zM380 992l4 7v15l-4-6zM380 1062l4 6v8l-4-5zM384 1043l3 4v13l-3-4zM384 1128l3 3v8l-3-3zM387 1042l4 5v10l-4-5zM387 1219l4 3v7l-4-4zM399 1026l5 7v11l-5-6zM404 857l3 8v26l-3-7zM404 907l3 6v18l-3-6zM412 876l5 12v23l-5-10zM417 1025l3 4v11l-3-4zM420 1019l4 5v10l-4-5zM420 1103l4 4v8l-4-4zM424 756l3 14v40l-3-10zM424 1084l3 4v7l-3-3zM424 1227l3 2v7l-3-2zM427 1185l4 3v7l-4-3zM431 875l3 6v19l-3-6zM431 1111l3 3v9l-3-3zM431 1153l3 3v7l-3-2zM434 1179l4 3v7l-4-3zM438 1109l4 4v9l-4-4zM446 759l3 15v40l-3-9zM446 923l3 5v16l-3-5zM446 1054l3 3v8l-3-3zM446 1236l3 2v7l-3-2zM449 914l5 8v17l-5-8zM454 1188l3 2v8l-3-2zM457 1259l5 3v7l-5-3zM462 1103l4 3v8l-4-3zM462 1127l4 3v7l-4-3zM462 1157l4 3v8l-4-3zM466 1180l5 3v8l-5-4zM475 981l5 6v12l-5-5zM475 1005l5 5v10l-5-5zM475 1089l5 4v8l-5-4zM475 1197l5 3v7l-5-3zM480 956l3 4v14l-3-3zM480 1098l3 3v8l-3-2zM480 1198l3 1v8l-3-2zM480 1234l3 2v7l-3-2zM480 1241l3 2v7l-3-2zM483 1018l5 5v9l-5-4zM488 1154l5 3v7l-5-3zM493 1101l3 2v8l-3-2zM493 1109l3 2v8l-3-2zM496 967l4 4v14l-4-4zM503 1052l4 3v9l-4-3zM503 1186l4 2v7l-4-2zM503 1193l4 2v7l-4-2zM507 745l4 8v51l-4-11zM507 1129l4 3v7l-4-2zM507 1209l4 2v7l-4-2zM507 1259l4 2v7l-4-2zM511 757l4 12v44l-4-9zM515 1206l4 3v7l-4-2zM519 1081l3 2v8l-3-2zM522 1058l4 2v9l-4-3zM522 1231l4 2v7l-4-2zM526 864l3 5v24l-3-3zM526 1008l3 3v12l-3-3zM529 869l3 4v24l-3-4zM529 1088l3 1v9l-3-2zM529 1096l3 2v8l-3-2zM529 1185l3 2v7l-3-2zM532 813l4 8v30l-4-6zM532 1173l4 2v7l-4-2zM532 1256l4 2v7l-4-2zM536 784l3 8v34l-3-5zM536 1084l3 2v8l-3-2zM536 1161l3 1v7l-3-1zM542 1134l3 2v7l-3-1zM542 1199l3 1v7l-3-1zM542 1219l3 2v7l-3-2zM545 1165l4 2v7l-4-2zM549 812l3 6v28l-3-4zM549 1130l3 2v7l-3-1zM549 1243l3 1v7l-3-1zM552 1109l3 1v8l-3-1zM555 876l4 5v23l-4-4zM555 1070l4 2v8l-4-2zM559 881l3 3v23l-3-3zM562 804l4 7v28l-4-6zM562 1129l4 2v7l-4-1zM562 1282l4 1v7l-4-2zM566 839l3 4v24l-3-3zM566 1036l3 1v11l-3-1zM569 867l4 5v22l-4-3zM569 933l4 3v19l-4-3zM573 955l4 2v17l-4-3zM577 1081l4 2v8l-4-2zM577 1165l4 1v7l-4-1zM577 1233l4 1v7l-4-1zM577 1246l4 2v6l-4-1zM577 1260l4 1v7l-4-2zM581 1122l4 2v7l-4-1zM581 1200l4 2v7l-4-2zM585 1108l3 1v8l-3-1zM585 1124l3 1v7l-3-1zM585 1181l3 1v7l-3-1zM588 757l4 0v3l-4-3zM588 1161l4 2v7l-4-2zM592 1012l3 1v13l-3-1zM592 1069l3 1v10l-3-2zM592 1087l3 1v9l-3-2zM595 912l4 3v20l-4-3zM595 1127l4 2v7l-4-1zM599 1143l4 2v7l-4-1zM599 1279l4 1v7l-4-1zM603 1180l3 1v7l-3-1zM603 1254l3 0v7l-3-1zM603 1274l3 0v7l-3-1zM606 1131l5 1v8l-5-2zM611 1256l4 0v7l-4-1zM615 797l4 4v23l-4-3zM615 1087l4 1v8l-4-1zM615 1126l4 1v8l-4-2zM615 1210l4 1v7l-4-1zM615 1296l4 1v6l-4 0zM619 866l3 2v20l-3-1zM619 1127l3 1v7l-3 0zM622 752l4 6v27l-4-5zM622 1048l4 2v11l-4-1zM622 1231l4 1v7l-4-1zM622 1284l4 1v6l-4 0zM630 1122l4 1v8l-4-1zM634 773l4 1v22l-4-3zM638 858l4 2v19l-4-2zM638 896l4 2v19l-4-2zM638 1041l4 1v12l-4-1zM642 820l3 2v20l-3-2zM642 840l3 2v19l-3-1zM648 804l4 2v20l-4-2zM648 1176l4 1v6l-4 0zM652 1256l4 0v7l-4-1zM656 939l4 1v18l-4 0zM656 1056l4 1v11l-4-1zM656 1156l4 1v7l-4-1zM660 829l3 1v19l-3-1zM660 1078l3 0v10l-3 0zM660 1237l3 0v7l-3 0zM663 868l4 1v18l-4-1zM663 1057l4 1v11l-4-1zM663 1143l4 0v7l-4 0zM667 1113l4 1v7l-4 0zM671 833l4 1v18l-4-1zM678 1035l5 1v12l-5 0zM678 1258l5 0v7l-5 0zM683 1129l3 1v7l-3 0zM683 1165l3 0v7l-3 0zM683 1239l3 0v6l-3 0zM683 1252l3 0v6l-3 0zM686 944l3 0v18l-3 0zM686 1186l3 0v7l-3 0zM686 1252l3 0v6l-3 0zM689 1193l4 0v7l-4 0zM693 872l4 0v18l-4 0zM693 1186l4 0v7l-4 0zM697 872l4 0v18l-4 0zM697 1219l4 0v7l-4 0zM701 1219l3 0v7l-3 0zM704 1245l4 0v7l-4 0zM704 1297l4 0v7l-4 0zM708 1200l5-1v7l-5 0zM713 1035l4 0v12l-4 1zM713 1107l4-1v8l-4 0zM717 815l5-1v18l-5 2zM717 852l5-1v18l-5 1zM717 977l5 0v16l-5 0zM717 1022l5-1v13l-5 1zM717 1122l5-1v8l-5 0zM717 1144l5-1v7l-5 1zM717 1192l5 0v7l-5 0zM722 960l3-1v17l-3 1zM722 1171l3 0v7l-3 0zM725 831l3-1v19l-3 1zM725 905l3-1v19l-3 0zM725 1185l3 0v6l-3 1zM725 1257l3 0v7l-3 0zM728 1057l4 0v11l-4 0zM728 1105l4 0v8l-4 0zM728 1270l4 0v6l-4 1zM728 1290l4-1v7l-4 0zM732 810l4-2v19l-4 2zM732 958l4-1v17l-4 1zM736 808l5-3v20l-5 2zM736 827l5-2v19l-5 2zM736 1217l5-1v7l-5 1zM736 1289l5-1v7l-5 0zM741 781l3 0v1l-3 3zM741 882l3-1v19l-3 1zM741 919l3-1v19l-3 1zM741 1183l3 0v7l-3 0zM741 1223l3 0v6l-3 1zM744 823l4-2v20l-4 2zM744 1183l4-1v7l-4 1zM748 898l3-1v19l-3 1zM751 878l4-2v19l-4 2zM751 1228l4 0v6l-4 1zM751 1261l4-1v7l-4 0zM751 1274l4-1v7l-4 1zM760 812l4-3v22l-4 2zM760 1123l4-1v7l-4 1zM760 1187l4-1v7l-4 1zM760 1220l4-1v7l-4 1zM764 851l3-2v21l-3 1zM764 1151l3-1v7l-3 1zM767 1157l4 0v7l-4 1zM767 1206l4-1v6l-4 1zM775 1148l5-1v7l-5 2zM780 1140l3-1v7l-3 1zM780 1147l3-1v7l-3 1zM780 1161l3-1v8l-3 0zM780 1175l3 0v6l-3 1zM780 1249l3-1v7l-3 1zM788 758l4 0v16l-4 7zM792 756l3 0v13l-3 5zM792 774l3-5v30l-3 4zM792 1213l3-1v7l-3 0zM792 1219l3 0v6l-3 1zM792 1253l3-1v6l-3 1zM795 1097l4-2v8l-4 2zM795 1120l4-1v7l-4 2zM795 1150l4-2v8l-4 1zM795 1232l4-1v6l-4 2zM799 793l4-7v29l-4 5zM799 1277l4-1v7l-4 1zM803 786l3-5v30l-3 4zM803 1023l3-2v13l-3 1zM803 1154l3-1v7l-3 1zM806 883l3-3v22l-3 3zM806 1093l3-2v8l-3 2zM809 1083l3-1v8l-3 1zM809 1214l3-1v7l-3 1zM812 829l5-6v26l-5 5zM817 1040l3-2v11l-3 2zM817 1134l3-1v7l-3 2zM820 1094l4-1v7l-4 2zM824 889l4-4v23l-4 3zM824 1085l4-2v8l-4 2zM824 1175l4-2v7l-4 2zM824 1250l4-2v7l-4 1zM828 1122l4-2v8l-4 1zM828 1275l4-1v7l-4 1zM832 881l4-5v24l-4 4zM832 1287l4-1v7l-4 1zM841 814l4-7v31l-4 6zM841 1167l4-1v7l-4 2zM841 1291l4-1v6l-4 2zM845 913l3-4v21l-3 3zM845 1081l3-1v8l-3 2zM845 1098l3-2v8l-3 2zM848 1241l3-2v7l-3 1zM851 927l4-4v19l-4 4zM851 1133l4-2v8l-4 2zM851 1225l4-1v7l-4 1zM855 878l4-5v24l-4 5zM855 1131l4-2v7l-4 3zM855 1210l4-2v7l-4 2zM859 1159l3-2v7l-3 2zM859 1180l3-2v7l-3 2zM859 1284l3-1v7l-3 1zM862 1171l3-1v7l-3 1zM862 1255l3-1v7l-3 1zM865 835l4-8v31l-4 6zM873 1136l4-2v7l-4 2zM877 1069l4-3v9l-4 3zM877 1102l4-2v8l-4 2zM877 1177l4-2v7l-4 3zM877 1213l4-2v7l-4 2zM881 1168l3-2v7l-3 2zM881 1267l3-1v7l-3 1zM884 752l3 0v32l-3 9zM884 1081l3-2v8l-3 2zM887 826l3-7v32l-3 6zM887 1278l3-1v7l-3 1zM890 940l4-5v17l-4 5zM894 1104l4-3v8l-4 3zM894 1127l4-2v7l-4 3zM898 888l4-7v23l-4 5zM902 752l4 0v29l-4 13zM906 1125l5-4v8l-5 4zM916 754l4 0v24l-4 14zM916 886l4-7v22l-4 6zM916 1083l4-3v8l-4 3zM916 1214l4-2v7l-4 2zM920 1247l4-2v7l-4 3zM924 905l3-5v19l-3 4zM924 1205l3-2v7l-3 2zM927 1177l5-3v7l-5 4zM932 1227l4-2v7l-4 3zM936 881l4-8v21l-4 8zM936 902l4-8v20l-4 6zM936 951l4-5v13l-4 5zM936 1257l4-2v7l-4 3zM940 1023l3-4v10l-3 3zM940 1042l3-3v9l-3 4zM940 1218l3-2v7l-3 2zM943 773l4-21v55l-4 13zM943 936l4-6v15l-4 6zM943 990l4-5v11l-4 5zM943 1079l4-3v8l-4 4zM943 1105l4-4v9l-4 3zM943 1175l4-3v7l-4 3zM943 1261l4-2v7l-4 2zM947 880l4-9v21l-4 7zM947 1108l4-4v8l-4 4zM951 845l3-7v29l-3 6zM954 750l4 0v0l-4 22zM954 1077l4-4v9l-4 4zM954 1121l4-3v7l-4 4zM954 1167l4-4v9l-4 3zM962 808l3-10v36l-3 8zM962 988l3-5v12l-3 4zM962 1093l3-3v9l-3 3zM965 751l4 0v0l-4 14zM965 808l4-15v49l-4 10zM965 933l4-7v13l-4 7zM965 1190l4-3v6l-4 3zM969 847l4-12v30l-4 9zM973 769l4-11v43l-4 15zM977 981l4-6v11l-4 6zM977 1067l4-4v8l-4 5zM977 1208l4-3v6l-4 3zM981 832l4-13v30l-4 10zM981 859l4-10v22l-4 10zM981 1151l4-4v8l-4 4zM985 1072l3-4v8l-3 3zM985 1151l3-3v8l-3 3zM985 1197l3-3v7l-3 2zM991 757l3 0v0l-3 1zM994 1053l3-4v11l-3 4zM997 1011l3-4v9l-3 4zM997 1160l3-3v8l-3 3zM1000 915l3-6v18l-3 6zM1000 933l3-6v16l-3 5zM1000 1123l3-3v7l-3 3zM1003 836l4-13v34l-4 11zM1003 894l4-9v21l-4 9zM1007 1007l3-5v13l-3 4zM1007 1148l3-3v10l-3 3zM1010 1053l4-6v13l-4 5zM1010 1121l4-5v7l-4 5zM1010 1198l4-4v6l-4 3zM1014 1052l3-5v13l-3 4zM1017 905l5-12v20l-5 10zM1017 1048l5-7v12l-5 6zM1022 1142l4-4v7l-4 5zM1022 1203l4-4v7l-4 4zM1029 1034l3-4v9l-3 4zM1036 994l4-7v9l-4 7zM1036 1191l4-4v7l-4 4zM1040 1013l3-5v10l-3 4zM1043 794l3-17v57l-3 11zM1043 937l3-6v20l-3 6zM1046 757l3-8v19l-3 18zM1046 872l3-9v27l-3 8zM1046 1140l3-4v9l-3 4zM1046 1156l3-4v9l-3 4zM1049 1039l5-8v9l-5 7zM1054 944l4-9v20l-4 8zM1054 1023l4-7v14l-4 6zM1054 1150l4-5v8l-4 5zM1058 1189l3-3v9l-3 3zM1061 1049l3-5v10l-3 5zM1061 1078l3-5v11l-3 4zM1064 1090l3-4v9l-3 4zM1064 1099l3-4v10l-3 4zM1070 904l4-11v14l-4 10zM1070 1013l4-7v12l-4 7zM1070 1144l4-5v9l-4 5zM1074 875l3-10v25l-3 8zM1074 1127l3-4v10l-3 4zM1074 1174l3-4v9l-3 3zM1077 1036l4-7v13l-4 6zM1077 1117l4-6v10l-4 6zM1081 889l3-9v24l-3 8zM1081 931l3-8v18l-3 7zM1084 987l4-8v10l-4 8zM1088 1075l5-8v7l-5 8zM1088 1100l5-7v8l-5 7zM1093 806l3-17v52l-3 12zM1096 901l3-9v17l-3 8zM1103 1077l3-5v8l-3 5zM1111 925l4-11v19l-4 10zM1111 1021l4-7v11l-4 8zM1115 895l3-10v27l-3 9zM1115 989l3-6v13l-3 6zM1115 1082l3-4v6l-3 5zM1122 874l4-15v20l-4 13zM1122 925l4-11v13l-4 11zM1122 1102l4-6v7l-4 6zM1126 1067l4-7v8l-4 7zM1126 1097l4-7v11l-4 6zM1126 1126l4-6v10l-4 6zM1135 1006l4-8v15l-4 8zM1135 1086l4-6v7l-4 7zM1146 929l3-9v14l-3 8zM1152 882l4-15v30l-4 13zM1159 1100l4-6v10l-4 7zM1163 1043l3-6v14l-3 6zM1166 874l4-16v30l-4 14zM1170 786l3-26v53l-3 16zM1176 846l4-21v39l-4 16zM1183 1026l3-6v14l-3 6zM1191 1032l4-9v9l-4 8zM1191 1040l4-8v10l-4 9zM1195 1009l4-9v10l-4 9zM1218 930l4-13v21l-4 12zM1218 1005l4-10v8l-4 10zM1222 841l5-30v29l-5 25zM1227 991l4-11v9l-4 11zM1251 872l3-15v26l-3 13zM1272 740l4 0v0l-4 33zM1272 865l4-21v29l-4 18zM1279 806l4-37v45l-4 26z"/>
<path fill="#109bff" d="M116 864l5 23v26l-5-21zM134 749l4 1v15l-4-16zM134 946l4 13v16l-4-12zM155 907l3 11v17l-3-10zM161 859l4 18v27l-4-16zM180 901l4 14v19l-4-13zM184 993l5 13v12l-5-12zM194 1002l5 12v14l-5-12zM199 869l3 12v21l-3-11zM202 900l4 13v17l-4-12zM202 936l4 11v15l-4-11zM210 904l3 10v18l-3-9zM210 923l3 9v18l-3-9zM210 1047l3 7v9l-3-6zM213 872l3 12v22l-3-10zM213 1003l3 7v13l-3-6zM234 794l4 24v47l-4-16zM249 987l3 7v13l-3-6zM255 1048l3 6v7l-3-5zM271 1075l4 6v8l-4-7zM275 926l4 10v15l-4-10zM286 978l3 7v10l-3-6zM289 1096l3 5v11l-3-4zM292 748l3 11v48l-3-17zM292 876l3 10v27l-3-9zM292 1015l3 6v11l-3-5zM298 1077l4 6v9l-4-6zM298 1165l4 5v8l-4-4zM302 1113l4 5v10l-4-5zM310 899l5 13v23l-5-12zM310 923l5 12v21l-5-11zM315 815l4 18v30l-4-14zM322 1092l5 7v11l-5-7zM322 1103l5 7v7l-5-7zM327 1179l4 5v7l-4-4zM331 1100l4 5v11l-4-5zM340 1124l3 3v7l-3-4zM347 1131l4 5v9l-4-5zM351 918l4 9v14l-4-9zM351 1044l4 6v9l-4-5zM351 1169l4 4v8l-4-4zM351 1207l4 4v5l-4-4zM355 862l5 14v28l-5-13zM355 1011l5 7v14l-5-8zM355 1073l5 7v9l-5-6zM355 1178l5 6v5l-5-5zM360 912l3 7v12l-3-6zM360 1143l3 4v10l-3-4zM371 861l5 13v28l-5-12zM371 1115l5 6v6l-5-6zM376 1157l4 4v6l-4-4zM380 1037l4 5v14l-4-6zM380 1132l4 5v9l-4-5zM387 887l4 9v19l-4-8zM387 987l4 6v13l-4-6zM391 1205l4 4v5l-4-3zM395 884l4 9v16l-4-9zM399 879l5 11v19l-5-11zM399 948l5 9v13l-5-8zM407 818l5 16v29l-5-13zM407 1016l5 7v8l-5-6zM417 1157l3 3v7l-3-2zM417 1236l3 2v8l-3-3zM424 756l3 0v14l-3-14zM424 1173l3 2v8l-3-3zM427 1054l4 5v8l-4-4zM427 1123l4 4v7l-4-4zM427 1230l4 3v7l-4-3zM431 851l3 8v22l-3-6zM431 1190l3 2v7l-3-2zM431 1248l3 2v7l-3-2zM434 1050l4 4v11l-4-4zM434 1242l4 2v8l-4-3zM438 1231l4 3v7l-4-3zM442 1005l4 5v10l-4-4zM442 1140l4 4v7l-4-3zM446 1214l3 2v8l-3-2zM446 1228l3 2v8l-3-2zM462 1050l4 4v10l-4-4zM462 1195l4 3v7l-4-2zM466 1245l5 3v7l-5-3zM475 921l5 7v17l-5-7zM475 1129l5 4v8l-5-4zM480 1212l3 2v7l-3-2zM488 923l5 6v18l-5-6zM488 1091l5 4v8l-5-4zM488 1161l5 3v8l-5-3zM493 904l3 5v19l-3-4zM493 1270l3 2v7l-3-2zM496 1006l4 4v11l-4-4zM496 1232l4 2v7l-4-2zM496 1267l4 2v7l-4-2zM500 771l3 10v42l-3-6zM500 1262l3 2v7l-3-2zM511 804l4 9v34l-4-7zM511 1233l4 2v7l-4-2zM515 813l4 9v32l-4-7zM515 1134l4 3v7l-4-2zM515 1142l4 2v7l-4-2zM519 822l3 5v31l-3-4zM519 880l3 4v23l-3-4zM519 1055l3 3v8l-3-2zM519 1073l3 2v8l-3-2zM519 1251l3 1v7l-3-1zM522 827l4 8v29l-4-6zM526 912l3 3v20l-3-3zM526 1219l3 1v7l-3-1zM526 1281l3 2v7l-3-2zM532 938l4 4v17l-4-3zM532 1046l4 3v9l-4-2zM532 1236l4 2v6l-4-1zM536 1016l3 2v12l-3-2zM536 1039l3 2v10l-3-2zM536 1175l3 1v7l-3-1zM536 1286l3 1v7l-3-2zM539 1239l3 1v7l-3-1zM539 1273l3 1v7l-3-1zM539 1287l3 1v7l-3-1zM545 982l4 3v15l-4-3zM545 1055l4 2v9l-4-2zM545 1207l4 2v7l-4-2zM549 935l3 3v18l-3-2zM552 1059l3 2v9l-3-2zM552 1101l3 1v8l-3-1zM552 1161l3 2v7l-3-2zM555 1177l4 1v7l-4-1zM559 1267l3 1v7l-3-1zM559 1294l3 1v7l-3-1zM562 1137l4 1v8l-4-2zM562 1228l4 1v7l-4-2zM562 1241l4 2v6l-4-1zM562 1275l4 1v7l-4-1zM566 1229l3 1v7l-3-1zM569 843l4 4v25l-4-5zM569 1132l4 2v7l-4-1zM573 821l4 6v25l-4-5zM573 872l4 4v22l-4-4zM573 1079l4 2v8l-4-2zM573 1211l4 2v6l-4-1zM581 832l4 5v23l-4-4zM585 781l3 5v29l-3-4zM588 840l4 4v23l-4-4zM592 793l3 4v26l-3-3zM592 867l3 2v22l-3-2zM592 1244l3 1v7l-3-1zM592 1297l3 1v7l-3-1zM595 1097l4 1v8l-4-2zM599 935l4 2v18l-4-2zM599 1040l4 2v11l-4-2zM599 1199l4 1v7l-4-1zM603 1152l3 1v7l-3-1zM606 899l5 3v20l-5-3zM606 1138l5 2v7l-5-1zM611 861l4 3v20l-4-2zM611 1132l4 1v8l-4-1zM615 1057l4 2v10l-4-1zM615 1103l4 1v8l-4-1zM619 1023l3 1v13l-3-1zM619 1211l3 1v6l-3 0zM619 1237l3 1v7l-3-1zM619 1264l3 0v7l-3-1zM619 1277l3 1v6l-3 0zM622 827l4 3v21l-4-3zM622 1089l4 1v8l-4-1zM622 1164l4 1v7l-4-1zM626 910l4 2v19l-4-2zM626 1098l4 1v8l-4-1zM630 812l4 3v20l-4-2zM630 912l4 2v18l-4-1zM634 855l4 3v19l-4-2zM634 932l4 2v19l-4-2zM638 1146l4 1v7l-4-1zM638 1181l4 1v7l-4-1zM642 1268l3 0v7l-3-1zM645 861l3 1v19l-3-1zM645 1065l3 1v10l-3-1zM645 1169l3 0v7l-3 0zM648 862l4 2v19l-4-2zM648 1111l4 1v7l-4-1zM648 1210l4 0v7l-4-1zM652 864l4 1v19l-4-1zM652 883l4 1v19l-4-2zM652 1126l4 1v7l-4 0zM652 1308l4 1v6l-4 0zM656 1096l4 0v9l-4-1zM656 1184l4 0v7l-4 0zM656 1230l4 1v6l-4 0zM660 810l3 2v18l-3-1zM663 959l4 1v17l-4-1zM667 923l4 1v18l-4 0zM667 1309l4 1v6l-4 0zM671 814l4 1v19l-4-1zM671 1035l4 0v12l-4 0zM671 1271l4 0v6l-4 0zM678 871l5 0v18l-5 0zM678 1252l5 0v6l-5 0zM683 853l3 1v18l-3-1zM683 1186l3 0v7l-3 0zM686 854l3 0v18l-3 0zM686 1036l3 0v12l-3 0zM689 818l4 0v18l-4 0zM689 1070l4 0v10l-4 0zM693 753l4 0v47l-4 0zM697 854l4 0v18l-4 0zM697 1080l4 0v10l-4 0zM697 1291l4 0v6l-4 0zM701 750l3 0v49l-3 1zM701 1278l3 0v6l-3 0zM701 1291l3 0v6l-3 0zM704 799l4 0v18l-4 1zM704 1219l4 0v7l-4 0zM708 1023l5-1v13l-5 1zM713 834l4 0v18l-4 1zM713 871l4-1v18l-4 1zM713 925l4 0v18l-4 0zM713 1048l4-1v12l-4 0zM713 1278l4-1v7l-4 0zM717 834l5-2v19l-5 1zM717 1080l5-1v10l-5 0zM717 1277l5 0v7l-5 0zM722 906l3-1v18l-3 1zM725 923l3 0v18l-3 0zM725 1079l3-1v10l-3 0zM728 792l4-2v20l-4 2zM728 1121l4-1v7l-4 1zM732 829l4-2v19l-4 2zM736 921l5-2v19l-5 1zM736 1269l5 0v6l-5 1zM736 1302l5-1v7l-5 0zM741 825l3-2v20l-3 1zM741 863l3-1v19l-3 1zM741 938l3-1v18l-3 1zM748 1042l3 0v11l-3 1zM748 1140l3-1v7l-3 1zM751 819l4-3v21l-4 2zM751 1042l4-1v11l-4 1zM751 1053l4-1v11l-4 1zM755 857l5-3v20l-5 2zM755 1167l5-1v7l-5 1zM760 931l4-1v19l-4 1zM760 1227l4-1v6l-4 1zM764 891l3-2v20l-3 1zM764 1158l3-1v8l-3 0zM767 806l4-4v23l-4 3zM767 870l4-3v20l-4 2zM767 1060l4-1v10l-4 1zM767 1143l4-1v7l-4 1zM767 1258l4-1v7l-4 1zM767 1285l4-1v6l-4 1zM771 1036l4-1v12l-4 1zM775 905l5-3v20l-5 2zM775 1224l5-2v7l-5 1zM780 1110l3-1v7l-3 1zM780 1209l3-1v7l-3 1zM780 1236l3-1v7l-3 0zM783 813l5-5v24l-5 5zM783 1235l5-1v6l-5 2zM788 1274l4-1v6l-4 1zM792 1028l3-1v12l-3 1zM792 1040l3-1v11l-3 1zM795 870l4-3v22l-4 3zM795 1105l4-2v8l-4 1zM795 1292l4-1v6l-4 1zM799 1049l4-2v10l-4 2zM799 1217l4-1v7l-4 1zM803 840l3-3v23l-3 3zM803 1047l3-2v11l-3 1zM803 1077l3-1v8l-3 2zM803 1189l3-1v7l-3 1zM803 1263l3-1v7l-3 1zM806 1222l3-1v7l-3 1zM806 1282l3-1v7l-3 1zM809 1065l3-2v10l-3 1zM809 1301l3-1v7l-3 1zM812 1144l5-2v7l-5 2zM812 1193l5-2v7l-5 2zM817 849l3-4v24l-3 4zM817 873l3-4v24l-3 2zM817 1272l3-1v7l-3 1zM820 893l4-4v22l-4 4zM820 915l4-4v21l-4 3zM820 1251l4-1v6l-4 2zM820 1298l4-1v7l-4 1zM824 840l4-5v26l-4 4zM824 950l4-3v17l-4 3zM824 1263l4-1v7l-4 1zM828 1114l4-2v8l-4 2zM828 1152l4-2v7l-4 2zM832 829l4-6v28l-4 5zM832 1267l4-1v6l-4 2zM841 1048l4-3v10l-4 3zM848 1157l3-2v8l-3 1zM855 821l4-8v32l-4 6zM855 1153l4-2v8l-4 2zM855 1175l4-2v7l-4 2zM855 1203l4-2v7l-4 2zM859 919l3-4v20l-3 3zM859 1013l3-2v12l-3 2zM859 1263l3-1v7l-3 1zM862 893l3-3v22l-3 3zM865 800l4-10v37l-4 8zM869 1189l4-2v7l-4 2zM869 1210l4-2v7l-4 2zM873 1250l4-2v7l-4 2zM877 1141l4-2v7l-4 3zM877 1163l4-2v7l-4 2zM881 1197l3-2v7l-3 2zM881 1232l3-1v7l-3 1zM884 1188l3-2v7l-3 2zM884 1223l3-1v7l-3 2zM887 1111l3-2v8l-3 2zM887 1157l3-2v8l-3 1zM890 878l4-6v24l-4 5zM890 1220l4-2v7l-4 2zM894 862l4-7v26l-4 6zM894 1279l4-2v7l-4 2zM898 909l4-5v20l-4 5zM902 1141l4-2v7l-4 3zM902 1156l4-2v7l-4 3zM902 1171l4-3v8l-4 2zM911 1147l5-3v7l-5 4zM916 792l4-14v44l-4 10zM920 859l4-8v26l-4 8zM920 924l4-6v17l-4 6zM920 1240l4-2v7l-4 2zM924 1122l3-2v8l-3 2zM927 1116l5-4v8l-5 4zM927 1162l5-4v8l-5 3zM932 1114l4-4v8l-4 4zM932 1213l4-3v7l-4 3zM932 1256l4-2v7l-4 3zM940 904l3-5v19l-3 5zM943 878l4-8v24l-4 7zM943 919l4-6v17l-4 6zM943 1189l4-3v7l-4 3zM943 1204l4-3v8l-4 3zM947 776l4-16v43l-4 13zM947 938l4-7v15l-4 6zM947 1149l4-4v8l-4 4zM954 772l4-22v51l-4 14zM954 879l4-8v19l-4 8zM954 898l4-8v17l-4 7zM954 1050l4-5v10l-4 4zM954 1113l4-4v9l-4 3zM954 1243l4-2v6l-4 3zM958 1106l4-4v8l-4 4zM958 1219l4-3v8l-4 3zM965 897l4-8v22l-4 8zM969 893l4-8v18l-4 7zM969 1052l4-4v10l-4 5zM969 1097l4-4v8l-4 4zM973 816l4-15v39l-4 11zM973 903l4-8v21l-4 7zM973 1001l4-6v13l-4 5zM977 910l4-8v15l-4 7zM977 1162l4-4v9l-4 4zM981 1123l4-4v9l-4 4zM981 1229l4-3v6l-4 3zM985 895l3-7v19l-3 6zM985 1116l3-3v10l-3 3zM988 757l3-2v37l-3 12zM991 931l3-6v20l-3 5zM991 1198l3-3v7l-3 3zM994 761l3-6v37l-3 13zM997 883l3-8v24l-3 7zM1007 1075l3-4v9l-3 3zM1007 1109l3-3v8l-3 4zM1007 1179l3-3v6l-3 3zM1010 920l4-8v22l-4 7zM1010 1160l4-4v9l-4 4zM1014 1175l3-3v7l-3 3zM1022 886l4-10v18l-4 9zM1022 1058l4-5v10l-4 5zM1026 1078l3-4v8l-3 4zM1029 1011l3-4v14l-3 4zM1032 1081l4-5v9l-4 5zM1040 752l3-1v30l-3 16zM1043 1060l3-4v10l-3 5zM1043 1202l3-3v5l-3 3zM1046 843l3-11v31l-3 9zM1049 1174l5-5v6l-5 5zM1054 837l4-15v40l-4 13zM1054 875l4-13v30l-4 11zM1054 963l4-8v11l-4 8zM1058 868l3-10v24l-3 8zM1064 1120l3-4v7l-3 4zM1067 1149l3-4v10l-3 4zM1067 1167l3-3v9l-3 3zM1070 949l4-9v17l-4 8zM1074 943l3-7v14l-3 7zM1077 886l4-12v22l-4 11zM1084 1035l4-7v10l-4 6zM1093 995l3-6v14l-3 6zM1093 1166l3-4v9l-3 4zM1096 810l3-17v42l-3 13zM1099 932l4-10v15l-4 10zM1103 932l3-8v14l-3 7zM1106 1045l5-9v12l-5 9zM1106 1109l5-8v10l-5 7zM1111 905l4-12v21l-4 11zM1115 870l3-11v26l-3 10zM1115 1115l3-4v10l-3 4zM1122 892l4-13v20l-4 12zM1152 1090l4-7v10l-4 7zM1159 866l4-17v23l-4 15zM1159 1081l4-7v9l-4 7zM1173 831l3-17v40l-3 13zM1191 758l4-22v24l-4 35zM1214 993l4-10v15l-4 11zM1239 932l5-18v19l-5 16zM1244 931l3-11v18l-3 10zM1262 864l4-21v23l-4 19zM1262 915l4-16v19l-4 14z"/>
<path fill="#27abff" d="M91 822l5 31v20l-5-26zM148 917l4 14v15l-4-13zM155 925l3 10v12l-3-9zM155 938l3 9v13l-3-9zM184 1024l5 11v12l-5-11zM216 1084l4 7v9l-4-7zM220 880l3 11v20l-3-10zM220 976l3 7v16l-3-7zM231 941l3 8v15l-3-8zM234 908l4 12v18l-4-11zM234 1101l4 7v11l-4-7zM238 1080l3 5v10l-3-5zM241 1065l3 5v10l-3-6zM249 965l3 8v11l-3-7zM255 1120l3 4v8l-3-5zM258 1103l4 6v8l-4-6zM262 1048l4 7v10l-4-7zM283 1102l3 5v6l-3-4zM286 1114l3 4v9l-3-4zM289 814l3 14v32l-3-12zM289 1144l3 4v8l-3-4zM292 1073l3 5v8l-3-4zM298 1086l4 6v9l-4-6zM306 995l4 8v9l-4-8zM306 1109l4 5v7l-4-5zM310 1147l5 6v6l-5-7zM310 1159l5 6v6l-5-6zM315 953l4 8v13l-4-8zM315 1132l4 5v10l-4-5zM319 893l3 8v18l-3-7zM331 1144l4 4v10l-4-4zM335 807l5 22v32l-5-16zM351 1144l4 4v6l-4-4zM355 1192l5 5v7l-5-5zM363 948l3 6v11l-3-5zM366 1059l5 6v11l-5-6zM371 1161l5 5v10l-5-5zM380 1008l4 6v10l-4-5zM380 1088l4 4v10l-4-4zM384 860l3 8v23l-3-7zM387 1114l4 5v6l-4-5zM387 1130l4 4v8l-4-4zM391 1125l4 5v10l-4-5zM391 1154l4 4v9l-4-3zM395 863l4 10v20l-4-9zM395 1215l4 4v6l-4-3zM404 1215l3 3v6l-3-3zM407 893l5 11v16l-5-9zM412 1004l5 6v11l-5-6zM412 1207l5 4v8l-5-4zM417 866l3 7v21l-3-7zM417 1110l3 3v7l-3-3zM417 1230l3 3v5l-3-2zM420 862l4 9v23l-4-8zM420 1094l4 4v9l-4-4zM424 1056l3 3v9l-3-4zM427 1222l4 3v8l-4-3zM431 894l3 6v21l-3-5zM431 1002l3 4v12l-3-3zM434 894l4 7v17l-4-7zM434 1106l4 4v9l-4-3zM438 749l4 22v46l-4-13zM438 804l4 13v33l-4-10zM442 1179l4 3v7l-4-3zM446 805l3 9v33l-3-8zM446 1072l3 3v8l-3-3zM449 896l5 9v17l-5-8zM462 771l4 16v40l-4-11zM462 1210l4 2v8l-4-3zM471 1189l4 3v7l-4-3zM475 1219l5 3v7l-5-3zM483 779l5 17v38l-5-12zM483 1240l5 3v7l-5-2zM488 1220l5 3v7l-5-3zM493 1031l3 3v9l-3-2zM496 807l4 10v33l-4-8zM500 817l3 6v32l-3-5zM500 850l3 5v26l-3-4zM500 1132l3 2v8l-3-2zM503 1278l4 2v7l-4-2zM507 929l4 5v17l-4-4zM507 1223l4 3v7l-4-2zM511 893l4 5v21l-4-4zM511 934l4 4v18l-4-5zM515 919l4 5v19l-4-5zM515 1011l4 4v11l-4-3zM515 1119l4 2v8l-4-3zM519 1113l3 2v8l-3-2zM519 1129l3 2v7l-3-1zM522 884l4 6v22l-4-5zM522 1175l4 2v7l-4-2zM522 1196l4 2v7l-4-2zM522 1238l4 2v7l-4-2zM522 1266l4 2v7l-4-2zM526 1094l3 2v8l-3-2zM526 1155l3 2v7l-3-1zM526 1191l3 1v8l-3-2zM529 893l3 4v22l-3-4zM529 1207l3 1v7l-3-2zM545 889l4 5v22l-4-4zM545 1089l4 2v8l-4-2zM549 1160l3 1v7l-3-1zM552 1132l3 1v8l-3-2zM552 1265l3 1v6l-3-1zM555 1040l4 3v10l-4-2zM559 829l3 4v26l-3-3zM559 1053l3 2v9l-3-1zM562 833l4 6v25l-4-5zM562 1234l4 2v7l-4-2zM566 1243l3 1v6l-3-1zM569 913l4 3v20l-4-3zM569 1169l4 1v7l-4-1zM577 1062l4 2v10l-4-2zM581 773l4 8v30l-4-6zM581 901l4 4v20l-4-2zM581 1099l4 2v7l-4-1zM585 1295l3 1v7l-3-1zM588 928l4 2v19l-4-2zM592 1025l3 1v12l-3-1zM592 1197l3 1v7l-3-1zM595 891l4 3v21l-4-3zM595 1198l4 1v7l-4-1zM599 751l4 0v30l-4-7zM599 1233l4 1v6l-4-1zM603 1099l3 1v8l-3-1zM606 835l5 4v22l-5-4zM606 939l5 2v18l-5-2zM606 957l5 2v17l-5-2zM615 1289l4 1v7l-4-1zM619 846l3 2v20l-3-2zM619 1047l3 1v12l-3-1zM619 1198l3 0v7l-3-1zM622 1264l4 1v7l-4-1zM626 871l4 2v20l-4-2zM626 1186l4 1v6l-4 0zM630 1072l4 1v10l-4-1zM630 1286l4 0v7l-4-1zM634 1234l4 0v7l-4-1zM638 779l4 0v21l-4-4zM638 934l4 1v19l-4-1zM638 1101l4 1v8l-4-1zM642 860l3 1v19l-3-1zM642 1228l3 1v6l-3 0zM645 899l3 1v19l-3-1zM645 1209l3 1v6l-3 0zM645 1255l3 0v7l-3 0zM648 783l4 3v20l-4-2zM648 1155l4 1v7l-4-1zM648 1242l4 1v6l-4 0zM652 1067l4 0v10l-4 0zM652 1112l4 0v8l-4-1zM652 1282l4 0v7l-4 0zM652 1302l4 0v7l-4-1zM656 808l4 2v19l-4-1zM656 1250l4 0v7l-4-1zM660 867l3 1v18l-3-1zM660 904l3 0v19l-3-1zM660 1096l3 1v8l-3 0zM660 1113l3 0v8l-3-1zM660 1302l3 1v6l-3 0zM663 1088l4 0v9l-4 0zM663 1113l4 0v8l-4 0zM667 869l4 0v19l-4-1zM667 1121l4 0v8l-4-1zM667 1205l4 1v6l-4 0zM671 851l4 1v18l-4-1zM671 960l4 1v17l-4-1zM675 852l3 1v18l-3-1zM678 798l5 1v18l-5-1zM678 1008l5 1v14l-5-1zM678 1070l5 0v10l-5 0zM683 1172l3 0v7l-3 0zM683 1200l3 0v6l-3 0zM683 1219l3 0v7l-3 0zM686 872l3 0v18l-3 0zM689 872l4 0v18l-4 0zM689 962l4 0v17l-4 0zM693 800l4 0v18l-4 0zM693 1271l4 0v7l-4 0zM697 926l4 0v18l-4 0zM697 944l4 0v18l-4 0zM697 1151l4 0v8l-4 0zM697 1166l4 0v7l-4 0zM697 1258l4 0v7l-4 0zM701 1304l3 0v6l-3 0zM704 1232l4 0v7l-4 0zM708 1206l5 0v6l-5 1zM713 798l4-1v18l-4 1zM722 869l3-1v19l-3 0zM722 1185l3 0v7l-3 0zM722 1192l3 0v6l-3 1zM725 1178l3 0v7l-3 0zM725 1251l3 0v6l-3 0zM732 1191l4 0v6l-4 1zM732 1198l4-1v7l-4 0zM736 1087l5-1v9l-5 1zM736 1134l5 0v7l-5 1zM736 1184l5-1v7l-5 1zM741 901l3-1v18l-3 1zM741 1269l3-1v7l-3 0zM741 1275l3 0v6l-3 1zM744 1133l4-1v8l-4 0zM748 917l3-1v19l-3 1zM748 1118l3-1v7l-3 1zM748 1216l3-1v7l-3 0zM748 1229l3-1v7l-3 0zM751 1132l4-1v7l-4 1zM751 1188l4 0v7l-4 0zM755 1208l5-1v6l-5 1zM755 1228l5-1v6l-5 1zM755 1300l5-1v6l-5 1zM760 1279l4-1v7l-4 1zM764 831l3-3v21l-3 2zM764 871l3-1v19l-3 2zM764 910l3-1v19l-3 2zM764 1144l3-1v7l-3 1zM764 1186l3-1v7l-3 1zM764 1246l3-1v7l-3 0zM767 1080l4-1v9l-4 1zM767 1106l4-1v7l-4 1zM767 1278l4-1v7l-4 1zM771 825l4-4v22l-4 3zM771 907l4-2v19l-4 2zM771 1048l4-1v11l-4 1zM775 843l5-4v22l-5 3zM775 1204l5-1v6l-5 1zM780 1182l3-1v7l-3 1zM780 1222l3 0v6l-3 1zM788 1247l4-1v7l-4 1zM792 1151l3-1v7l-3 1zM795 1265l4-1v7l-4 1zM799 910l4-3v21l-4 2zM806 781l3-6v31l-3 5zM806 1167l3-1v7l-3 1zM806 1289l3-1v7l-3 0zM809 857l3-3v23l-3 3zM812 1073l5-2v8l-5 3zM817 1119l3-1v7l-3 2zM817 1239l3-1v6l-3 1zM820 1038l4-2v11l-4 2zM820 1133l4-2v8l-4 1zM820 1140l4-1v7l-4 2zM820 1264l4-1v7l-4 1zM832 1019l4-2v12l-4 2zM832 1178l4-1v7l-4 1zM832 1281l4-2v7l-4 1zM836 1148l5-2v7l-5 2zM836 1155l5-2v7l-5 3zM841 1209l4-2v7l-4 2zM841 1223l4-2v7l-4 2zM845 1144l3-2v8l-3 1zM848 1135l3-2v8l-3 1zM848 1206l3-1v7l-3 1zM855 1116l4-3v8l-4 2zM859 773l3-10v44l-3 6zM862 763l3-11v48l-3 7zM862 1234l3-1v7l-3 1zM865 1141l4-3v8l-4 2zM869 1058l4-3v8l-4 3zM873 1271l4-2v7l-4 2zM877 765l4-13v49l-4 10zM877 1118l4-2v7l-4 3zM877 1185l4-3v8l-4 2zM887 926l3-4v18l-3 4zM894 1172l4-3v8l-4 2zM894 1244l4-2v7l-4 2zM902 833l4-9v31l-4 8zM902 887l4-6v22l-4 6zM906 1170l5-3v7l-5 4zM911 862l5-10v26l-5 8zM916 1019l4-4v10l-4 4zM920 829l4-10v32l-4 8zM920 1175l4-3v7l-4 3zM924 1016l3-4v10l-3 3zM927 906l5-9v19l-5 8zM936 857l4-9v25l-4 8zM940 1094l3-2v8l-3 3zM940 1135l3-2v7l-3 2zM943 820l4-13v35l-4 9zM943 1033l4-5v10l-4 4zM954 959l4-6v12l-4 6zM954 1199l4-4v8l-4 3zM958 895l4-8v20l-4 7zM958 914l4-7v15l-4 7zM965 877l4-9v21l-4 8zM965 919l4-8v15l-4 7zM969 762l4-13v43l-4 15zM969 1205l4-3v6l-4 4zM973 1117l4-4v7l-4 4zM981 798l4-17v38l-4 13zM985 749l3 0v0l-3 3zM985 1183l3-3v7l-3 3zM988 921l3-6v19l-3 5zM988 957l3-5v15l-3 5zM988 1199l3-2v6l-3 3zM991 878l3-8v18l-3 6zM991 914l3-7v18l-3 6zM994 845l3-9v27l-3 8zM994 1073l3-3v9l-3 3zM997 1085l3-3v9l-3 3zM997 1220l3-3v8l-3 2zM1003 755l4 0v19l-4 20zM1003 937l4-8v19l-4 8zM1010 844l4-13v36l-4 11zM1014 919l3-6v20l-3 6zM1014 1032l3-5v10l-3 4zM1017 760l5-2v2l-5 29zM1017 1027l5-7v10l-5 7zM1022 1162l4-4v9l-4 4zM1026 1125l3-4v6l-3 4zM1029 1059l3-4v13l-3 4zM1029 1189l3-3v5l-3 3zM1032 1112l4-5v10l-4 5zM1040 1031l3-4v11l-3 5zM1040 1126l3-3v8l-3 4zM1043 921l3-7v17l-3 6zM1046 1117l3-3v7l-3 3zM1054 1000l4-7v9l-4 6zM1054 1104l4-5v9l-4 5zM1061 850l3-11v30l-3 9zM1061 905l3-8v19l-3 7zM1067 894l3-9v25l-3 7zM1074 1075l3-5v8l-3 4zM1081 1050l3-5v7l-3 5zM1084 868l4-14v33l-4 11zM1088 1082l5-8v10l-5 8zM1099 1005l4-8v15l-4 8zM1103 899l3-9v15l-3 8zM1111 970l4-9v16l-4 8zM1111 1082l4-6v6l-4 7zM1118 880l4-14v18l-4 13zM1126 784l4-35v62l-4 20zM1135 850l4-18v38l-4 15zM1146 1070l3-5v8l-3 5zM1149 863l3-12v25l-3 11zM1152 929l4-12v13l-4 11zM1180 829l3-17v27l-3 14zM1180 1040l3-7v8l-3 6zM1191 925l4-13v17l-4 12zM1206 816l5-36v47l-5 26zM1211 791l3-27v50l-3 17zM1235 977l4-11v14l-4 11zM1239 813l5-41v52l-5 28zM1247 953l4-13v17l-4 12zM1251 821l3-21v35l-3 17z"/>
<path fill="#62c0ff" d="M175 819l5 28v35l-5-22zM206 848l4 18v29l-4-15zM213 833l3 15v36l-3-12zM241 761l3 0v44l-3-20zM255 1098l3 5v6l-3-4zM258 773l4 28v36l-4-20zM262 905l4 12v15l-4-11zM279 847l4 15v32l-4-13zM279 1124l4 5v8l-4-6zM279 1150l4 5v9l-4-5zM286 1089l3 4v7l-3-4zM289 898l3 9v16l-3-8zM295 1124l3 5v9l-3-4zM306 848l4 14v24l-4-13zM306 873l4 13v24l-4-11zM322 1023l5 8v13l-5-8zM322 1046l5 8v11l-5-7zM327 779l4 22v55l-4-14zM340 748l3 11v53l-3-14zM351 1177l4 4v8l-4-4zM360 870l3 8v23l-3-8zM363 1062l3 4v12l-3-4zM366 833l5 16v27l-5-14zM366 932l5 10v11l-5-10zM380 1213l4 3v8l-4-4zM384 1103l3 3v11l-3-3zM384 1228l3 2v8l-3-3zM391 844l4 11v23l-4-10zM395 753l4 12v35l-4-18zM395 838l4 12v23l-4-10zM395 1126l4 4v8l-4-4zM395 1196l4 4v6l-4-3zM399 915l5 10v18l-5-9zM399 1197l5 4v8l-5-4zM404 1158l3 3v7l-3-3zM404 1165l3 3v6l-3-3zM407 850l5 13v21l-5-12zM407 1161l5 4v6l-5-4zM412 846l5 13v29l-5-12zM424 926l3 5v17l-3-5zM427 807l4 13v37l-4-9zM427 997l4 6v11l-4-5zM431 1120l3 3v9l-3-3zM431 1197l3 2v7l-3-2zM434 1016l4 5v11l-4-4zM438 1014l4 4v12l-4-5zM449 847l5 12v25l-5-10zM457 917l5 7v17l-5-7zM457 1252l5 3v7l-5-3zM462 1149l4 4v7l-4-3zM466 1111l5 4v8l-5-4zM471 902l4 6v18l-4-5zM475 777l5 17v39l-5-12zM475 821l5 12v30l-5-10zM483 1055l5 5v8l-5-4zM483 1190l5 3v7l-5-3zM493 924l3 4v18l-3-4zM496 1196l4 2v7l-4-2zM500 1220l3 1v7l-3-1zM503 924l4 5v18l-4-4zM515 874l4 6v23l-4-5zM515 1156l4 3v7l-4-2zM515 1221l4 2v7l-4-2zM519 924l3 3v19l-3-3zM519 1209l3 1v7l-3-1zM522 907l4 5v20l-4-5zM522 1039l4 3v9l-4-2zM526 1254l3 1v7l-3-1zM529 1112l3 1v8l-3-2zM529 1192l3 2v7l-3-1zM529 1220l3 2v7l-3-2zM536 1116l3 1v8l-3-2zM539 1094l3 1v8l-3-1zM539 1140l3 2v7l-3-1zM545 805l4 7v30l-4-6zM549 894l3 3v21l-3-2zM555 757l4 2v39l-4-8zM555 921l4 4v19l-4-3zM555 1141l4 2v7l-4-2zM555 1163l4 1v7l-4-1zM555 1238l4 2v7l-4-2zM559 1120l3 1v8l-3-1zM559 1143l3 1v7l-3-1zM562 927l4 4v18l-4-3zM562 1044l4 3v10l-4-2zM562 1187l4 1v7l-4-2zM577 827l4 5v24l-4-4zM577 876l4 3v22l-4-3zM577 1273l4 1v7l-4-1zM577 1280l4 1v7l-4-2zM577 1293l4 1v7l-4-1zM585 837l3 3v23l-3-3zM585 860l3 3v22l-3-2zM585 883l3 2v22l-3-2zM585 925l3 3v19l-3-2zM592 983l3 1v15l-3-1zM592 1184l3 1v6l-3 0zM595 847l4 4v22l-4-4zM599 851l4 3v22l-4-3zM606 919l5 3v19l-5-2zM611 839l4 4v21l-4-3zM611 922l4 2v19l-4-2zM611 1045l4 1v11l-4-1zM611 1196l4 1v7l-4-1zM611 1209l4 1v7l-4-1zM615 843l4 3v20l-4-2zM615 884l4 3v19l-4-2zM615 1008l4 1v14l-4-1zM622 908l4 2v19l-4-2zM626 830l4 3v20l-4-2zM630 853l4 2v20l-4-2zM630 1220l4 1v6l-4-1zM638 877l4 2v19l-4-2zM638 1188l4 1v7l-4-1zM645 880l3 1v19l-3-1zM652 826l4 2v19l-4-2zM656 1197l4 1v7l-4-1zM660 1283l3 0v7l-3-1zM667 813l4 1v19l-4-1zM667 1157l4 1v7l-4-1zM667 1199l4 0v7l-4-1zM671 1179l4 0v7l-4-1zM675 797l3 1v18l-3-1zM675 907l3 0v18l-3 0zM675 993l3 1v14l-3 0zM678 1022l5 1v13l-5-1zM693 890l4 0v18l-4 0zM697 836l4 0v18l-4 0zM697 1310l4 0v7l-4 0zM701 872l3 0v18l-3 0zM701 908l3 0v18l-3 0zM701 1226l3 0v6l-3 0zM701 1310l3 0v7l-3 0zM704 818l4-1v18l-4 1zM704 890l4-1v18l-4 1zM704 908l4-1v18l-4 1zM704 926l4-1v19l-4 0zM704 1080l4 0v10l-4 0zM704 1137l4 0v7l-4 0zM704 1278l4 0v6l-4 0zM708 853l5 0v18l-5 0zM708 1122l5 0v7l-5 0zM722 832l3-1v19l-3 1zM722 1199l3-1v7l-3 0zM725 1225l3-1v7l-3 0zM728 1264l4-1v7l-4 0zM732 1211l4 0v6l-4 1zM736 1243l5 0v6l-5 1zM741 1190l3 0v6l-3 1zM744 862l4-2v19l-4 2zM744 900l4-2v19l-4 1zM751 897l4-2v19l-4 2zM751 1168l4-1v7l-4 1zM751 1267l4 0v6l-4 1zM751 1307l4-1v7l-4 0zM755 1063l5-1v10l-5 2zM760 893l4-2v19l-4 2zM760 1273l4-1v6l-4 1zM771 778l4-6v26l-4 4zM771 1164l4-1v7l-4 1zM775 772l5-8v28l-5 6zM780 792l3-4v25l-3 4zM780 817l3-4v24l-3 2zM780 922l3-2v20l-3 1zM788 1053l4-2v11l-4 2zM792 803l3-4v25l-3 4zM792 873l3-3v22l-3 2zM795 892l4-3v21l-4 3zM799 844l4-4v23l-4 4zM803 1161l3-1v7l-3 1zM806 1124l3-2v8l-3 1zM806 1242l3-1v7l-3 1zM806 1275l3 0v6l-3 1zM809 1166l3-1v7l-3 1zM820 869l4-4v24l-4 4zM820 1118l4-2v8l-4 1zM820 1278l4-1v6l-4 2zM824 865l4-4v24l-4 4zM828 885l4-4v23l-4 4zM828 1055l4-2v10l-4 2zM828 1282l4-1v6l-4 2zM832 1157l4-2v8l-4 1zM836 823l5-9v30l-5 7zM845 865l3-4v26l-3 3zM848 861l3-4v26l-3 4zM848 1120l3-2v8l-3 1zM855 923l4-4v19l-4 4zM862 1079l3-2v9l-3 2zM869 1083l4-3v9l-4 2zM869 1259l4-2v7l-4 2zM877 1094l4-3v9l-4 2zM877 1234l4-2v7l-4 2zM884 1195l3-2v7l-3 2zM890 1234l4-2v7l-4 3zM894 1187l4-3v7l-4 3zM898 1103l4-3v8l-4 3zM898 1215l4-2v7l-4 2zM898 1229l4-2v7l-4 3zM902 1149l4-3v8l-4 2zM906 1221l5-3v7l-5 3zM916 1057l4-4v9l-4 3zM916 1264l4-2v7l-4 2zM920 1197l4-3v8l-4 2zM924 753l3 0v22l-3 11zM924 1044l3-3v10l-3 3zM927 1207l5-3v7l-5 4zM932 1176l4-3v8l-4 3zM936 779l4-18v51l-4 12zM936 1041l4-4v10l-4 4zM936 1182l4-3v8l-4 3zM940 1196l3-2v7l-3 2zM947 816l4-13v38l-4 10zM947 851l4-10v30l-4 9zM947 899l4-7v21l-4 7zM951 1012l3-4v10l-3 3zM958 846l4-11v32l-4 9zM958 1182l4-3v7l-4 3zM962 1144l3-2v8l-3 3zM969 910l4-7v19l-4 7zM977 861l4-11v29l-4 9zM977 968l4-6v13l-4 6zM988 1079l3-4v8l-3 4zM991 1071l3-3v8l-3 4zM991 1123l3-4v9l-3 3zM997 1153l3-3v7l-3 3zM997 1214l3-2v5l-3 3zM1003 1229l4-3v7l-4 3zM1017 1222l5-4v7l-5 5zM1043 1094l3-4v10l-3 4zM1049 824l5-22v45l-5 16zM1049 886l5-14v20l-5 13zM1049 1113l5-7v9l-5 6zM1058 1066l3-5v8l-3 4zM1064 1156l3-3v9l-3 4zM1070 1178l4-5v7l-4 5zM1074 1118l3-4v9l-3 4zM1081 859l3-11v32l-3 9zM1081 912l3-8v19l-3 8zM1093 965l3-6v15l-3 6zM1103 836l3-13v26l-3 11zM1103 1064l3-5v13l-3 5zM1106 933l5-13v20l-5 12zM1106 1152l5-7v8l-5 7zM1111 1127l4-5v9l-4 6zM1118 931l4-11v20l-4 10zM1146 1050l3-6v10l-3 5zM1152 969l4-10v13l-4 10zM1170 1070l3-6v11l-3 5zM1176 759l4-18v3l-4 40zM1176 880l4-16v28l-4 14zM1195 909l4-14v24l-4 13zM1202 910l4-14v16l-4 14zM1206 876l5-22v30l-5 19zM1235 944l4-14v18l-4 12zM1239 914l5-19v19l-5 18zM1244 849l3-16v25l-3 15z"/>
<path fill="#99d5ff" d="M116 892l5 21v20l-5-19zM148 933l4 13v11l-4-12zM168 938l4 13v16l-4-11zM194 1030l5 11v14l-5-11zM241 928l3 8v19l-3-8zM249 890l3 9v23l-3-9zM258 889l4 13v22l-4-12zM266 1060l5 9v7l-5-9zM271 916l4 11v18l-4-11zM275 1056l4 7v12l-4-7zM275 1082l4 6v12l-4-7zM279 924l4 10v15l-4-10zM286 880l3 10v20l-3-8zM302 870l4 13v27l-4-12zM310 1085l5 8v7l-5-7zM310 1172l5 6v6l-5-5zM335 1115l5 7v6l-5-7zM347 868l4 11v18l-4-11zM363 1044l3 4v8l-3-5zM366 862l5 14v24l-5-12zM366 984l5 8v12l-5-8zM391 890l4 9v23l-4-8zM395 1069l4 5v10l-4-5zM404 884l3 7v22l-3-6zM404 1227l3 2v7l-3-2zM412 901l5 10v20l-5-9zM420 1204l4 3v8l-4-3zM431 1015l3 3v10l-3-3zM434 842l4 10v26l-4-8zM434 870l4 8v23l-4-7zM442 1216l4 2v7l-4-3zM446 1171l3 3v7l-3-3zM454 912l3 5v16l-3-5zM454 1158l3 2v8l-3-3zM457 1193l5 4v7l-5-3zM457 1223l5 3v7l-5-3zM466 1150l5 4v7l-5-3zM475 1152l5 4v7l-5-3zM475 1204l5 3v7l-5-3zM480 903l3 5v19l-3-4zM480 1090l3 2v9l-3-3zM483 822l5 12v29l-5-9zM483 1007l5 5v11l-5-5zM488 1009l5 5v10l-5-4zM488 1248l5 3v7l-5-3zM493 825l3 6v30l-3-5zM493 1059l3 2v9l-3-3zM493 1140l3 2v8l-3-2zM496 1167l4 2v8l-4-3zM503 1157l4 2v7l-4-2zM511 1058l4 3v9l-4-3zM511 1275l4 2v6l-4-1zM515 1256l4 2v6l-4-1zM522 1099l4 3v8l-4-3zM536 923l3 3v19l-3-3zM539 1117l3 2v8l-3-2zM539 1266l3 2v6l-3-1zM542 860l3 4v25l-3-3zM542 1111l3 2v8l-3-2zM545 912l4 4v19l-4-3zM545 1172l4 2v7l-4-2zM552 938l3 3v17l-3-2zM555 900l4 4v21l-4-4zM559 1185l3 2v6l-3-1zM559 1192l3 1v7l-3-1zM566 1263l3 1v7l-3-1zM569 1250l4 2v6l-4-1zM573 1177l4 2v6l-4-1zM577 957l4 3v16l-4-2zM577 1172l4 1v7l-4-1zM577 1219l4 2v6l-4-1zM577 1286l4 2v6l-4-1zM581 1173l4 1v7l-4-1zM588 1077l4 1v9l-4-1zM592 889l3 2v21l-3-2zM592 1224l3 1v7l-3-1zM595 932l4 3v18l-4-2zM599 873l4 3v21l-4-3zM606 1181l5 1v7l-5-1zM606 1254l5 2v6l-5-1zM611 1094l4 1v8l-4-1zM615 978l4 2v15l-4-2zM619 906l3 2v19l-3-1zM619 1142l3 1v7l-3-1zM622 868l4 3v20l-4-3zM626 1193l4 0v7l-4-1zM630 893l4 1v20l-4-2zM630 1091l4 1v8l-4-1zM642 879l3 1v19l-3-1zM642 1242l3 0v7l-3-1zM645 972l3 1v16l-3-1zM652 1243l4 0v7l-4-1zM652 1262l4 1v6l-4 0zM656 1191l4 0v7l-4-1zM663 941l4 1v18l-4-1zM663 1150l4 0v7l-4 0zM663 1270l4 0v7l-4 0zM667 1021l4 1v13l-4-1zM671 1264l4 0v7l-4 0zM683 1090l3 0v9l-3-1zM686 1130l3 0v7l-3 0zM686 1304l3 0v6l-3 0zM689 1090l4 0v9l-4 0zM701 926l3 0v18l-3 0zM704 1107l4 0v8l-4 0zM708 871l5 0v18l-5 0zM728 1251l4-1v7l-4 0zM732 885l4-1v18l-4 1zM741 1018l3 0v13l-3 0zM744 1281l4 0v6l-4 1zM748 1189l3-1v7l-3 1zM751 916l4-2v19l-4 2zM755 1092l5-1v8l-5 2zM767 909l4-2v19l-4 2zM767 1070l4-1v10l-4 1zM767 1178l4 0v6l-4 1zM767 1219l4-1v6l-4 1zM775 821l5-4v22l-5 4zM775 1177l5-2v7l-5 2zM775 1276l5-1v7l-5 1zM780 1168l3 0v7l-3 0zM783 880l5-4v21l-5 3zM783 1055l5-2v11l-5 1zM783 1131l5-1v7l-5 2zM788 897l4-3v21l-4 2zM788 1130l4-1v7l-4 1zM792 1299l3-1v7l-3 1zM803 815l3-4v26l-3 3zM803 863l3-3v23l-3 2zM809 1281l3-1v7l-3 1zM812 1227l5-2v7l-5 1zM812 1240l5-1v6l-5 2zM817 1259l3-1v6l-3 1zM828 928l4-3v19l-4 3zM851 1191l4-2v7l-4 2zM862 935l3-3v18l-3 3zM862 1112l3-2v8l-3 1zM869 1039l4-3v10l-4 3zM869 1131l4-3v8l-4 2zM869 1287l4-2v7l-4 2zM873 852l4-7v28l-4 6zM873 1229l4-2v7l-4 2zM877 897l4-5v21l-4 5zM877 1192l4-2v7l-4 2zM877 1283l4-2v7l-4 2zM884 1106l3-3v8l-3 3zM887 1222l3-2v7l-3 2zM890 819l4-10v35l-4 7zM890 1085l4-3v8l-4 3zM898 833l4-9v31l-4 8zM906 888l5-9v22l-5 8zM920 790l4-15v44l-4 10zM920 956l4-5v15l-4 4zM920 1122l4-3v8l-4 3zM924 1234l3-2v8l-3 1zM927 757l5 0v7l-5 21zM927 1131l5-4v8l-5 4zM932 825l4-12v34l-4 9zM951 898l3-6v20l-3 6zM951 1227l3-2v7l-3 2zM954 1105l4-4v8l-4 4zM954 1159l4-4v8l-4 4zM958 876l4-9v20l-4 8zM962 890l3-6v22l-3 5zM962 930l3-5v17l-3 5zM962 1232l3-2v7l-3 2zM973 851l4-11v34l-4 9zM973 923l4-7v15l-4 7zM973 1227l4-3v8l-4 3zM985 934l3-5v18l-3 5zM1003 1144l4-4v7l-4 4zM1010 878l4-11v22l-4 9zM1014 1106l3-3v9l-3 3zM1026 923l3-6v19l-3 6zM1029 894l3-8v25l-3 7zM1029 1072l3-4v8l-3 4zM1032 1208l4-4v8l-4 4zM1036 914l4-10v17l-4 9zM1046 920l3-7v20l-3 6zM1046 1192l3-3v6l-3 3zM1054 917l4-10v16l-4 9zM1058 949l3-7v18l-3 6zM1070 879l4-13v27l-4 11zM1070 917l4-10v20l-4 9zM1074 923l3-7v20l-3 7zM1081 948l3-7v19l-3 6zM1093 916l3-9v15l-3 7zM1103 1054l3-5v10l-3 5zM1111 943l4-10v12l-4 10zM1122 938l4-11v16l-4 10zM1126 901l4-13v20l-4 12zM1139 1043l4-8v11l-4 7zM1143 1012l3-7v13l-3 6zM1149 988l3-7v9l-3 7zM1152 1106l4-6v7l-4 7zM1159 887l4-15v19l-4 14zM1163 923l3-9v19l-3 8zM1173 933l3-9v17l-3 8zM1176 926l4-12v15l-4 12zM1180 937l3-9v19l-3 8zM1180 1060l3-6v8l-3 6zM1202 1033l4-9v9l-4 9zM1206 1029l5-11v14l-5 11zM1214 928l4-14v15l-4 13zM1222 982l5-14v13l-5 14zM1231 884l4-18v25l-4 16zM1251 918l3-11v19l-3 10zM1266 913l3-11v21l-3 11zM1272 911l4-16v19l-4 15zM1279 879l4-20v20l-4 18z"/>
<path fill="#cceaff" d="M141 905l4 15v14l-4-14zM220 917l3 9v16l-3-9zM234 1053l4 8v12l-4-7zM258 912l4 12v17l-4-11zM271 997l4 8v15l-4-8zM279 903l4 11v20l-4-10zM279 1080l4 7v9l-4-6zM292 1040l3 5v13l-3-5zM295 908l3 8v16l-3-7zM306 1158l4 5v6l-4-4zM322 901l5 13v16l-5-12zM347 886l4 11v24l-4-9zM360 893l3 8v18l-3-7zM366 914l5 11v17l-5-10zM380 893l4 9v16l-4-8zM380 1225l4 4v6l-4-3zM395 900l4 9v21l-4-8zM412 1179l5 5v7l-5-4zM417 1171l3 2v9l-3-2zM424 1187l3 2v7l-3-2zM427 1192l4 3v7l-4-3zM438 909l4 7v17l-4-6zM438 1210l4 3v8l-4-3zM446 1116l3 3v8l-3-2zM446 1250l3 2v7l-3-2zM454 960l3 4v14l-3-4zM457 1067l5 5v8l-5-5zM475 1137l5 4v7l-5-4zM480 781l3 10v40l-3-7zM483 748l5 0v48l-5-17zM483 1226l5 3v7l-5-3zM488 780l5 16v38l-5-11zM488 1169l5 3v7l-5-3zM493 1076l3 2v9l-3-3zM500 1241l3 2v7l-3-2zM507 862l4 6v25l-4-6zM507 887l4 6v22l-4-6zM519 903l3 4v20l-3-3zM529 1142l3 2v7l-3-1zM536 878l3 4v23l-3-3zM536 990l3 2v14l-3-3zM536 1217l3 1v7l-3-1zM542 908l3 4v20l-3-3zM545 836l4 6v27l-4-5zM549 954l3 2v16l-3-2zM549 1236l3 1v7l-3-1zM549 1277l3 1v7l-3-1zM555 851l4 5v25l-4-5zM555 1218l4 2v6l-4-1zM559 904l3 3v20l-3-2zM559 1157l3 1v8l-3-2zM562 859l4 5v24l-4-4zM569 891l4 3v22l-4-3zM577 898l4 3v22l-4-3zM577 1253l4 1v7l-4-1zM581 1107l4 1v8l-4-2zM585 1116l3 1v8l-3-1zM585 1255l3 1v7l-3-1zM599 915l4 2v20l-4-2zM603 917l3 2v20l-3-2zM611 902l4 2v20l-4-2zM615 1256l4 1v7l-4-1zM615 1303l4 0v7l-4-1zM622 946l4 2v18l-4-2zM630 1187l4 0v7l-4-1zM645 936l3 1v19l-3-1zM648 1229l4 1v6l-4 0zM648 1236l4 0v7l-4-1zM656 884l4 1v19l-4-1zM667 887l4 1v18l-4-1zM671 1143l4 1v7l-4 0zM675 888l3 1v18l-3 0zM678 1129l5 0v8l-5 0zM683 1232l3 0v7l-3 0zM683 1284l3 0v7l-3 0zM686 1213l3 0v6l-3 0zM693 926l4 0v18l-4 0zM693 1200l4 0v6l-4 0zM704 1151l4 0v7l-4 0zM708 1107l5 0v7l-5 1zM708 1304l5 0v6l-5 0zM713 1070l4-1v11l-4 0zM713 1172l4 0v7l-4 0zM713 1186l4 0v6l-4 1zM722 887l3 0v18l-3 1zM732 903l4-1v19l-4 1zM748 1248l3 0v6l-3 1zM771 1277l4-1v7l-4 1zM775 864l5-3v21l-5 3zM775 1119l5-2v8l-5 1zM783 1044l5-2v11l-5 2zM795 799l4-6v27l-4 4zM795 824l4-4v24l-4 4zM799 867l4-4v22l-4 4zM803 1243l3-1v7l-3 1zM806 1139l3-2v8l-3 1zM812 1121l5-2v8l-5 2zM836 1177l5-2v7l-5 2zM848 1112l3-2v8l-3 2zM862 1127l3-2v8l-3 2zM862 1157l3-2v8l-3 1zM865 1198l4-2v7l-4 2zM865 1219l4-2v7l-4 2zM869 1252l4-2v7l-4 2zM898 1172l4-3v7l-4 3zM902 1236l4-2v7l-4 2zM932 881l4-7v21l-4 7zM940 1232l3-2v7l-3 2zM951 1171l3-3v8l-3 2zM954 1175l4-3v8l-4 3zM958 760l4 0v0l-4 15zM973 883l4-9v21l-4 8zM985 870l3-8v26l-3 7zM988 939l3-5v18l-3 5zM1000 1092l3-3v7l-3 3zM1003 1195l4-4v7l-4 4zM1007 902l3-7v22l-3 6zM1007 1185l3-3v7l-3 3zM1010 898l4-9v23l-4 8zM1010 1203l4-3v5l-4 3zM1040 1149l3-4v8l-3 4zM1049 905l5-13v25l-5 12zM1064 885l3-8v27l-3 8zM1084 898l4-11v14l-4 11zM1088 986l5-11v11l-5 9zM1135 904l4-12v16l-4 12zM1146 893l3-10v14l-3 10zM1163 888l3-11v17l-3 10zM1186 892l5-19v24l-5 17zM1222 894l5-21v28l-5 18zM1231 907l4-16v16l-4 15zM1239 890l5-21v26l-5 19zM1239 949l5-16v12l-5 16zM1251 896l3-13v24l-3 11z"/>
<path fill="#ffffff" d="M158 944l3 9v16l-3-9zM161 908l4 14v22l-4-13zM175 909l5 17v16l-5-16zM228 916l3 9v19l-3-8zM228 950l3 8v18l-3-8zM231 993l3 7v13l-3-6zM234 1015l4 9v13l-4-9zM238 913l3 9v18l-3-8zM255 1105l3 4v7l-3-5zM283 1133l3 4v6l-3-4zM283 1139l3 4v10l-3-4zM292 1127l3 4v10l-3-5zM322 1156l5 6v9l-5-6zM331 1085l4 5v9l-4-6zM335 1180l5 5v9l-5-6zM340 1190l3 3v6l-3-3zM343 1089l4 5v9l-4-5zM366 1128l5 6v7l-5-5zM366 1160l5 5v6l-5-5zM371 1136l5 6v9l-5-5zM387 1170l4 3v6l-4-3zM395 1057l4 5v12l-4-5zM395 1175l4 3v9l-4-4zM404 1171l3 3v8l-3-3zM412 965l5 8v12l-5-8zM424 943l3 5v14l-3-4zM438 748l4 0v23l-4-22zM438 1134l4 3v9l-4-4zM442 756l4 20v45l-4-12zM442 809l4 12v35l-4-9zM442 847l4 9v25l-4-9zM446 750l3 0v24l-3-15zM446 839l3 8v26l-3-7zM446 866l3 7v20l-3-5zM446 1125l3 2v8l-3-2zM449 759l5 23v42l-5-15zM449 809l5 15v35l-5-12zM449 874l5 10v21l-5-9zM449 961l5 7v12l-5-6zM454 769l3 13v41l-3-9zM454 814l3 9v30l-3-7zM454 846l3 7v25l-3-6zM454 872l3 6v20l-3-5zM454 893l3 5v19l-3-5zM454 1150l3 2v8l-3-2zM457 749l5 0v37l-5-22zM457 764l5 22v42l-5-14zM457 814l5 14v30l-5-11zM457 847l5 11v25l-5-10zM457 873l5 10v22l-5-8zM457 897l5 8v19l-5-7zM462 748l4 0v39l-4-16zM462 816l4 11v32l-4-9zM462 850l4 9v25l-4-8zM462 876l4 8v22l-4-7zM462 899l4 7v18l-4-7zM462 1238l4 3v7l-4-3zM466 760l5 0v30l-5-19zM466 771l5 19v40l-5-13zM466 817l5 13v29l-5-10zM466 849l5 10v26l-5-9zM466 876l5 9v21l-5-8zM466 898l5 8v19l-5-7zM471 777l4 14v41l-4-10zM471 822l4 10v29l-4-8zM471 853l4 8v25l-4-7zM471 879l4 7v22l-4-6zM471 1044l4 3v9l-4-3zM475 749l5 0v45l-5-17zM475 853l5 10v24l-5-8zM475 879l5 8v22l-5-8zM475 901l5 8v19l-5-7zM475 1121l5 4v8l-5-4zM480 824l3 7v30l-3-6zM480 855l3 6v25l-3-5zM480 881l3 5v22l-3-5zM483 854l5 9v25l-5-8zM483 880l5 8v22l-5-8zM483 902l5 8v19l-5-7zM483 1145l5 4v7l-5-3zM483 1219l5 3v7l-5-3zM483 1233l5 3v7l-5-3zM488 854l5 10v24l-5-8zM488 880l5 8v22l-5-7zM488 903l5 7v19l-5-6zM488 1183l5 3v8l-5-3zM488 1205l5 3v7l-5-3zM493 856l3 5v26l-3-5zM493 882l3 5v22l-3-5zM496 842l4 8v27l-4-7zM496 870l4 7v23l-4-6zM496 894l4 6v21l-4-6zM496 1064l4 3v9l-4-3zM500 877l3 4v23l-3-4zM500 900l3 4v20l-3-3zM503 855l4 7v25l-4-6zM503 881l4 6v22l-4-5zM503 904l4 5v20l-4-5zM507 909l4 6v19l-4-5zM507 1037l4 3v9l-4-3zM507 1280l4 2v7l-4-2zM511 840l4 7v27l-4-6zM515 898l4 5v21l-4-5zM519 854l3 4v26l-3-4zM519 1144l3 2v7l-3-2zM519 1173l3 2v7l-3-2zM519 1271l3 2v7l-3-2zM522 927l4 5v18l-4-4zM522 1189l4 2v7l-4-2zM522 1203l4 2v7l-4-2zM526 932l3 3v18l-3-3zM529 840l3 5v28l-3-4zM529 935l3 3v18l-3-3zM532 845l4 6v27l-4-5zM532 919l4 4v19l-4-4zM536 1153l3 2v7l-3-1zM539 1204l3 2v7l-3-2zM542 929l3 3v18l-3-3zM545 864l4 5v25l-4-5zM545 932l4 3v19l-4-4zM549 869l3 4v24l-3-3zM549 916l3 2v20l-3-3zM552 873l3 3v24l-3-3zM552 897l3 3v21l-3-3zM552 918l3 3v20l-3-3zM552 1147l3 1v7l-3-1zM552 1196l3 1v7l-3-1zM559 925l3 2v19l-3-2zM562 884l4 4v22l-4-3zM562 907l4 3v21l-4-4zM562 1193l4 2v7l-4-2zM566 864l3 3v24l-3-3zM566 888l3 3v22l-3-3zM566 931l3 2v19l-3-3zM566 1047l3 1v10l-3-1zM569 1277l4 2v6l-4-1zM573 936l4 3v18l-4-2zM573 1028l4 2v11l-4-2zM577 920l4 3v19l-4-3zM577 1185l4 2v7l-4-2zM581 879l4 4v22l-4-4zM581 923l4 2v20l-4-3zM581 1137l4 2v7l-4-2zM585 905l3 2v21l-3-3zM585 1235l3 1v7l-3-1zM588 863l4 4v22l-4-4zM588 885l4 4v21l-4-3zM588 964l4 3v16l-4-2zM588 1270l4 1v6l-4-1zM592 910l3 2v20l-3-2zM592 930l3 2v19l-3-2zM592 1111l3 1v8l-3-1zM592 1177l3 1v7l-3-1zM595 1112l4 1v8l-4-1zM595 1258l4 1v7l-4-1zM599 894l4 3v20l-4-2zM603 897l3 2v20l-3-2zM603 1166l3 1v7l-3-1zM606 1160l5 1v7l-5-1zM615 1046l4 1v12l-4-2zM619 926l3 1v19l-3-1zM622 888l4 3v19l-4-2zM622 964l4 2v16l-4-1zM626 948l4 2v17l-4-1zM630 873l4 2v19l-4-1zM630 967l4 2v16l-4-1zM630 1240l4 0v7l-4-1zM630 1299l4 0v7l-4-1zM634 914l4 1v19l-4-2zM634 1201l4 1v6l-4-1zM634 1240l4 1v6l-4 0zM638 915l4 2v18l-4-1zM638 1208l4 1v6l-4 0zM638 1274l4 0v7l-4-1zM642 898l3 1v19l-3-1zM642 1287l3 1v6l-3 0zM642 1300l3 1v6l-3 0zM645 1281l3 1v6l-3 0zM652 920l4 1v18l-4-1zM652 1056l4 0v11l-4 0zM652 1269l4 0v7l-4 0zM652 1295l4 1v6l-4 0zM656 903l4 1v18l-4-1zM660 922l3 1v18l-3-1zM663 886l4 1v18l-4-1zM663 1244l4 0v7l-4 0zM667 905l4 1v18l-4-1zM667 1251l4 0v7l-4-1zM671 906l4 1v18l-4-1zM671 924l4 1v18l-4-1zM675 925l3 0v18l-3 0zM678 925l5 0v19l-5-1zM683 889l3 1v18l-3-1zM683 907l3 1v18l-3-1zM683 925l3 1v18l-3 0zM686 890l3 0v18l-3 0zM686 908l3 0v18l-3 0zM686 926l3 0v18l-3 0zM689 908l4 0v18l-4 0zM689 926l4 0v18l-4 0zM689 1252l4 0v6l-4 0zM693 908l4 0v18l-4 0zM697 908l4 0v18l-4 0zM701 1258l3 0v7l-3 0zM704 1193l4 0v7l-4 0zM708 907l5 0v18l-5 0zM708 925l5 0v18l-5 1zM713 907l4-1v19l-4 0zM713 1008l4 0v14l-4 0zM713 1232l4 0v6l-4 1zM717 1089l5 0v8l-5 1zM722 924l3-1v18l-3 1zM725 887l3-1v18l-3 1zM736 1197l5 0v6l-5 1zM736 1230l5 0v6l-5 1zM741 1044l3-1v12l-3 0zM741 1103l3 0v8l-3 0zM748 1147l3-1v8l-3 0zM748 1287l3 0v7l-3 0zM751 1215l4-1v7l-4 1zM755 895l5-2v19l-5 2zM755 1195l5-1v6l-5 1zM760 1027l4-1v12l-4 1zM767 783l4-5v24l-4 4zM767 889l4-2v20l-4 2zM771 802l4-4v23l-4 4zM775 798l5-6v25l-5 4zM775 1156l5-2v7l-5 2zM780 882l3-2v20l-3 2zM783 858l5-4v22l-5 4zM788 832l4-4v23l-4 3zM788 876l4-3v21l-4 3zM788 1107l4-1v7l-4 2zM792 828l3-4v24l-3 3zM792 851l3-3v22l-3 3zM792 894l3-2v21l-3 2zM795 1278l4-1v7l-4 1zM799 889l4-4v22l-4 3zM803 1094l3-1v8l-3 1zM806 1056l3-1v10l-3 1zM809 1145l3-1v7l-3 1zM809 1173l3-1v7l-3 1zM809 1208l3-1v6l-3 1zM812 1063l5-2v10l-5 2zM817 1212l3-2v7l-3 1zM820 1197l4-2v7l-4 2zM824 1223l4-2v7l-4 1zM832 1233l4-1v6l-4 2zM841 1264l4-2v7l-4 2zM862 1088l3-2v8l-3 2zM865 1184l4-2v7l-4 2zM869 1066l4-3v9l-4 3zM869 1182l4-2v7l-4 2zM873 1128l4-2v8l-4 2zM873 1222l4-2v7l-4 2zM881 1116l3-2v7l-3 2zM887 1229l3-2v7l-3 2zM894 1143l4-3v7l-4 3zM902 863l4-8v26l-4 6zM911 908l5-8v20l-5 7zM911 1067l5-4v8l-5 4zM920 749l4 0v26l-4 15zM924 827l3-8v32l-3 7zM924 858l3-7v26l-3 6zM924 883l3-6v23l-3 5zM924 1176l3-3v8l-3 2zM924 1183l3-2v7l-3 2zM927 785l5-21v51l-5 13zM927 828l5-13v34l-5 11zM927 860l5-11v25l-5 10zM927 884l5-10v23l-5 9zM927 1147l5-4v7l-5 4zM927 1169l5-3v8l-5 3zM932 781l4-18v50l-4 12zM932 856l4-9v27l-4 7zM940 774l3-15v52l-3 9zM940 856l3-7v27l-3 6zM940 1254l3-2v7l-3 2zM943 751l4 0v1l-4 21zM943 851l4-9v28l-4 8zM943 901l4-7v19l-4 6zM947 760l4 0v0l-4 16zM947 1141l4-4v8l-4 4zM951 748l3 0v4l-3 17zM951 1219l3-2v8l-3 2zM954 849l4-10v32l-4 8zM954 914l4-7v16l-4 6zM958 816l4-14v33l-4 11zM962 758l3-9v49l-3 10zM962 868l3-7v23l-3 6zM969 1167l4-3v8l-4 4zM973 1068l4-5v8l-4 5zM973 1189l4-3v8l-4 3zM973 1219l4-3v8l-4 3zM981 1104l4-4v10l-4 4zM985 1226l3-3v7l-3 2zM997 1194l3-3v7l-3 3zM1003 1048l4-5v8l-4 5zM1007 967l3-5v14l-3 5zM1014 1122l3-4v7l-3 3zM1017 1013l5-8v15l-5 7zM1017 1195l5-5v7l-5 5zM1017 1216l5-5v7l-5 4zM1026 1163l3-3v9l-3 3zM1029 1043l3-4v8l-3 4zM1040 1051l3-5v8l-3 4zM1043 1138l3-4v7l-3 4zM1130 1130l5-8v8l-5 8zM1149 1103l3-5v7l-3 5zM1156 1104l3-6v11l-3 5zM1163 1023l3-6v10l-3 7z"/>
</g>
<g fill="none" stroke="#fff" stroke-width="3.6" stroke-dasharray="3.60 7.43">
<line x1="21.70" y1="0" x2="618.5" y2="0" transform="translate(695.5 692.0) rotate(0)"/>
<line x1="21.70" y1="0" x2="618.5" y2="0" transform="translate(695.5 692.0) rotate(15)"/>
<line x1="21.70" y1="0" x2="618.5" y2="0" transform="translate(695.5 692.0) rotate(30)"/>
<line x1="21.70" y1="0" x2="618.5" y2="0" transform="translate(695.5 692.0) rotate(45)"/>
<line x1="21.70" y1="0" x2="618.5" y2="0" transform="translate(695.5 692.0) rotate(60)"/>
<line x1="21.70" y1="0" x2="618.5" y2="0" transform="translate(695.5 692.0) rotate(75)"/>
<line x1="21.70" y1="0" x2="618.5" y2="0" transform="translate(695.5 692.0) rotate(90)"/>
<line x1="21.70" y1="0" x2="618.5" y2="0" transform="translate(695.5 692.0) rotate(105)"/>
<line x1="21.70" y1="0" x2="618.5" y2="0" transform="translate(695.5 692.0) rotate(120)"/>
<line x1="21.70" y1="0" x2="618.5" y2="0" transform="translate(695.5 692.0) rotate(135)"/>
<line x1="21.70" y1="0" x2="618.5" y2="0" transform="translate(695.5 692.0) rotate(150)"/>
<line x1="21.70" y1="0" x2="618.5" y2="0" transform="translate(695.5 692.0) rotate(165)"/>
<line x1="21.70" y1="0" x2="618.5" y2="0" transform="translate(695.5 692.0) rotate(180)"/>
<line x1="21.70" y1="0" x2="618.5" y2="0" transform="translate(695.5 692.0) rotate(195)"/>
<line x1="21.70" y1="0" x2="618.5" y2="0" transform="translate(695.5 692.0) rotate(210)"/>
<line x1="21.70" y1="0" x2="618.5" y2="0" transform="translate(695.5 692.0) rotate(225)"/>
<line x1="21.70" y1="0" x2="618.5" y2="0" transform="translate(695.5 692.0) rotate(240)"/>
<line x1="21.70" y1="0" x2="618.5" y2="0" transform="translate(695.5 692.0) rotate(255)"/>
<line x1="21.70" y1="0" x2="618.5" y2="0" transform="translate(695.5 692.0) rotate(270)"/>
<line x1="21.70" y1="0" x2="618.5" y2="0" transform="translate(695.5 692.0) rotate(285)"/>
<line x1="21.70" y1="0" x2="618.5" y2="0" transform="translate(695.5 692.0) rotate(300)"/>
<line x1="21.70" y1="0" x2="618.5" y2="0" transform="translate(695.5 692.0) rotate(315)"/>
<line x1="21.70" y1="0" x2="618.5" y2="0" transform="translate(695.5 692.0) rotate(330)"/>
<line x1="21.70" y1="0" x2="618.5" y2="0" transform="translate(695.5 692.0) rotate(345)"/>
<circle cx="695.5" cy="692.0" r="160.0" stroke-dasharray="3.60 7.447" stroke-dashoffset="1.80"/>
<circle cx="695.5" cy="692.0" r="318.0" stroke-dasharray="3.60 7.439" stroke-dashoffset="1.80"/>
<circle cx="695.5" cy="692.0" r="471.5" stroke-dasharray="3.60 7.413" stroke-dashoffset="1.80"/>
<circle cx="695.5" cy="692.0" r="616.5" stroke-dasharray="3.60 7.436" stroke-dashoffset="1.80"/>
</g>
<circle cx="695.6" cy="692.0" r="12.3" fill="none" stroke="#fff" stroke-width="4"/>
<line x1="695.6" y1="692.5" x2="695.6" y2="1308.6" stroke="#e0440e" stroke-width="4.7"/>
<g transform="translate(695.5 692.0) rotate(8.15)" stroke="#fff" stroke-width="4.6" fill="none">
<line x1="-0.5" y1="0" x2="14.5" y2="0" stroke-linecap="round"/>
<line x1="32" y1="0" x2="146" y2="0" stroke-dasharray="15.8 15.7"/>
<line x1="319" y1="0" x2="618" y2="0" stroke-dasharray="16.2 15.27"/>
</g>
<g fill="#fff" font-size="36">
<text x="857.7" y="958">+70<tspan font-size="17" dy="-15.5" dx="1">o</tspan></text>
<text x="1038.3" y="1196">+50<tspan font-size="17" dy="-15.5" dx="1">o</tspan></text>
</g>
</g>
<g fill="#000" font-size="50" text-anchor="middle">
<text x="694.3" y="55.3">24:00</text>
<text x="694.3" y="1362.8">12:00</text>
<text transform="translate(57 692.7) rotate(-90)">06:00</text>
<text transform="translate(1330.3 688.2) rotate(90)">18:00</text>
</g>
<rect x="1338.4" y="1000.2" width="47.5" height="307.6" fill="url(#cb)" stroke="#000" stroke-width="2"/>
<path d="M1338.4 1245.0h2.4M1385.9 1245.0h-2.4M1338.4 1208.3h2.4M1385.9 1208.3h-2.4M1338.4 1182.3h2.4M1385.9 1182.3h-2.4M1338.4 1162.1h2.4M1385.9 1162.1h-2.4M1338.4 1145.6h2.4M1385.9 1145.6h-2.4M1338.4 1131.6h2.4M1385.9 1131.6h-2.4M1338.4 1119.5h2.4M1385.9 1119.5h-2.4M1338.4 1108.8h2.4M1385.9 1108.8h-2.4M1338.4 1036.5h2.4M1385.9 1036.5h-2.4M1338.4 1099.3h4.8M1385.9 1099.3h-4.8M1347.9 1000.2v5M1357.4 1000.2v5M1366.9 1000.2v5M1376.4 1000.2v5M1339.6 1000.2v2.6M1342.0 1000.2v2.6M1344.3 1000.2v2.6M1346.7 1000.2v2.6M1349.1 1000.2v2.6M1351.5 1000.2v2.6M1353.8 1000.2v2.6M1356.2 1000.2v2.6M1358.6 1000.2v2.6M1361.0 1000.2v2.6M1363.3 1000.2v2.6M1365.7 1000.2v2.6M1368.1 1000.2v2.6M1370.5 1000.2v2.6M1372.8 1000.2v2.6M1375.2 1000.2v2.6M1377.6 1000.2v2.6M1380.0 1000.2v2.6M1382.3 1000.2v2.6M1384.7 1000.2v2.6" stroke="#000" stroke-width="1.3" fill="none" opacity="0.85"/>
<g fill="#000">
<text x="1315.6" y="985" font-size="37.7">kR H<tspan font-size="16" dy="4.8" dx="1.5">2</tspan></text>
<text x="1394.2" y="1109" font-size="30">10</text>
<text x="1394.2" y="1308" font-size="30">1</text>
</g>
</svg></body></html>
